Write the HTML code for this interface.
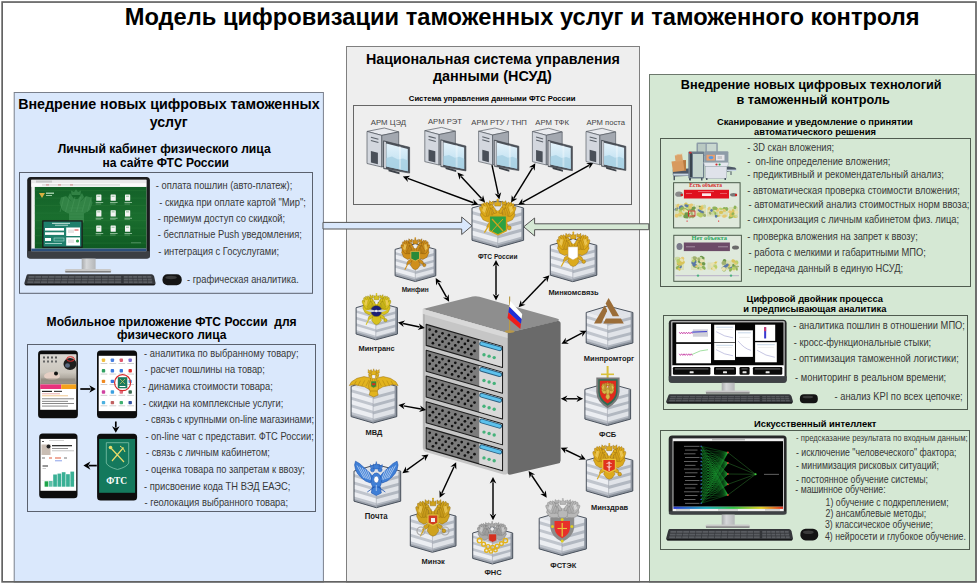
<!DOCTYPE html>
<html><head><meta charset="utf-8"><style>
html,body{margin:0;padding:0;background:#fff;}
svg{display:block;font-family:"Liberation Sans", sans-serif;}
</style></head><body>
<svg width="978" height="584" viewBox="0 0 978 584">
<defs><linearGradient id="scr" x1="0" y1="0" x2="0" y2="1"><stop offset="0" stop-color="#e4f2fa"/><stop offset="1" stop-color="#b5dcef"/></linearGradient><linearGradient id="gpage" x1="0" y1="0" x2="0" y2="1"><stop offset="0" stop-color="#136128"/><stop offset="0.5" stop-color="#1a6e2e"/><stop offset="1" stop-color="#0f5a22"/></linearGradient><linearGradient id="photo" x1="0" y1="0" x2="0" y2="1"><stop offset="0" stop-color="#d9d6d0"/><stop offset="0.6" stop-color="#cbc6bd"/><stop offset="1" stop-color="#8e877c"/></linearGradient><linearGradient id="stand" x1="0" y1="0" x2="1" y2="0"><stop offset="0" stop-color="#a9abad"/><stop offset="0.35" stop-color="#d6d8da"/><stop offset="1" stop-color="#b4b6b8"/></linearGradient><linearGradient id="rainbow" x1="0" y1="0" x2="1" y2="0"><stop offset="0" stop-color="#2a3ad0"/><stop offset="0.3" stop-color="#20b0c0"/><stop offset="0.55" stop-color="#30c040"/><stop offset="0.8" stop-color="#e0d020"/><stop offset="1" stop-color="#e03020"/></linearGradient></defs>
<rect x="0" y="0" width="978" height="584" fill="#fff"/>
<rect x="14.2" y="92.5" width="309.2" height="489.5" fill="#dae8fc" stroke="#7a808c" stroke-width="1"/>
<rect x="346.5" y="46.5" width="293" height="535.5" fill="#eeeeee" stroke="#7f7f7f" stroke-width="1"/>
<rect x="649.5" y="74.5" width="326.5" height="507.5" fill="#d5e8d4" stroke="#6c786c" stroke-width="1"/>
<rect x="2.15" y="2.05" width="973.85" height="579.8" fill="none" stroke="#636363" stroke-width="1.7"/>
<rect x="19.5" y="172.5" width="293.0" height="120.80000000000001" fill="none" stroke="#5a616e" stroke-width="1"/>
<rect x="27.5" y="344.5" width="288.0" height="167.0" fill="none" stroke="#5a616e" stroke-width="1"/>
<rect x="353.5" y="105.5" width="278.0" height="99.0" fill="none" stroke="#666" stroke-width="1"/>
<rect x="660.5" y="138.5" width="310.0" height="148.0" fill="none" stroke="#4f5b4f" stroke-width="1"/>
<rect x="663.5" y="315.5" width="304.0" height="94.0" fill="none" stroke="#4f5b4f" stroke-width="1"/>
<rect x="660.5" y="430.5" width="309.0" height="119.0" fill="none" stroke="#4f5b4f" stroke-width="1"/>
<polygon points="323.00,222.40 461.70,222.40 461.70,217.00 472.00,225.80 461.70,234.50 461.70,229.00 323.00,229.00" fill="#dae8fc" stroke="#555" stroke-width="1" stroke-linejoin="round"/>
<polygon points="648.80,223.80 534.60,223.80 534.60,218.00 523.70,226.80 534.60,236.00 534.60,229.70 648.80,229.70" fill="#d5e8d4" stroke="#555" stroke-width="1" stroke-linejoin="round"/>
<path d="M422.9,308.9 L472.5,296.6 Q476,295.8 479.5,296.8 L557,318.6 Q561,320 557.5,321.2 L507.4,333 Z" fill="#8e8e8e"/>
<path d="M507.4,333 L557.5,321 Q560.6,320.6 560.6,323.5 L560.6,460.5 Q560.6,463 558,463.6 L511,474.5 Q507.4,475.2 507.4,472 Z" fill="#6a6a6a"/>
<path d="M422.9,308.9 L507.4,333 L507.4,472 Q507.4,475.3 503.5,474.4 L426,452 Q422.9,451.1 422.9,448 Z" fill="#c6c6c6"/>
<polygon points="422.90,308.90 507.40,333.00 507.40,338.00 422.90,314.00" fill="#d8d8d8" stroke="none" stroke-width="1" stroke-linejoin="round"/>
<polygon points="422.90,314.00 425.00,314.60 425.00,449.00 422.90,448.40" fill="#b5b5b5" stroke="none" stroke-width="1" stroke-linejoin="round"/>
<polygon points="426.20,324.40 502.50,346.41 502.50,367.41 426.20,345.40" fill="#7c7c7c" stroke="#1e1e1e" stroke-width="1.1" stroke-linejoin="round"/>
<polygon points="479.20,340.19 502.00,346.77 502.00,366.77 479.20,360.19" fill="#d9d9d9" stroke="none" stroke-width="1" stroke-linejoin="round"/>
<g fill="#111"><circle cx="429.70" cy="329.61" r="1.35"/><circle cx="436.10" cy="331.46" r="1.35"/><circle cx="442.50" cy="333.30" r="1.35"/><circle cx="448.90" cy="335.15" r="1.35"/><circle cx="455.30" cy="337.00" r="1.35"/><circle cx="461.70" cy="338.84" r="1.35"/><circle cx="468.10" cy="340.69" r="1.35"/><circle cx="474.50" cy="342.53" r="1.35"/><circle cx="432.90" cy="334.73" r="1.35"/><circle cx="439.30" cy="336.58" r="1.35"/><circle cx="445.70" cy="338.43" r="1.35"/><circle cx="452.10" cy="340.27" r="1.35"/><circle cx="458.50" cy="342.12" r="1.35"/><circle cx="464.90" cy="343.96" r="1.35"/><circle cx="471.30" cy="345.81" r="1.35"/><circle cx="429.70" cy="338.01" r="1.35"/><circle cx="436.10" cy="339.86" r="1.35"/><circle cx="442.50" cy="341.70" r="1.35"/><circle cx="448.90" cy="343.55" r="1.35"/><circle cx="455.30" cy="345.40" r="1.35"/><circle cx="461.70" cy="347.24" r="1.35"/><circle cx="468.10" cy="349.09" r="1.35"/><circle cx="474.50" cy="350.93" r="1.35"/><circle cx="432.90" cy="343.13" r="1.35"/><circle cx="439.30" cy="344.98" r="1.35"/><circle cx="445.70" cy="346.83" r="1.35"/><circle cx="452.10" cy="348.67" r="1.35"/><circle cx="458.50" cy="350.52" r="1.35"/><circle cx="464.90" cy="352.36" r="1.35"/><circle cx="471.30" cy="354.21" r="1.35"/></g>
<line x1="481.70" y1="343.61" x2="499.70" y2="348.80" stroke="#2a5f80" stroke-width="4.8" stroke-linecap="round"/>
<line x1="481.70" y1="343.61" x2="499.70" y2="348.80" stroke="#5cc1ec" stroke-width="3.0" stroke-linecap="round"/>
<circle cx="484.00" cy="354.68" r="1.7" fill="#45b27a"/>
<circle cx="489.10" cy="356.15" r="1.7" fill="#45b27a"/>
<circle cx="494.20" cy="357.62" r="1.7" fill="#45b27a"/>
<polygon points="426.20,350.20 502.50,372.21 502.50,393.21 426.20,371.20" fill="#7c7c7c" stroke="#1e1e1e" stroke-width="1.1" stroke-linejoin="round"/>
<polygon points="479.20,365.99 502.00,372.57 502.00,392.57 479.20,385.99" fill="#d9d9d9" stroke="none" stroke-width="1" stroke-linejoin="round"/>
<g fill="#111"><circle cx="429.70" cy="355.41" r="1.35"/><circle cx="436.10" cy="357.26" r="1.35"/><circle cx="442.50" cy="359.10" r="1.35"/><circle cx="448.90" cy="360.95" r="1.35"/><circle cx="455.30" cy="362.80" r="1.35"/><circle cx="461.70" cy="364.64" r="1.35"/><circle cx="468.10" cy="366.49" r="1.35"/><circle cx="474.50" cy="368.33" r="1.35"/><circle cx="432.90" cy="360.53" r="1.35"/><circle cx="439.30" cy="362.38" r="1.35"/><circle cx="445.70" cy="364.23" r="1.35"/><circle cx="452.10" cy="366.07" r="1.35"/><circle cx="458.50" cy="367.92" r="1.35"/><circle cx="464.90" cy="369.76" r="1.35"/><circle cx="471.30" cy="371.61" r="1.35"/><circle cx="429.70" cy="363.81" r="1.35"/><circle cx="436.10" cy="365.66" r="1.35"/><circle cx="442.50" cy="367.50" r="1.35"/><circle cx="448.90" cy="369.35" r="1.35"/><circle cx="455.30" cy="371.20" r="1.35"/><circle cx="461.70" cy="373.04" r="1.35"/><circle cx="468.10" cy="374.89" r="1.35"/><circle cx="474.50" cy="376.73" r="1.35"/><circle cx="432.90" cy="368.93" r="1.35"/><circle cx="439.30" cy="370.78" r="1.35"/><circle cx="445.70" cy="372.63" r="1.35"/><circle cx="452.10" cy="374.47" r="1.35"/><circle cx="458.50" cy="376.32" r="1.35"/><circle cx="464.90" cy="378.16" r="1.35"/><circle cx="471.30" cy="380.01" r="1.35"/></g>
<line x1="481.70" y1="369.41" x2="499.70" y2="374.60" stroke="#2a5f80" stroke-width="4.8" stroke-linecap="round"/>
<line x1="481.70" y1="369.41" x2="499.70" y2="374.60" stroke="#5cc1ec" stroke-width="3.0" stroke-linecap="round"/>
<circle cx="484.00" cy="380.48" r="1.7" fill="#45b27a"/>
<circle cx="489.10" cy="381.95" r="1.7" fill="#45b27a"/>
<circle cx="494.20" cy="383.42" r="1.7" fill="#45b27a"/>
<polygon points="426.20,376.00 502.50,398.01 502.50,419.01 426.20,397.00" fill="#7c7c7c" stroke="#1e1e1e" stroke-width="1.1" stroke-linejoin="round"/>
<polygon points="479.20,391.79 502.00,398.37 502.00,418.37 479.20,411.79" fill="#d9d9d9" stroke="none" stroke-width="1" stroke-linejoin="round"/>
<g fill="#111"><circle cx="429.70" cy="381.21" r="1.35"/><circle cx="436.10" cy="383.06" r="1.35"/><circle cx="442.50" cy="384.90" r="1.35"/><circle cx="448.90" cy="386.75" r="1.35"/><circle cx="455.30" cy="388.60" r="1.35"/><circle cx="461.70" cy="390.44" r="1.35"/><circle cx="468.10" cy="392.29" r="1.35"/><circle cx="474.50" cy="394.13" r="1.35"/><circle cx="432.90" cy="386.33" r="1.35"/><circle cx="439.30" cy="388.18" r="1.35"/><circle cx="445.70" cy="390.03" r="1.35"/><circle cx="452.10" cy="391.87" r="1.35"/><circle cx="458.50" cy="393.72" r="1.35"/><circle cx="464.90" cy="395.56" r="1.35"/><circle cx="471.30" cy="397.41" r="1.35"/><circle cx="429.70" cy="389.61" r="1.35"/><circle cx="436.10" cy="391.46" r="1.35"/><circle cx="442.50" cy="393.30" r="1.35"/><circle cx="448.90" cy="395.15" r="1.35"/><circle cx="455.30" cy="397.00" r="1.35"/><circle cx="461.70" cy="398.84" r="1.35"/><circle cx="468.10" cy="400.69" r="1.35"/><circle cx="474.50" cy="402.53" r="1.35"/><circle cx="432.90" cy="394.73" r="1.35"/><circle cx="439.30" cy="396.58" r="1.35"/><circle cx="445.70" cy="398.43" r="1.35"/><circle cx="452.10" cy="400.27" r="1.35"/><circle cx="458.50" cy="402.12" r="1.35"/><circle cx="464.90" cy="403.96" r="1.35"/><circle cx="471.30" cy="405.81" r="1.35"/></g>
<line x1="481.70" y1="395.21" x2="499.70" y2="400.40" stroke="#2a5f80" stroke-width="4.8" stroke-linecap="round"/>
<line x1="481.70" y1="395.21" x2="499.70" y2="400.40" stroke="#5cc1ec" stroke-width="3.0" stroke-linecap="round"/>
<circle cx="484.00" cy="406.28" r="1.7" fill="#45b27a"/>
<circle cx="489.10" cy="407.75" r="1.7" fill="#45b27a"/>
<circle cx="494.20" cy="409.22" r="1.7" fill="#45b27a"/>
<polygon points="426.20,401.80 502.50,423.81 502.50,444.81 426.20,422.80" fill="#7c7c7c" stroke="#1e1e1e" stroke-width="1.1" stroke-linejoin="round"/>
<polygon points="479.20,417.59 502.00,424.17 502.00,444.17 479.20,437.59" fill="#d9d9d9" stroke="none" stroke-width="1" stroke-linejoin="round"/>
<g fill="#111"><circle cx="429.70" cy="407.01" r="1.35"/><circle cx="436.10" cy="408.86" r="1.35"/><circle cx="442.50" cy="410.70" r="1.35"/><circle cx="448.90" cy="412.55" r="1.35"/><circle cx="455.30" cy="414.40" r="1.35"/><circle cx="461.70" cy="416.24" r="1.35"/><circle cx="468.10" cy="418.09" r="1.35"/><circle cx="474.50" cy="419.93" r="1.35"/><circle cx="432.90" cy="412.13" r="1.35"/><circle cx="439.30" cy="413.98" r="1.35"/><circle cx="445.70" cy="415.83" r="1.35"/><circle cx="452.10" cy="417.67" r="1.35"/><circle cx="458.50" cy="419.52" r="1.35"/><circle cx="464.90" cy="421.36" r="1.35"/><circle cx="471.30" cy="423.21" r="1.35"/><circle cx="429.70" cy="415.41" r="1.35"/><circle cx="436.10" cy="417.26" r="1.35"/><circle cx="442.50" cy="419.10" r="1.35"/><circle cx="448.90" cy="420.95" r="1.35"/><circle cx="455.30" cy="422.80" r="1.35"/><circle cx="461.70" cy="424.64" r="1.35"/><circle cx="468.10" cy="426.49" r="1.35"/><circle cx="474.50" cy="428.33" r="1.35"/><circle cx="432.90" cy="420.53" r="1.35"/><circle cx="439.30" cy="422.38" r="1.35"/><circle cx="445.70" cy="424.23" r="1.35"/><circle cx="452.10" cy="426.07" r="1.35"/><circle cx="458.50" cy="427.92" r="1.35"/><circle cx="464.90" cy="429.76" r="1.35"/><circle cx="471.30" cy="431.61" r="1.35"/></g>
<line x1="481.70" y1="421.01" x2="499.70" y2="426.20" stroke="#2a5f80" stroke-width="4.8" stroke-linecap="round"/>
<line x1="481.70" y1="421.01" x2="499.70" y2="426.20" stroke="#5cc1ec" stroke-width="3.0" stroke-linecap="round"/>
<circle cx="484.00" cy="432.08" r="1.7" fill="#45b27a"/>
<circle cx="489.10" cy="433.55" r="1.7" fill="#45b27a"/>
<circle cx="494.20" cy="435.02" r="1.7" fill="#45b27a"/>
<polygon points="426.20,427.60 502.50,449.61 502.50,470.61 426.20,448.60" fill="#7c7c7c" stroke="#1e1e1e" stroke-width="1.1" stroke-linejoin="round"/>
<polygon points="479.20,443.39 502.00,449.97 502.00,469.97 479.20,463.39" fill="#d9d9d9" stroke="none" stroke-width="1" stroke-linejoin="round"/>
<g fill="#111"><circle cx="429.70" cy="432.81" r="1.35"/><circle cx="436.10" cy="434.66" r="1.35"/><circle cx="442.50" cy="436.50" r="1.35"/><circle cx="448.90" cy="438.35" r="1.35"/><circle cx="455.30" cy="440.20" r="1.35"/><circle cx="461.70" cy="442.04" r="1.35"/><circle cx="468.10" cy="443.89" r="1.35"/><circle cx="474.50" cy="445.73" r="1.35"/><circle cx="432.90" cy="437.93" r="1.35"/><circle cx="439.30" cy="439.78" r="1.35"/><circle cx="445.70" cy="441.63" r="1.35"/><circle cx="452.10" cy="443.47" r="1.35"/><circle cx="458.50" cy="445.32" r="1.35"/><circle cx="464.90" cy="447.16" r="1.35"/><circle cx="471.30" cy="449.01" r="1.35"/><circle cx="429.70" cy="441.21" r="1.35"/><circle cx="436.10" cy="443.06" r="1.35"/><circle cx="442.50" cy="444.90" r="1.35"/><circle cx="448.90" cy="446.75" r="1.35"/><circle cx="455.30" cy="448.60" r="1.35"/><circle cx="461.70" cy="450.44" r="1.35"/><circle cx="468.10" cy="452.29" r="1.35"/><circle cx="474.50" cy="454.13" r="1.35"/><circle cx="432.90" cy="446.33" r="1.35"/><circle cx="439.30" cy="448.18" r="1.35"/><circle cx="445.70" cy="450.03" r="1.35"/><circle cx="452.10" cy="451.87" r="1.35"/><circle cx="458.50" cy="453.72" r="1.35"/><circle cx="464.90" cy="455.56" r="1.35"/><circle cx="471.30" cy="457.41" r="1.35"/></g>
<line x1="481.70" y1="446.81" x2="499.70" y2="452.00" stroke="#2a5f80" stroke-width="4.8" stroke-linecap="round"/>
<line x1="481.70" y1="446.81" x2="499.70" y2="452.00" stroke="#5cc1ec" stroke-width="3.0" stroke-linecap="round"/>
<circle cx="484.00" cy="457.88" r="1.7" fill="#45b27a"/>
<circle cx="489.10" cy="459.35" r="1.7" fill="#45b27a"/>
<circle cx="494.20" cy="460.82" r="1.7" fill="#45b27a"/>
<line x1="509.60" y1="296.50" x2="509.60" y2="331.20" stroke="#b89a48" stroke-width="1.2"/>
<ellipse cx="509.6" cy="331.6" rx="4.8" ry="1.4" fill="#b8994a"/>
<polygon points="510.20,301.00 522.20,314.00 521.60,319.00 509.30,306.70" fill="#ffffff" stroke="none" stroke-width="1" stroke-linejoin="round"/>
<polygon points="509.30,306.70 521.60,319.00 520.90,324.00 508.40,312.30" fill="#1f2fd8" stroke="none" stroke-width="1" stroke-linejoin="round"/>
<polygon points="508.40,312.30 520.90,324.00 520.30,329.00 507.50,318.00" fill="#ee1c1c" stroke="none" stroke-width="1" stroke-linejoin="round"/>
<polygon points="472.00,208.00 497.70,200.78 523.60,208.00 497.70,215.22" fill="#dfe2e8" stroke="none" stroke-width="1" stroke-linejoin="round"/>
<polygon points="472.00,208.00 497.70,215.22 497.70,247.50 472.00,240.28" fill="#eceef2" stroke="none" stroke-width="1" stroke-linejoin="round"/>
<polygon points="497.70,215.22 523.60,208.00 523.60,240.28 497.70,247.50" fill="#e0e3e8" stroke="none" stroke-width="1" stroke-linejoin="round"/>
<polygon points="472.00,211.07 497.70,218.29 497.70,221.52 472.00,214.29" fill="#c0c5cd" stroke="none" stroke-width="1" stroke-linejoin="round"/>
<polygon points="497.70,219.10 523.60,211.87 523.60,215.10 497.70,222.32" fill="#b2b8c1" stroke="none" stroke-width="1" stroke-linejoin="round"/>
<polygon points="472.00,219.14 497.70,226.36 497.70,229.59 472.00,222.36" fill="#c0c5cd" stroke="none" stroke-width="1" stroke-linejoin="round"/>
<polygon points="497.70,227.17 523.60,219.94 523.60,223.17 497.70,230.39" fill="#b2b8c1" stroke="none" stroke-width="1" stroke-linejoin="round"/>
<polygon points="472.00,227.20 497.70,234.43 497.70,237.66 472.00,230.43" fill="#c0c5cd" stroke="none" stroke-width="1" stroke-linejoin="round"/>
<polygon points="497.70,235.24 523.60,228.01 523.60,231.24 497.70,238.46" fill="#b2b8c1" stroke="none" stroke-width="1" stroke-linejoin="round"/>
<polygon points="472.00,235.27 497.70,242.50 497.70,245.72 472.00,238.50" fill="#c0c5cd" stroke="none" stroke-width="1" stroke-linejoin="round"/>
<polygon points="497.70,243.30 523.60,236.08 523.60,239.31 497.70,246.53" fill="#b2b8c1" stroke="none" stroke-width="1" stroke-linejoin="round"/>
<polygon points="472.00,238.08 497.70,245.30 497.70,247.50 472.00,240.28" fill="#9ca2ac" stroke="none" stroke-width="1" stroke-linejoin="round"/>
<polygon points="497.70,245.30 523.60,238.08 523.60,240.28 497.70,247.50" fill="#8d949e" stroke="none" stroke-width="1" stroke-linejoin="round"/>
<polygon points="521.40,208.50 523.60,208.00 523.60,240.28 521.40,240.78" fill="#8f96a0" stroke="none" stroke-width="1" stroke-linejoin="round"/>
<polygon points="472.00,208.00 497.70,200.78 523.60,208.00 523.60,240.28 497.70,247.50 472.00,240.28" fill="none" stroke="#4a525d" stroke-width="1" stroke-linejoin="round"/>
<line x1="497.70" y1="216.22" x2="497.70" y2="247.50" stroke="#9aa0aa" stroke-width="0.6"/>
<polygon points="494.00,214.26 491.78,210.18 486.60,209.50 481.42,210.86 480.31,214.94 482.90,219.70 488.08,222.08 493.26,220.38" fill="#dcaa1c" stroke="#8e620c" stroke-width="0.4" stroke-linejoin="round"/>
<ellipse cx="490.67" cy="209.84" rx="6.63" ry="2.04" transform="rotate(-102.9 490.67 209.84)" fill="#dcaa1c" stroke="#8e620c" stroke-width="0.35"/>
<ellipse cx="488.63" cy="209.16" rx="7.42" ry="2.04" transform="rotate(-105.9 488.63 209.16)" fill="#dcaa1c" stroke="#8e620c" stroke-width="0.35"/>
<ellipse cx="486.60" cy="209.33" rx="7.44" ry="2.04" transform="rotate(-110.4 486.60 209.33)" fill="#dcaa1c" stroke="#8e620c" stroke-width="0.35"/>
<ellipse cx="484.75" cy="210.01" rx="6.95" ry="2.04" transform="rotate(-115.2 484.75 210.01)" fill="#dcaa1c" stroke="#8e620c" stroke-width="0.35"/>
<ellipse cx="483.08" cy="211.54" rx="5.71" ry="2.04" transform="rotate(-123.5 483.08 211.54)" fill="#dcaa1c" stroke="#8e620c" stroke-width="0.35"/>
<polygon points="486.60,206.78 483.64,206.10 482.16,210.86 485.12,212.90" fill="#f3d36a" stroke="none" stroke-width="1" stroke-linejoin="round" opacity="0.7"/>
<polygon points="501.40,214.26 503.62,210.18 508.80,209.50 513.98,210.86 515.09,214.94 512.50,219.70 507.32,222.08 502.14,220.38" fill="#dcaa1c" stroke="#8e620c" stroke-width="0.4" stroke-linejoin="round"/>
<ellipse cx="504.73" cy="209.84" rx="6.63" ry="2.04" transform="rotate(-77.1 504.73 209.84)" fill="#dcaa1c" stroke="#8e620c" stroke-width="0.35"/>
<ellipse cx="506.76" cy="209.16" rx="7.42" ry="2.04" transform="rotate(-74.1 506.76 209.16)" fill="#dcaa1c" stroke="#8e620c" stroke-width="0.35"/>
<ellipse cx="508.80" cy="209.33" rx="7.44" ry="2.04" transform="rotate(-69.6 508.80 209.33)" fill="#dcaa1c" stroke="#8e620c" stroke-width="0.35"/>
<ellipse cx="510.65" cy="210.01" rx="6.95" ry="2.04" transform="rotate(-64.8 510.65 210.01)" fill="#dcaa1c" stroke="#8e620c" stroke-width="0.35"/>
<ellipse cx="512.32" cy="211.54" rx="5.71" ry="2.04" transform="rotate(-56.5 512.32 211.54)" fill="#dcaa1c" stroke="#8e620c" stroke-width="0.35"/>
<polygon points="508.80,206.78 511.76,206.10 513.24,210.86 510.28,212.90" fill="#f3d36a" stroke="none" stroke-width="1" stroke-linejoin="round" opacity="0.7"/>
<polygon points="494.00,220.38 488.08,223.78 486.60,227.18 490.30,226.50 494.37,223.78" fill="#dcaa1c" stroke="#8e620c" stroke-width="0.4" stroke-linejoin="round"/>
<polygon points="501.40,220.38 507.32,223.78 508.80,227.18 505.10,226.50 501.03,223.78" fill="#dcaa1c" stroke="#8e620c" stroke-width="0.4" stroke-linejoin="round"/>
<line x1="484.38" y1="232.62" x2="490.30" y2="223.10" stroke="#dcaa1c" stroke-width="1.30"/>
<circle cx="509.17" cy="227.86" r="2.04" fill="#dcaa1c" stroke="#8e620c" stroke-width="0.4"/>
<polygon points="494.00,221.74 491.41,227.86 494.74,231.60 497.70,232.62 500.66,231.60 503.99,227.86 501.40,221.74" fill="#dcaa1c" stroke="#8e620c" stroke-width="0.4" stroke-linejoin="round"/>
<ellipse cx="497.70" cy="216.30" rx="5.18" ry="6.46" fill="#dcaa1c" stroke="#8e620c" stroke-width="0.4"/>
<ellipse cx="497.70" cy="208.48" rx="1.85" ry="2.38" fill="#e6e6e6"/>
<polygon points="496.59,212.90 495.11,208.82 492.89,206.10 490.30,205.76 489.93,208.48 492.52,209.50 494.00,213.58" fill="#dcaa1c" stroke="#8e620c" stroke-width="0.4" stroke-linejoin="round"/>
<circle cx="491.41" cy="206.44" r="1.85" fill="#dcaa1c" stroke="#8e620c" stroke-width="0.4"/>
<polygon points="489.56,206.10 487.34,206.78 489.56,207.46" fill="#dcaa1c" stroke="none" stroke-width="1" stroke-linejoin="round"/>
<polygon points="493.63,204.40 493.26,201.00 491.41,202.36 489.56,200.66 488.82,204.40" fill="#dcaa1c" stroke="#8e620c" stroke-width="0.4" stroke-linejoin="round"/>
<polygon points="498.81,212.90 500.29,208.82 502.51,206.10 505.10,205.76 505.47,208.48 502.88,209.50 501.40,213.58" fill="#dcaa1c" stroke="#8e620c" stroke-width="0.4" stroke-linejoin="round"/>
<circle cx="503.99" cy="206.44" r="1.85" fill="#dcaa1c" stroke="#8e620c" stroke-width="0.4"/>
<polygon points="505.84,206.10 508.06,206.78 505.84,207.46" fill="#dcaa1c" stroke="none" stroke-width="1" stroke-linejoin="round"/>
<polygon points="501.77,204.40 502.14,201.00 503.99,202.36 505.84,200.66 506.58,204.40" fill="#dcaa1c" stroke="#8e620c" stroke-width="0.4" stroke-linejoin="round"/>
<polygon points="494.74,206.10 494.37,201.68 496.22,202.70 497.70,200.32 499.18,202.70 501.03,201.68 500.66,206.10" fill="#dcaa1c" stroke="#8e620c" stroke-width="0.4" stroke-linejoin="round"/>
<circle cx="497.70" cy="199.98" r="1.11" fill="#dcaa1c"/>
<polygon points="489.40,215.90 506.50,215.90 506.50,230.64 497.95,234.80 489.40,230.64" fill="#2da142" stroke="#d6a21c" stroke-width="1.3" stroke-linejoin="round"/>
<line x1="492.00" y1="219.00" x2="503.00" y2="231.00" stroke="#d6a21c" stroke-width="1.2"/>
<line x1="503.00" y1="219.00" x2="492.00" y2="231.00" stroke="#d6a21c" stroke-width="1.0"/>
<polygon points="395.10,249.40 415.30,243.70 435.80,249.40 415.30,255.10" fill="#dfe2e8" stroke="none" stroke-width="1" stroke-linejoin="round"/>
<polygon points="395.10,249.40 415.30,255.10 415.30,281.50 395.10,275.80" fill="#eceef2" stroke="none" stroke-width="1" stroke-linejoin="round"/>
<polygon points="415.30,255.10 435.80,249.40 435.80,275.80 415.30,281.50" fill="#e0e3e8" stroke="none" stroke-width="1" stroke-linejoin="round"/>
<polygon points="395.10,251.91 415.30,257.61 415.30,260.25 395.10,254.55" fill="#c0c5cd" stroke="none" stroke-width="1" stroke-linejoin="round"/>
<polygon points="415.30,258.27 435.80,252.57 435.80,255.21 415.30,260.91" fill="#b2b8c1" stroke="none" stroke-width="1" stroke-linejoin="round"/>
<polygon points="395.10,258.51 415.30,264.21 415.30,266.85 395.10,261.15" fill="#c0c5cd" stroke="none" stroke-width="1" stroke-linejoin="round"/>
<polygon points="415.30,264.87 435.80,259.17 435.80,261.81 415.30,267.51" fill="#b2b8c1" stroke="none" stroke-width="1" stroke-linejoin="round"/>
<polygon points="395.10,265.11 415.30,270.81 415.30,273.45 395.10,267.75" fill="#c0c5cd" stroke="none" stroke-width="1" stroke-linejoin="round"/>
<polygon points="415.30,271.47 435.80,265.77 435.80,268.41 415.30,274.11" fill="#b2b8c1" stroke="none" stroke-width="1" stroke-linejoin="round"/>
<polygon points="395.10,271.71 415.30,277.41 415.30,280.05 395.10,274.35" fill="#c0c5cd" stroke="none" stroke-width="1" stroke-linejoin="round"/>
<polygon points="415.30,278.07 435.80,272.37 435.80,275.01 415.30,280.71" fill="#b2b8c1" stroke="none" stroke-width="1" stroke-linejoin="round"/>
<polygon points="395.10,273.60 415.30,279.30 415.30,281.50 395.10,275.80" fill="#9ca2ac" stroke="none" stroke-width="1" stroke-linejoin="round"/>
<polygon points="415.30,279.30 435.80,273.60 435.80,275.80 415.30,281.50" fill="#8d949e" stroke="none" stroke-width="1" stroke-linejoin="round"/>
<polygon points="433.60,249.90 435.80,249.40 435.80,275.80 433.60,276.30" fill="#8f96a0" stroke="none" stroke-width="1" stroke-linejoin="round"/>
<polygon points="395.10,249.40 415.30,243.70 435.80,249.40 435.80,275.80 415.30,281.50 395.10,275.80" fill="none" stroke="#4a525d" stroke-width="1" stroke-linejoin="round"/>
<line x1="415.30" y1="256.10" x2="415.30" y2="281.50" stroke="#9aa0aa" stroke-width="0.6"/>
<polygon points="412.40,251.92 410.66,247.96 406.60,247.30 402.54,248.62 401.67,252.58 403.70,257.20 407.76,259.51 411.82,257.86" fill="#cf8f1c" stroke="#7a4e08" stroke-width="0.4" stroke-linejoin="round"/>
<ellipse cx="409.79" cy="247.63" rx="6.38" ry="1.59" transform="rotate(-100.5 409.79 247.63)" fill="#cf8f1c" stroke="#7a4e08" stroke-width="0.35"/>
<ellipse cx="408.20" cy="246.97" rx="7.11" ry="1.59" transform="rotate(-103.0 408.20 246.97)" fill="#cf8f1c" stroke="#7a4e08" stroke-width="0.35"/>
<ellipse cx="406.60" cy="247.13" rx="7.06" ry="1.59" transform="rotate(-106.7 406.60 247.13)" fill="#cf8f1c" stroke="#7a4e08" stroke-width="0.35"/>
<ellipse cx="405.15" cy="247.80" rx="6.53" ry="1.59" transform="rotate(-110.8 405.15 247.80)" fill="#cf8f1c" stroke="#7a4e08" stroke-width="0.35"/>
<ellipse cx="403.85" cy="249.28" rx="5.24" ry="1.59" transform="rotate(-118.1 403.85 249.28)" fill="#cf8f1c" stroke="#7a4e08" stroke-width="0.35"/>
<polygon points="406.60,244.66 404.28,244.00 403.12,248.62 405.44,250.60" fill="#f3d36a" stroke="none" stroke-width="1" stroke-linejoin="round" opacity="0.7"/>
<polygon points="418.20,251.92 419.94,247.96 424.00,247.30 428.06,248.62 428.93,252.58 426.90,257.20 422.84,259.51 418.78,257.86" fill="#cf8f1c" stroke="#7a4e08" stroke-width="0.4" stroke-linejoin="round"/>
<ellipse cx="420.81" cy="247.63" rx="6.38" ry="1.59" transform="rotate(-79.5 420.81 247.63)" fill="#cf8f1c" stroke="#7a4e08" stroke-width="0.35"/>
<ellipse cx="422.40" cy="246.97" rx="7.11" ry="1.59" transform="rotate(-77.0 422.40 246.97)" fill="#cf8f1c" stroke="#7a4e08" stroke-width="0.35"/>
<ellipse cx="424.00" cy="247.13" rx="7.06" ry="1.59" transform="rotate(-73.3 424.00 247.13)" fill="#cf8f1c" stroke="#7a4e08" stroke-width="0.35"/>
<ellipse cx="425.45" cy="247.80" rx="6.53" ry="1.59" transform="rotate(-69.2 425.45 247.80)" fill="#cf8f1c" stroke="#7a4e08" stroke-width="0.35"/>
<ellipse cx="426.75" cy="249.28" rx="5.24" ry="1.59" transform="rotate(-61.9 426.75 249.28)" fill="#cf8f1c" stroke="#7a4e08" stroke-width="0.35"/>
<polygon points="424.00,244.66 426.32,244.00 427.48,248.62 425.16,250.60" fill="#f3d36a" stroke="none" stroke-width="1" stroke-linejoin="round" opacity="0.7"/>
<polygon points="412.40,257.86 407.76,261.16 406.60,264.46 409.50,263.80 412.69,261.16" fill="#cf8f1c" stroke="#7a4e08" stroke-width="0.4" stroke-linejoin="round"/>
<polygon points="418.20,257.86 422.84,261.16 424.00,264.46 421.10,263.80 417.91,261.16" fill="#cf8f1c" stroke="#7a4e08" stroke-width="0.4" stroke-linejoin="round"/>
<line x1="404.86" y1="269.74" x2="409.50" y2="260.50" stroke="#cf8f1c" stroke-width="1.02"/>
<circle cx="424.29" cy="265.12" r="1.59" fill="#cf8f1c" stroke="#7a4e08" stroke-width="0.4"/>
<polygon points="412.40,259.18 410.37,265.12 412.98,268.75 415.30,269.74 417.62,268.75 420.23,265.12 418.20,259.18" fill="#cf8f1c" stroke="#7a4e08" stroke-width="0.4" stroke-linejoin="round"/>
<ellipse cx="415.30" cy="253.90" rx="4.06" ry="6.27" fill="#cf8f1c" stroke="#7a4e08" stroke-width="0.4"/>
<ellipse cx="415.30" cy="246.31" rx="1.45" ry="2.31" fill="#eeeeee"/>
<polygon points="414.43,250.60 413.27,246.64 411.53,244.00 409.50,243.67 409.21,246.31 411.24,247.30 412.40,251.26" fill="#cf8f1c" stroke="#7a4e08" stroke-width="0.4" stroke-linejoin="round"/>
<circle cx="410.37" cy="244.33" r="1.45" fill="#cf8f1c" stroke="#7a4e08" stroke-width="0.4"/>
<polygon points="408.92,244.00 407.18,244.66 408.92,245.32" fill="#cf8f1c" stroke="none" stroke-width="1" stroke-linejoin="round"/>
<polygon points="412.11,242.35 411.82,239.05 410.37,240.37 408.92,238.72 408.34,242.35" fill="#cf8f1c" stroke="#7a4e08" stroke-width="0.4" stroke-linejoin="round"/>
<polygon points="416.17,250.60 417.33,246.64 419.07,244.00 421.10,243.67 421.39,246.31 419.36,247.30 418.20,251.26" fill="#cf8f1c" stroke="#7a4e08" stroke-width="0.4" stroke-linejoin="round"/>
<circle cx="420.23" cy="244.33" r="1.45" fill="#cf8f1c" stroke="#7a4e08" stroke-width="0.4"/>
<polygon points="421.68,244.00 423.42,244.66 421.68,245.32" fill="#cf8f1c" stroke="none" stroke-width="1" stroke-linejoin="round"/>
<polygon points="418.49,242.35 418.78,239.05 420.23,240.37 421.68,238.72 422.26,242.35" fill="#cf8f1c" stroke="#7a4e08" stroke-width="0.4" stroke-linejoin="round"/>
<polygon points="412.98,244.00 412.69,239.71 414.14,240.70 415.30,238.39 416.46,240.70 417.91,239.71 417.62,244.00" fill="#cf8f1c" stroke="#7a4e08" stroke-width="0.4" stroke-linejoin="round"/>
<circle cx="415.30" cy="238.06" r="0.87" fill="#cf8f1c"/>
<polygon points="410.80,251.30 419.60,251.30 419.60,258.87 415.20,261.00 410.80,258.87" fill="#2a8a3a" stroke="#e0b040" stroke-width="1.0" stroke-linejoin="round"/>
<polygon points="550.30,245.30 572.80,238.79 596.80,245.30 572.80,251.81" fill="#dfe2e8" stroke="none" stroke-width="1" stroke-linejoin="round"/>
<polygon points="550.30,245.30 572.80,251.81 572.80,281.70 550.30,275.19" fill="#eceef2" stroke="none" stroke-width="1" stroke-linejoin="round"/>
<polygon points="572.80,251.81 596.80,245.30 596.80,275.19 572.80,281.70" fill="#e0e3e8" stroke="none" stroke-width="1" stroke-linejoin="round"/>
<polygon points="550.30,248.14 572.80,254.65 572.80,257.64 550.30,251.13" fill="#c0c5cd" stroke="none" stroke-width="1" stroke-linejoin="round"/>
<polygon points="572.80,255.40 596.80,248.89 596.80,251.88 572.80,258.39" fill="#b2b8c1" stroke="none" stroke-width="1" stroke-linejoin="round"/>
<polygon points="550.30,255.61 572.80,262.12 572.80,265.11 550.30,258.60" fill="#c0c5cd" stroke="none" stroke-width="1" stroke-linejoin="round"/>
<polygon points="572.80,262.87 596.80,256.36 596.80,259.35 572.80,265.86" fill="#b2b8c1" stroke="none" stroke-width="1" stroke-linejoin="round"/>
<polygon points="550.30,263.08 572.80,269.59 572.80,272.58 550.30,266.07" fill="#c0c5cd" stroke="none" stroke-width="1" stroke-linejoin="round"/>
<polygon points="572.80,270.34 596.80,263.83 596.80,266.82 572.80,273.33" fill="#b2b8c1" stroke="none" stroke-width="1" stroke-linejoin="round"/>
<polygon points="550.30,270.56 572.80,277.07 572.80,280.06 550.30,273.55" fill="#c0c5cd" stroke="none" stroke-width="1" stroke-linejoin="round"/>
<polygon points="572.80,277.81 596.80,271.30 596.80,274.29 572.80,280.80" fill="#b2b8c1" stroke="none" stroke-width="1" stroke-linejoin="round"/>
<polygon points="550.30,272.99 572.80,279.50 572.80,281.70 550.30,275.19" fill="#9ca2ac" stroke="none" stroke-width="1" stroke-linejoin="round"/>
<polygon points="572.80,279.50 596.80,272.99 596.80,275.19 572.80,281.70" fill="#8d949e" stroke="none" stroke-width="1" stroke-linejoin="round"/>
<polygon points="594.60,245.80 596.80,245.30 596.80,275.19 594.60,275.69" fill="#8f96a0" stroke="none" stroke-width="1" stroke-linejoin="round"/>
<polygon points="550.30,245.30 572.80,238.79 596.80,245.30 596.80,275.19 572.80,281.70 550.30,275.19" fill="none" stroke="#4a525d" stroke-width="1" stroke-linejoin="round"/>
<line x1="572.80" y1="252.81" x2="572.80" y2="281.70" stroke="#9aa0aa" stroke-width="0.6"/>
<polygon points="569.95,247.42 567.94,243.16 563.25,242.45 558.56,243.87 557.55,248.13 559.90,253.10 564.59,255.59 569.28,253.81" fill="#dcaa1c" stroke="#8e620c" stroke-width="0.4" stroke-linejoin="round"/>
<ellipse cx="566.93" cy="242.81" rx="6.88" ry="1.84" transform="rotate(-101.2 566.93 242.81)" fill="#dcaa1c" stroke="#8e620c" stroke-width="0.35"/>
<ellipse cx="565.09" cy="242.10" rx="7.68" ry="1.84" transform="rotate(-103.9 565.09 242.10)" fill="#dcaa1c" stroke="#8e620c" stroke-width="0.35"/>
<ellipse cx="563.25" cy="242.27" rx="7.65" ry="1.84" transform="rotate(-107.9 563.25 242.27)" fill="#dcaa1c" stroke="#8e620c" stroke-width="0.35"/>
<ellipse cx="561.58" cy="242.98" rx="7.09" ry="1.84" transform="rotate(-112.2 561.58 242.98)" fill="#dcaa1c" stroke="#8e620c" stroke-width="0.35"/>
<ellipse cx="560.07" cy="244.58" rx="5.73" ry="1.84" transform="rotate(-119.8 560.07 244.58)" fill="#dcaa1c" stroke="#8e620c" stroke-width="0.35"/>
<polygon points="563.25,239.61 560.57,238.90 559.23,243.87 561.91,246.00" fill="#f3d36a" stroke="none" stroke-width="1" stroke-linejoin="round" opacity="0.7"/>
<polygon points="576.65,247.42 578.66,243.16 583.35,242.45 588.04,243.87 589.04,248.13 586.70,253.10 582.01,255.59 577.32,253.81" fill="#dcaa1c" stroke="#8e620c" stroke-width="0.4" stroke-linejoin="round"/>
<ellipse cx="579.66" cy="242.81" rx="6.88" ry="1.84" transform="rotate(-78.8 579.66 242.81)" fill="#dcaa1c" stroke="#8e620c" stroke-width="0.35"/>
<ellipse cx="581.51" cy="242.10" rx="7.68" ry="1.84" transform="rotate(-76.1 581.51 242.10)" fill="#dcaa1c" stroke="#8e620c" stroke-width="0.35"/>
<ellipse cx="583.35" cy="242.27" rx="7.65" ry="1.84" transform="rotate(-72.1 583.35 242.27)" fill="#dcaa1c" stroke="#8e620c" stroke-width="0.35"/>
<ellipse cx="585.02" cy="242.98" rx="7.09" ry="1.84" transform="rotate(-67.8 585.02 242.98)" fill="#dcaa1c" stroke="#8e620c" stroke-width="0.35"/>
<ellipse cx="586.53" cy="244.58" rx="5.73" ry="1.84" transform="rotate(-60.2 586.53 244.58)" fill="#dcaa1c" stroke="#8e620c" stroke-width="0.35"/>
<polygon points="583.35,239.61 586.03,238.90 587.37,243.87 584.69,246.00" fill="#f3d36a" stroke="none" stroke-width="1" stroke-linejoin="round" opacity="0.7"/>
<polygon points="569.95,253.81 564.59,257.36 563.25,260.91 566.60,260.20 570.28,257.36" fill="#dcaa1c" stroke="#8e620c" stroke-width="0.4" stroke-linejoin="round"/>
<polygon points="576.65,253.81 582.01,257.36 583.35,260.91 580.00,260.20 576.31,257.36" fill="#dcaa1c" stroke="#8e620c" stroke-width="0.4" stroke-linejoin="round"/>
<line x1="561.24" y1="266.59" x2="566.60" y2="256.65" stroke="#dcaa1c" stroke-width="1.17"/>
<circle cx="583.68" cy="261.62" r="1.84" fill="#dcaa1c" stroke="#8e620c" stroke-width="0.4"/>
<polygon points="569.95,255.23 567.60,261.62 570.62,265.53 573.30,266.59 575.98,265.53 579.00,261.62 576.65,255.23" fill="#dcaa1c" stroke="#8e620c" stroke-width="0.4" stroke-linejoin="round"/>
<ellipse cx="573.30" cy="249.55" rx="4.69" ry="6.75" fill="#dcaa1c" stroke="#8e620c" stroke-width="0.4"/>
<ellipse cx="573.30" cy="241.39" rx="1.68" ry="2.49" fill="#eeeeee"/>
<polygon points="572.29,246.00 570.95,241.74 568.94,238.90 566.60,238.55 566.26,241.39 568.61,242.45 569.95,246.71" fill="#dcaa1c" stroke="#8e620c" stroke-width="0.4" stroke-linejoin="round"/>
<circle cx="567.60" cy="239.26" r="1.68" fill="#dcaa1c" stroke="#8e620c" stroke-width="0.4"/>
<polygon points="565.93,238.90 563.92,239.61 565.93,240.32" fill="#dcaa1c" stroke="none" stroke-width="1" stroke-linejoin="round"/>
<polygon points="569.62,237.12 569.28,233.58 567.60,235.00 565.93,233.22 565.26,237.12" fill="#dcaa1c" stroke="#8e620c" stroke-width="0.4" stroke-linejoin="round"/>
<polygon points="574.30,246.00 575.64,241.74 577.65,238.90 580.00,238.55 580.33,241.39 577.99,242.45 576.65,246.71" fill="#dcaa1c" stroke="#8e620c" stroke-width="0.4" stroke-linejoin="round"/>
<circle cx="579.00" cy="239.26" r="1.68" fill="#dcaa1c" stroke="#8e620c" stroke-width="0.4"/>
<polygon points="580.67,238.90 582.68,239.61 580.67,240.32" fill="#dcaa1c" stroke="none" stroke-width="1" stroke-linejoin="round"/>
<polygon points="576.98,237.12 577.32,233.58 579.00,235.00 580.67,233.22 581.34,237.12" fill="#dcaa1c" stroke="#8e620c" stroke-width="0.4" stroke-linejoin="round"/>
<polygon points="570.62,238.90 570.28,234.29 571.96,235.35 573.30,232.87 574.64,235.35 576.31,234.29 575.98,238.90" fill="#dcaa1c" stroke="#8e620c" stroke-width="0.4" stroke-linejoin="round"/>
<circle cx="573.30" cy="232.51" r="1.00" fill="#dcaa1c"/>
<polygon points="568.00,246.70 578.00,246.70 578.00,257.15 573.00,260.10 568.00,257.15" fill="#ffffff" stroke="#c9a040" stroke-width="0.6" stroke-linejoin="round"/>
<polygon points="356.10,307.70 375.80,301.92 397.40,307.70 375.80,313.48" fill="#dfe2e8" stroke="none" stroke-width="1" stroke-linejoin="round"/>
<polygon points="356.10,307.70 375.80,313.48 375.80,339.80 356.10,334.02" fill="#eceef2" stroke="none" stroke-width="1" stroke-linejoin="round"/>
<polygon points="375.80,313.48 397.40,307.70 397.40,334.02 375.80,339.80" fill="#e0e3e8" stroke="none" stroke-width="1" stroke-linejoin="round"/>
<polygon points="356.10,310.20 375.80,315.98 375.80,318.61 356.10,312.83" fill="#c0c5cd" stroke="none" stroke-width="1" stroke-linejoin="round"/>
<polygon points="375.80,316.64 397.40,310.86 397.40,313.49 375.80,319.27" fill="#b2b8c1" stroke="none" stroke-width="1" stroke-linejoin="round"/>
<polygon points="356.10,316.78 375.80,322.56 375.80,325.19 356.10,319.41" fill="#c0c5cd" stroke="none" stroke-width="1" stroke-linejoin="round"/>
<polygon points="375.80,323.22 397.40,317.44 397.40,320.07 375.80,325.85" fill="#b2b8c1" stroke="none" stroke-width="1" stroke-linejoin="round"/>
<polygon points="356.10,323.36 375.80,329.14 375.80,331.77 356.10,325.99" fill="#c0c5cd" stroke="none" stroke-width="1" stroke-linejoin="round"/>
<polygon points="375.80,329.80 397.40,324.02 397.40,326.65 375.80,332.43" fill="#b2b8c1" stroke="none" stroke-width="1" stroke-linejoin="round"/>
<polygon points="356.10,329.94 375.80,335.72 375.80,338.35 356.10,332.57" fill="#c0c5cd" stroke="none" stroke-width="1" stroke-linejoin="round"/>
<polygon points="375.80,336.38 397.40,330.60 397.40,333.23 375.80,339.01" fill="#b2b8c1" stroke="none" stroke-width="1" stroke-linejoin="round"/>
<polygon points="356.10,331.82 375.80,337.60 375.80,339.80 356.10,334.02" fill="#9ca2ac" stroke="none" stroke-width="1" stroke-linejoin="round"/>
<polygon points="375.80,337.60 397.40,331.82 397.40,334.02 375.80,339.80" fill="#8d949e" stroke="none" stroke-width="1" stroke-linejoin="round"/>
<polygon points="395.20,308.20 397.40,307.70 397.40,334.02 395.20,334.52" fill="#8f96a0" stroke="none" stroke-width="1" stroke-linejoin="round"/>
<polygon points="356.10,307.70 375.80,301.92 397.40,307.70 397.40,334.02 375.80,339.80 356.10,334.02" fill="none" stroke="#4a525d" stroke-width="1" stroke-linejoin="round"/>
<line x1="375.80" y1="314.48" x2="375.80" y2="339.80" stroke="#9aa0aa" stroke-width="0.6"/>
<polygon points="373.60,307.38 371.86,303.54 367.80,302.90 363.74,304.18 362.87,308.02 364.90,312.50 368.96,314.74 373.02,313.14" fill="#d8c21e" stroke="#8a7a0a" stroke-width="0.4" stroke-linejoin="round"/>
<ellipse cx="370.99" cy="303.22" rx="6.19" ry="1.59" transform="rotate(-100.8 370.99 303.22)" fill="#d8c21e" stroke="#8a7a0a" stroke-width="0.35"/>
<ellipse cx="369.39" cy="302.58" rx="6.91" ry="1.59" transform="rotate(-103.4 369.39 302.58)" fill="#d8c21e" stroke="#8a7a0a" stroke-width="0.35"/>
<ellipse cx="367.80" cy="302.74" rx="6.87" ry="1.59" transform="rotate(-107.2 367.80 302.74)" fill="#d8c21e" stroke="#8a7a0a" stroke-width="0.35"/>
<ellipse cx="366.35" cy="303.38" rx="6.36" ry="1.59" transform="rotate(-111.4 366.35 303.38)" fill="#d8c21e" stroke="#8a7a0a" stroke-width="0.35"/>
<ellipse cx="365.04" cy="304.82" rx="5.11" ry="1.59" transform="rotate(-118.8 365.04 304.82)" fill="#d8c21e" stroke="#8a7a0a" stroke-width="0.35"/>
<polygon points="367.80,300.34 365.48,299.70 364.32,304.18 366.64,306.10" fill="#f3d36a" stroke="none" stroke-width="1" stroke-linejoin="round" opacity="0.7"/>
<polygon points="379.40,307.38 381.14,303.54 385.20,302.90 389.26,304.18 390.13,308.02 388.10,312.50 384.04,314.74 379.98,313.14" fill="#d8c21e" stroke="#8a7a0a" stroke-width="0.4" stroke-linejoin="round"/>
<ellipse cx="382.01" cy="303.22" rx="6.19" ry="1.59" transform="rotate(-79.2 382.01 303.22)" fill="#d8c21e" stroke="#8a7a0a" stroke-width="0.35"/>
<ellipse cx="383.61" cy="302.58" rx="6.91" ry="1.59" transform="rotate(-76.6 383.61 302.58)" fill="#d8c21e" stroke="#8a7a0a" stroke-width="0.35"/>
<ellipse cx="385.20" cy="302.74" rx="6.87" ry="1.59" transform="rotate(-72.8 385.20 302.74)" fill="#d8c21e" stroke="#8a7a0a" stroke-width="0.35"/>
<ellipse cx="386.65" cy="303.38" rx="6.36" ry="1.59" transform="rotate(-68.6 386.65 303.38)" fill="#d8c21e" stroke="#8a7a0a" stroke-width="0.35"/>
<ellipse cx="387.96" cy="304.82" rx="5.11" ry="1.59" transform="rotate(-61.2 387.96 304.82)" fill="#d8c21e" stroke="#8a7a0a" stroke-width="0.35"/>
<polygon points="385.20,300.34 387.52,299.70 388.68,304.18 386.36,306.10" fill="#f3d36a" stroke="none" stroke-width="1" stroke-linejoin="round" opacity="0.7"/>
<polygon points="373.60,313.14 368.96,316.34 367.80,319.54 370.70,318.90 373.89,316.34" fill="#d8c21e" stroke="#8a7a0a" stroke-width="0.4" stroke-linejoin="round"/>
<polygon points="379.40,313.14 384.04,316.34 385.20,319.54 382.30,318.90 379.11,316.34" fill="#d8c21e" stroke="#8a7a0a" stroke-width="0.4" stroke-linejoin="round"/>
<line x1="366.06" y1="324.66" x2="370.70" y2="315.70" stroke="#d8c21e" stroke-width="1.02"/>
<circle cx="385.49" cy="320.18" r="1.59" fill="#d8c21e" stroke="#8a7a0a" stroke-width="0.4"/>
<polygon points="373.60,314.42 371.57,320.18 374.18,323.70 376.50,324.66 378.82,323.70 381.43,320.18 379.40,314.42" fill="#d8c21e" stroke="#8a7a0a" stroke-width="0.4" stroke-linejoin="round"/>
<ellipse cx="376.50" cy="309.30" rx="4.06" ry="6.08" fill="#d8c21e" stroke="#8a7a0a" stroke-width="0.4"/>
<ellipse cx="376.50" cy="301.94" rx="1.45" ry="2.24" fill="#eeeeee"/>
<polygon points="375.63,306.10 374.47,302.26 372.73,299.70 370.70,299.38 370.41,301.94 372.44,302.90 373.60,306.74" fill="#d8c21e" stroke="#8a7a0a" stroke-width="0.4" stroke-linejoin="round"/>
<circle cx="371.57" cy="300.02" r="1.45" fill="#d8c21e" stroke="#8a7a0a" stroke-width="0.4"/>
<polygon points="370.12,299.70 368.38,300.34 370.12,300.98" fill="#d8c21e" stroke="none" stroke-width="1" stroke-linejoin="round"/>
<polygon points="373.31,298.10 373.02,294.90 371.57,296.18 370.12,294.58 369.54,298.10" fill="#d8c21e" stroke="#8a7a0a" stroke-width="0.4" stroke-linejoin="round"/>
<polygon points="377.37,306.10 378.53,302.26 380.27,299.70 382.30,299.38 382.59,301.94 380.56,302.90 379.40,306.74" fill="#d8c21e" stroke="#8a7a0a" stroke-width="0.4" stroke-linejoin="round"/>
<circle cx="381.43" cy="300.02" r="1.45" fill="#d8c21e" stroke="#8a7a0a" stroke-width="0.4"/>
<polygon points="382.88,299.70 384.62,300.34 382.88,300.98" fill="#d8c21e" stroke="none" stroke-width="1" stroke-linejoin="round"/>
<polygon points="379.69,298.10 379.98,294.90 381.43,296.18 382.88,294.58 383.46,298.10" fill="#d8c21e" stroke="#8a7a0a" stroke-width="0.4" stroke-linejoin="round"/>
<polygon points="374.18,299.70 373.89,295.54 375.34,296.50 376.50,294.26 377.66,296.50 379.11,295.54 378.82,299.70" fill="#d8c21e" stroke="#8a7a0a" stroke-width="0.4" stroke-linejoin="round"/>
<circle cx="376.50" cy="293.94" r="0.87" fill="#d8c21e"/>
<circle cx="376.3" cy="311" r="5.6" fill="#1d2075" stroke="#8a7a0a" stroke-width="0.5"/>
<polygon points="365.50,310.60 371.00,309.60 376.30,310.80 381.60,309.60 387.00,310.60 381.60,312.20 376.30,311.60 371.00,312.20" fill="#c9cdd6" stroke="none" stroke-width="1" stroke-linejoin="round"/>
<circle cx="376.3" cy="311" r="1.3" fill="#e8e8f0"/>
<polygon points="586.20,312.50 607.70,305.96 632.90,312.50 607.70,319.04" fill="#dfe2e8" stroke="none" stroke-width="1" stroke-linejoin="round"/>
<polygon points="586.20,312.50 607.70,319.04 607.70,349.50 586.20,342.96" fill="#eceef2" stroke="none" stroke-width="1" stroke-linejoin="round"/>
<polygon points="607.70,319.04 632.90,312.50 632.90,342.96 607.70,349.50" fill="#e0e3e8" stroke="none" stroke-width="1" stroke-linejoin="round"/>
<polygon points="586.20,315.39 607.70,321.93 607.70,324.98 586.20,318.44" fill="#c0c5cd" stroke="none" stroke-width="1" stroke-linejoin="round"/>
<polygon points="607.70,322.69 632.90,316.16 632.90,319.20 607.70,325.74" fill="#b2b8c1" stroke="none" stroke-width="1" stroke-linejoin="round"/>
<polygon points="586.20,323.01 607.70,329.55 607.70,332.59 586.20,326.06" fill="#c0c5cd" stroke="none" stroke-width="1" stroke-linejoin="round"/>
<polygon points="607.70,330.31 632.90,323.77 632.90,326.82 607.70,333.36" fill="#b2b8c1" stroke="none" stroke-width="1" stroke-linejoin="round"/>
<polygon points="586.20,330.62 607.70,337.16 607.70,340.21 586.20,333.67" fill="#c0c5cd" stroke="none" stroke-width="1" stroke-linejoin="round"/>
<polygon points="607.70,337.92 632.90,331.39 632.90,334.43 607.70,340.97" fill="#b2b8c1" stroke="none" stroke-width="1" stroke-linejoin="round"/>
<polygon points="586.20,338.24 607.70,344.78 607.70,347.82 586.20,341.29" fill="#c0c5cd" stroke="none" stroke-width="1" stroke-linejoin="round"/>
<polygon points="607.70,345.54 632.90,339.00 632.90,342.05 607.70,348.59" fill="#b2b8c1" stroke="none" stroke-width="1" stroke-linejoin="round"/>
<polygon points="586.20,340.76 607.70,347.30 607.70,349.50 586.20,342.96" fill="#9ca2ac" stroke="none" stroke-width="1" stroke-linejoin="round"/>
<polygon points="607.70,347.30 632.90,340.76 632.90,342.96 607.70,349.50" fill="#8d949e" stroke="none" stroke-width="1" stroke-linejoin="round"/>
<polygon points="630.70,313.00 632.90,312.50 632.90,342.96 630.70,343.46" fill="#8f96a0" stroke="none" stroke-width="1" stroke-linejoin="round"/>
<polygon points="586.20,312.50 607.70,305.96 632.90,312.50 632.90,342.96 607.70,349.50 586.20,342.96" fill="none" stroke="#4a525d" stroke-width="1" stroke-linejoin="round"/>
<line x1="607.70" y1="320.04" x2="607.70" y2="349.50" stroke="#9aa0aa" stroke-width="0.6"/>
<polygon points="608.60,298.10 619.20,316.30 612.60,316.30 605.60,303.40" fill="#9b6d38" stroke="none" stroke-width="1" stroke-linejoin="round"/>
<polygon points="604.60,305.60 606.80,309.40 607.00,311.20 601.30,323.60 594.00,323.60" fill="#9b6d38" stroke="none" stroke-width="1" stroke-linejoin="round"/>
<polygon points="605.80,318.40 621.00,318.40 623.80,323.60 603.30,323.60" fill="#9b6d38" stroke="none" stroke-width="1" stroke-linejoin="round"/>
<polygon points="351.10,386.30 373.10,379.90 396.80,386.30 373.10,392.70" fill="#dfe2e8" stroke="none" stroke-width="1" stroke-linejoin="round"/>
<polygon points="351.10,386.30 373.10,392.70 373.10,423.00 351.10,416.60" fill="#eceef2" stroke="none" stroke-width="1" stroke-linejoin="round"/>
<polygon points="373.10,392.70 396.80,386.30 396.80,416.60 373.10,423.00" fill="#e0e3e8" stroke="none" stroke-width="1" stroke-linejoin="round"/>
<polygon points="351.10,389.18 373.10,395.58 373.10,398.61 351.10,392.21" fill="#c0c5cd" stroke="none" stroke-width="1" stroke-linejoin="round"/>
<polygon points="373.10,396.33 396.80,389.94 396.80,392.97 373.10,399.36" fill="#b2b8c1" stroke="none" stroke-width="1" stroke-linejoin="round"/>
<polygon points="351.10,396.75 373.10,403.15 373.10,406.18 351.10,399.78" fill="#c0c5cd" stroke="none" stroke-width="1" stroke-linejoin="round"/>
<polygon points="373.10,403.91 396.80,397.51 396.80,400.54 373.10,406.94" fill="#b2b8c1" stroke="none" stroke-width="1" stroke-linejoin="round"/>
<polygon points="351.10,404.33 373.10,410.73 373.10,413.76 351.10,407.36" fill="#c0c5cd" stroke="none" stroke-width="1" stroke-linejoin="round"/>
<polygon points="373.10,411.49 396.80,405.09 396.80,408.12 373.10,414.52" fill="#b2b8c1" stroke="none" stroke-width="1" stroke-linejoin="round"/>
<polygon points="351.10,411.91 373.10,418.30 373.10,421.33 351.10,414.94" fill="#c0c5cd" stroke="none" stroke-width="1" stroke-linejoin="round"/>
<polygon points="373.10,419.06 396.80,412.66 396.80,415.69 373.10,422.09" fill="#b2b8c1" stroke="none" stroke-width="1" stroke-linejoin="round"/>
<polygon points="351.10,414.40 373.10,420.80 373.10,423.00 351.10,416.60" fill="#9ca2ac" stroke="none" stroke-width="1" stroke-linejoin="round"/>
<polygon points="373.10,420.80 396.80,414.40 396.80,416.60 373.10,423.00" fill="#8d949e" stroke="none" stroke-width="1" stroke-linejoin="round"/>
<polygon points="394.60,386.80 396.80,386.30 396.80,416.60 394.60,417.10" fill="#8f96a0" stroke="none" stroke-width="1" stroke-linejoin="round"/>
<polygon points="351.10,386.30 373.10,379.90 396.80,386.30 396.80,416.60 373.10,423.00 351.10,416.60" fill="none" stroke="#4a525d" stroke-width="1" stroke-linejoin="round"/>
<line x1="373.10" y1="393.70" x2="373.10" y2="423.00" stroke="#9aa0aa" stroke-width="0.6"/>
<polygon points="371.00,378.00 364.00,376.60 357.00,378.30 351.50,381.80 349.30,385.60 354.50,384.40 359.50,385.80 364.50,386.80 370.00,390.00" fill="#e2b41e" stroke="#9a7010" stroke-width="0.5" stroke-linejoin="round"/>
<polygon points="376.40,378.00 383.40,376.60 390.40,378.30 395.90,381.80 398.10,385.60 392.90,384.40 387.90,385.80 382.90,386.80 377.40,390.00" fill="#e2b41e" stroke="#9a7010" stroke-width="0.5" stroke-linejoin="round"/>
<line x1="369.00" y1="380.00" x2="366.00" y2="386.00" stroke="#9a7010" stroke-width="0.4"/>
<line x1="378.40" y1="380.00" x2="381.40" y2="386.00" stroke="#9a7010" stroke-width="0.4"/>
<line x1="364.80" y1="380.30" x2="361.80" y2="386.10" stroke="#9a7010" stroke-width="0.4"/>
<line x1="382.60" y1="380.30" x2="385.60" y2="386.10" stroke="#9a7010" stroke-width="0.4"/>
<line x1="360.60" y1="380.60" x2="357.60" y2="386.20" stroke="#9a7010" stroke-width="0.4"/>
<line x1="386.80" y1="380.60" x2="389.80" y2="386.20" stroke="#9a7010" stroke-width="0.4"/>
<line x1="356.40" y1="380.90" x2="353.40" y2="386.30" stroke="#9a7010" stroke-width="0.4"/>
<line x1="391.00" y1="380.90" x2="394.00" y2="386.30" stroke="#9a7010" stroke-width="0.4"/>
<ellipse cx="373.7" cy="386" rx="5" ry="7.5" fill="#e2b41e" stroke="#9a7010" stroke-width="0.5"/>
<polygon points="370.20,391.00 369.20,395.00 373.70,397.00 378.20,395.00 377.20,391.00" fill="#e2b41e" stroke="#9a7010" stroke-width="0.5" stroke-linejoin="round"/>
<polygon points="372.70,381.00 371.70,375.50 369.50,374.20 368.70,376.50 370.70,378.00 370.90,382.00" fill="#e2b41e" stroke="#9a7010" stroke-width="0.4" stroke-linejoin="round"/>
<circle cx="370.10" cy="374.6" r="1.5" fill="#e2b41e" stroke="#9a7010" stroke-width="0.4"/>
<polygon points="371.50,373.00 371.10,369.50 369.70,371.00 368.30,369.50 368.10,373.00" fill="#e2b41e" stroke="#9a7010" stroke-width="0.4" stroke-linejoin="round"/>
<polygon points="374.70,381.00 375.70,375.50 377.90,374.20 378.70,376.50 376.70,378.00 376.50,382.00" fill="#e2b41e" stroke="#9a7010" stroke-width="0.4" stroke-linejoin="round"/>
<circle cx="377.30" cy="374.6" r="1.5" fill="#e2b41e" stroke="#9a7010" stroke-width="0.4"/>
<polygon points="375.90,373.00 376.30,369.50 377.70,371.00 379.10,369.50 379.30,373.00" fill="#e2b41e" stroke="#9a7010" stroke-width="0.4" stroke-linejoin="round"/>
<polygon points="371.50,375.00 371.10,370.50 372.70,371.50 373.70,368.80 374.70,371.50 376.30,370.50 375.90,375.00" fill="#e2b41e" stroke="#9a7010" stroke-width="0.4" stroke-linejoin="round"/>
<ellipse cx="373.7" cy="376.5" rx="1.3" ry="1.6" fill="#f2f2f2"/>
<polygon points="370.80,381.00 376.60,381.00 376.60,386.46 373.70,388.00 370.80,386.46" fill="#3a8a3a" stroke="#e0b01c" stroke-width="0.6" stroke-linejoin="round"/>
<rect x="372" y="383.2" width="3.4" height="2" fill="#d83020"/>
<polygon points="584.90,389.40 607.40,383.00 630.60,389.40 607.40,395.80" fill="#dfe2e8" stroke="none" stroke-width="1" stroke-linejoin="round"/>
<polygon points="584.90,389.40 607.40,395.80 607.40,425.50 584.90,419.10" fill="#eceef2" stroke="none" stroke-width="1" stroke-linejoin="round"/>
<polygon points="607.40,395.80 630.60,389.40 630.60,419.10 607.40,425.50" fill="#e0e3e8" stroke="none" stroke-width="1" stroke-linejoin="round"/>
<polygon points="584.90,392.22 607.40,398.62 607.40,401.59 584.90,395.19" fill="#c0c5cd" stroke="none" stroke-width="1" stroke-linejoin="round"/>
<polygon points="607.40,399.36 630.60,392.96 630.60,395.93 607.40,402.33" fill="#b2b8c1" stroke="none" stroke-width="1" stroke-linejoin="round"/>
<polygon points="584.90,399.65 607.40,406.05 607.40,409.02 584.90,402.62" fill="#c0c5cd" stroke="none" stroke-width="1" stroke-linejoin="round"/>
<polygon points="607.40,406.79 630.60,400.39 630.60,403.36 607.40,409.76" fill="#b2b8c1" stroke="none" stroke-width="1" stroke-linejoin="round"/>
<polygon points="584.90,407.07 607.40,413.47 607.40,416.44 584.90,410.04" fill="#c0c5cd" stroke="none" stroke-width="1" stroke-linejoin="round"/>
<polygon points="607.40,414.21 630.60,407.82 630.60,410.79 607.40,417.18" fill="#b2b8c1" stroke="none" stroke-width="1" stroke-linejoin="round"/>
<polygon points="584.90,414.50 607.40,420.90 607.40,423.87 584.90,417.47" fill="#c0c5cd" stroke="none" stroke-width="1" stroke-linejoin="round"/>
<polygon points="607.40,421.64 630.60,415.24 630.60,418.21 607.40,424.61" fill="#b2b8c1" stroke="none" stroke-width="1" stroke-linejoin="round"/>
<polygon points="584.90,416.90 607.40,423.30 607.40,425.50 584.90,419.10" fill="#9ca2ac" stroke="none" stroke-width="1" stroke-linejoin="round"/>
<polygon points="607.40,423.30 630.60,416.90 630.60,419.10 607.40,425.50" fill="#8d949e" stroke="none" stroke-width="1" stroke-linejoin="round"/>
<polygon points="628.40,389.90 630.60,389.40 630.60,419.10 628.40,419.60" fill="#8f96a0" stroke="none" stroke-width="1" stroke-linejoin="round"/>
<polygon points="584.90,389.40 607.40,383.00 630.60,389.40 630.60,419.10 607.40,425.50 584.90,419.10" fill="none" stroke="#4a525d" stroke-width="1" stroke-linejoin="round"/>
<line x1="607.40" y1="396.80" x2="607.40" y2="425.50" stroke="#9aa0aa" stroke-width="0.6"/>
<line x1="607.60" y1="366.00" x2="607.60" y2="378.00" stroke="#d8c03a" stroke-width="2"/>
<line x1="601.00" y1="374.30" x2="614.00" y2="374.30" stroke="#d8c03a" stroke-width="1.6"/>
<path d="M596.3,377.5 L619.6,377.5 L619.6,392 Q619,402 607.6,408.2 Q596.5,402 596.3,392 Z" fill="#7a7a7a"/>
<path d="M598.3,379.3 L617.6,379.3 L617.6,392 Q617,400.5 607.6,405.8 Q598.5,400.5 598.3,392 Z" fill="#2f6b55"/>
<path d="M599.8,380.8 L616.1,380.8 L616.1,392 Q615.5,399 607.6,403.6 Q600,399 599.8,392 Z" fill="#e12a1d"/>
<polygon points="606.50,389.92 605.72,387.76 603.90,387.40 602.08,388.12 601.69,390.28 602.60,392.80 604.42,394.06 606.24,393.16" fill="#d9b84a" stroke="#9a7a20" stroke-width="0.4" stroke-linejoin="round"/>
<ellipse cx="605.33" cy="387.58" rx="3.46" ry="0.71" transform="rotate(-98.6 605.33 387.58)" fill="#d9b84a" stroke="#9a7a20" stroke-width="0.35"/>
<ellipse cx="604.62" cy="387.22" rx="3.85" ry="0.71" transform="rotate(-100.7 604.62 387.22)" fill="#d9b84a" stroke="#9a7a20" stroke-width="0.35"/>
<ellipse cx="603.90" cy="387.31" rx="3.80" ry="0.71" transform="rotate(-103.9 603.90 387.31)" fill="#d9b84a" stroke="#9a7a20" stroke-width="0.35"/>
<ellipse cx="603.25" cy="387.67" rx="3.49" ry="0.71" transform="rotate(-107.3 603.25 387.67)" fill="#d9b84a" stroke="#9a7a20" stroke-width="0.35"/>
<ellipse cx="602.66" cy="388.48" rx="2.75" ry="0.71" transform="rotate(-113.7 602.66 388.48)" fill="#d9b84a" stroke="#9a7a20" stroke-width="0.35"/>
<polygon points="603.90,385.96 602.86,385.60 602.34,388.12 603.38,389.20" fill="#f3d36a" stroke="none" stroke-width="1" stroke-linejoin="round" opacity="0.7"/>
<polygon points="609.10,389.92 609.88,387.76 611.70,387.40 613.52,388.12 613.91,390.28 613.00,392.80 611.18,394.06 609.36,393.16" fill="#d9b84a" stroke="#9a7a20" stroke-width="0.4" stroke-linejoin="round"/>
<ellipse cx="610.27" cy="387.58" rx="3.46" ry="0.71" transform="rotate(-81.4 610.27 387.58)" fill="#d9b84a" stroke="#9a7a20" stroke-width="0.35"/>
<ellipse cx="610.98" cy="387.22" rx="3.85" ry="0.71" transform="rotate(-79.3 610.98 387.22)" fill="#d9b84a" stroke="#9a7a20" stroke-width="0.35"/>
<ellipse cx="611.70" cy="387.31" rx="3.80" ry="0.71" transform="rotate(-76.1 611.70 387.31)" fill="#d9b84a" stroke="#9a7a20" stroke-width="0.35"/>
<ellipse cx="612.35" cy="387.67" rx="3.49" ry="0.71" transform="rotate(-72.7 612.35 387.67)" fill="#d9b84a" stroke="#9a7a20" stroke-width="0.35"/>
<ellipse cx="612.93" cy="388.48" rx="2.75" ry="0.71" transform="rotate(-66.3 612.93 388.48)" fill="#d9b84a" stroke="#9a7a20" stroke-width="0.35"/>
<polygon points="611.70,385.96 612.74,385.60 613.26,388.12 612.22,389.20" fill="#f3d36a" stroke="none" stroke-width="1" stroke-linejoin="round" opacity="0.7"/>
<polygon points="606.50,393.88 605.59,397.12 606.76,399.10 607.80,399.64 608.84,399.10 610.01,397.12 609.10,393.88" fill="#d9b84a" stroke="#9a7a20" stroke-width="0.4" stroke-linejoin="round"/>
<ellipse cx="607.80" cy="391.00" rx="1.82" ry="3.42" fill="#d9b84a" stroke="#9a7a20" stroke-width="0.4"/>
<ellipse cx="607.80" cy="386.86" rx="0.65" ry="1.26" fill="#eeeeee"/>
<polygon points="607.41,389.20 606.89,387.04 606.11,385.60 605.20,385.42 605.07,386.86 605.98,387.40 606.50,389.56" fill="#d9b84a" stroke="#9a7a20" stroke-width="0.4" stroke-linejoin="round"/>
<circle cx="605.59" cy="385.78" r="0.65" fill="#d9b84a" stroke="#9a7a20" stroke-width="0.4"/>
<polygon points="604.94,385.60 604.16,385.96 604.94,386.32" fill="#d9b84a" stroke="none" stroke-width="1" stroke-linejoin="round"/>
<polygon points="606.37,384.70 606.24,382.90 605.59,383.62 604.94,382.72 604.68,384.70" fill="#d9b84a" stroke="#9a7a20" stroke-width="0.4" stroke-linejoin="round"/>
<polygon points="608.19,389.20 608.71,387.04 609.49,385.60 610.40,385.42 610.53,386.86 609.62,387.40 609.10,389.56" fill="#d9b84a" stroke="#9a7a20" stroke-width="0.4" stroke-linejoin="round"/>
<circle cx="610.01" cy="385.78" r="0.65" fill="#d9b84a" stroke="#9a7a20" stroke-width="0.4"/>
<polygon points="610.66,385.60 611.44,385.96 610.66,386.32" fill="#d9b84a" stroke="none" stroke-width="1" stroke-linejoin="round"/>
<polygon points="609.23,384.70 609.36,382.90 610.01,383.62 610.66,382.72 610.92,384.70" fill="#d9b84a" stroke="#9a7a20" stroke-width="0.4" stroke-linejoin="round"/>
<polygon points="606.76,385.60 606.63,383.26 607.28,383.80 607.80,382.54 608.32,383.80 608.97,383.26 608.84,385.60" fill="#d9b84a" stroke="#9a7a20" stroke-width="0.4" stroke-linejoin="round"/>
<circle cx="607.80" cy="382.36" r="0.39" fill="#d9b84a"/>
<polygon points="354.00,471.10 376.30,464.56 400.70,471.10 376.30,477.64" fill="#dfe2e8" stroke="none" stroke-width="1" stroke-linejoin="round"/>
<polygon points="354.00,471.10 376.30,477.64 376.30,507.70 354.00,501.16" fill="#eceef2" stroke="none" stroke-width="1" stroke-linejoin="round"/>
<polygon points="376.30,477.64 400.70,471.10 400.70,501.16 376.30,507.70" fill="#e0e3e8" stroke="none" stroke-width="1" stroke-linejoin="round"/>
<polygon points="354.00,473.96 376.30,480.49 376.30,483.50 354.00,476.96" fill="#c0c5cd" stroke="none" stroke-width="1" stroke-linejoin="round"/>
<polygon points="376.30,481.25 400.70,474.71 400.70,477.71 376.30,484.25" fill="#b2b8c1" stroke="none" stroke-width="1" stroke-linejoin="round"/>
<polygon points="354.00,481.47 376.30,488.01 376.30,491.02 354.00,484.48" fill="#c0c5cd" stroke="none" stroke-width="1" stroke-linejoin="round"/>
<polygon points="376.30,488.76 400.70,482.22 400.70,485.23 376.30,491.77" fill="#b2b8c1" stroke="none" stroke-width="1" stroke-linejoin="round"/>
<polygon points="354.00,488.99 376.30,495.52 376.30,498.53 354.00,491.99" fill="#c0c5cd" stroke="none" stroke-width="1" stroke-linejoin="round"/>
<polygon points="376.30,496.28 400.70,489.74 400.70,492.74 376.30,499.28" fill="#b2b8c1" stroke="none" stroke-width="1" stroke-linejoin="round"/>
<polygon points="354.00,496.50 376.30,503.04 376.30,506.05 354.00,499.51" fill="#c0c5cd" stroke="none" stroke-width="1" stroke-linejoin="round"/>
<polygon points="376.30,503.79 400.70,497.25 400.70,500.26 376.30,506.80" fill="#b2b8c1" stroke="none" stroke-width="1" stroke-linejoin="round"/>
<polygon points="354.00,498.96 376.30,505.50 376.30,507.70 354.00,501.16" fill="#9ca2ac" stroke="none" stroke-width="1" stroke-linejoin="round"/>
<polygon points="376.30,505.50 400.70,498.96 400.70,501.16 376.30,507.70" fill="#8d949e" stroke="none" stroke-width="1" stroke-linejoin="round"/>
<polygon points="398.50,471.60 400.70,471.10 400.70,501.16 398.50,501.66" fill="#8f96a0" stroke="none" stroke-width="1" stroke-linejoin="round"/>
<polygon points="354.00,471.10 376.30,464.56 400.70,471.10 400.70,501.16 376.30,507.70 354.00,501.16" fill="none" stroke="#4a525d" stroke-width="1" stroke-linejoin="round"/>
<line x1="376.30" y1="478.64" x2="376.30" y2="507.70" stroke="#9aa0aa" stroke-width="0.6"/>
<polygon points="373.00,477.00 369.00,472.00 364.00,467.50 359.50,463.50 355.50,461.20 354.60,465.00 355.50,469.50 357.50,473.50 361.00,477.50 365.50,481.00 370.50,483.00" fill="#3f7fd6" stroke="#1a52b0" stroke-width="0.6" stroke-linejoin="round"/>
<polygon points="379.60,477.00 383.60,472.00 388.60,467.50 393.10,463.50 397.10,461.20 398.00,465.00 397.10,469.50 395.10,473.50 391.60,477.50 387.10,481.00 382.10,483.00" fill="#3f7fd6" stroke="#1a52b0" stroke-width="0.6" stroke-linejoin="round"/>
<line x1="357.00" y1="465.50" x2="364.00" y2="478.00" stroke="#e8f0fb" stroke-width="0.6"/>
<line x1="395.60" y1="465.50" x2="388.60" y2="478.00" stroke="#e8f0fb" stroke-width="0.6"/>
<line x1="359.60" y1="466.70" x2="365.80" y2="478.60" stroke="#e8f0fb" stroke-width="0.6"/>
<line x1="393.00" y1="466.70" x2="386.80" y2="478.60" stroke="#e8f0fb" stroke-width="0.6"/>
<line x1="362.20" y1="467.90" x2="367.60" y2="479.20" stroke="#e8f0fb" stroke-width="0.6"/>
<line x1="390.40" y1="467.90" x2="385.00" y2="479.20" stroke="#e8f0fb" stroke-width="0.6"/>
<line x1="364.80" y1="469.10" x2="369.40" y2="479.80" stroke="#e8f0fb" stroke-width="0.6"/>
<line x1="387.80" y1="469.10" x2="383.20" y2="479.80" stroke="#e8f0fb" stroke-width="0.6"/>
<line x1="367.40" y1="470.30" x2="371.20" y2="480.40" stroke="#e8f0fb" stroke-width="0.6"/>
<line x1="385.20" y1="470.30" x2="381.40" y2="480.40" stroke="#e8f0fb" stroke-width="0.6"/>
<ellipse cx="376.3" cy="481" rx="5.2" ry="8" fill="#3f7fd6" stroke="#1a52b0" stroke-width="0.6"/>
<polygon points="372.30,487.00 371.30,493.00 376.30,495.50 381.30,493.00 380.30,487.00" fill="#3f7fd6" stroke="#1a52b0" stroke-width="0.6" stroke-linejoin="round"/>
<circle cx="372.50" cy="469.8" r="2" fill="#3f7fd6" stroke="#1a52b0" stroke-width="0.5"/>
<polygon points="373.80,467.50 373.30,464.50 371.80,465.80 370.30,464.50 370.30,467.50" fill="#3f7fd6" stroke="#1a52b0" stroke-width="0.4" stroke-linejoin="round"/>
<line x1="374.30" y1="487.00" x2="367.30" y2="492.00" stroke="#1a52b0" stroke-width="0.8"/>
<circle cx="380.10" cy="469.8" r="2" fill="#3f7fd6" stroke="#1a52b0" stroke-width="0.5"/>
<polygon points="378.80,467.50 379.30,464.50 380.80,465.80 382.30,464.50 382.30,467.50" fill="#3f7fd6" stroke="#1a52b0" stroke-width="0.4" stroke-linejoin="round"/>
<line x1="378.30" y1="487.00" x2="385.30" y2="492.00" stroke="#1a52b0" stroke-width="0.8"/>
<polygon points="373.80,469.00 373.50,464.00 375.30,465.00 376.30,461.50 377.30,465.00 379.10,464.00 378.80,469.00" fill="#3f7fd6" stroke="#1a52b0" stroke-width="0.4" stroke-linejoin="round"/>
<ellipse cx="376.3" cy="479.5" rx="2.6" ry="3.4" fill="#ffffff" stroke="#1a52b0" stroke-width="0.6"/>
<line x1="376.30" y1="485.00" x2="376.30" y2="491.00" stroke="#e8f0fb" stroke-width="0.6"/>
<polygon points="586.30,460.30 608.60,453.79 632.80,460.30 608.60,466.81" fill="#dfe2e8" stroke="none" stroke-width="1" stroke-linejoin="round"/>
<polygon points="586.30,460.30 608.60,466.81 608.60,497.50 586.30,490.99" fill="#eceef2" stroke="none" stroke-width="1" stroke-linejoin="round"/>
<polygon points="608.60,466.81 632.80,460.30 632.80,490.99 608.60,497.50" fill="#e0e3e8" stroke="none" stroke-width="1" stroke-linejoin="round"/>
<polygon points="586.30,463.22 608.60,469.73 608.60,472.79 586.30,466.28" fill="#c0c5cd" stroke="none" stroke-width="1" stroke-linejoin="round"/>
<polygon points="608.60,470.49 632.80,463.98 632.80,467.05 608.60,473.56" fill="#b2b8c1" stroke="none" stroke-width="1" stroke-linejoin="round"/>
<polygon points="586.30,470.89 608.60,477.40 608.60,480.47 586.30,473.96" fill="#c0c5cd" stroke="none" stroke-width="1" stroke-linejoin="round"/>
<polygon points="608.60,478.17 632.80,471.66 632.80,474.72 608.60,481.23" fill="#b2b8c1" stroke="none" stroke-width="1" stroke-linejoin="round"/>
<polygon points="586.30,478.56 608.60,485.07 608.60,488.14 586.30,481.63" fill="#c0c5cd" stroke="none" stroke-width="1" stroke-linejoin="round"/>
<polygon points="608.60,485.84 632.80,479.33 632.80,482.40 608.60,488.91" fill="#b2b8c1" stroke="none" stroke-width="1" stroke-linejoin="round"/>
<polygon points="586.30,486.23 608.60,492.74 608.60,495.81 586.30,489.30" fill="#c0c5cd" stroke="none" stroke-width="1" stroke-linejoin="round"/>
<polygon points="608.60,493.51 632.80,487.00 632.80,490.07 608.60,496.58" fill="#b2b8c1" stroke="none" stroke-width="1" stroke-linejoin="round"/>
<polygon points="586.30,488.79 608.60,495.30 608.60,497.50 586.30,490.99" fill="#9ca2ac" stroke="none" stroke-width="1" stroke-linejoin="round"/>
<polygon points="608.60,495.30 632.80,488.79 632.80,490.99 608.60,497.50" fill="#8d949e" stroke="none" stroke-width="1" stroke-linejoin="round"/>
<polygon points="630.60,460.80 632.80,460.30 632.80,490.99 630.60,491.49" fill="#8f96a0" stroke="none" stroke-width="1" stroke-linejoin="round"/>
<polygon points="586.30,460.30 608.60,453.79 632.80,460.30 632.80,490.99 608.60,497.50 586.30,490.99" fill="none" stroke="#4a525d" stroke-width="1" stroke-linejoin="round"/>
<line x1="608.60" y1="467.81" x2="608.60" y2="497.50" stroke="#9aa0aa" stroke-width="0.6"/>
<polygon points="605.95,459.45 603.94,455.04 599.25,454.31 594.56,455.78 593.55,460.18 595.90,465.32 600.59,467.89 605.28,466.05" fill="#dcaa1c" stroke="#8e620c" stroke-width="0.4" stroke-linejoin="round"/>
<ellipse cx="602.93" cy="454.68" rx="7.10" ry="1.84" transform="rotate(-100.9 602.93 454.68)" fill="#dcaa1c" stroke="#8e620c" stroke-width="0.35"/>
<ellipse cx="601.09" cy="453.94" rx="7.92" ry="1.84" transform="rotate(-103.4 601.09 453.94)" fill="#dcaa1c" stroke="#8e620c" stroke-width="0.35"/>
<ellipse cx="599.25" cy="454.13" rx="7.88" ry="1.84" transform="rotate(-107.3 599.25 454.13)" fill="#dcaa1c" stroke="#8e620c" stroke-width="0.35"/>
<ellipse cx="597.58" cy="454.86" rx="7.30" ry="1.84" transform="rotate(-111.5 597.58 454.86)" fill="#dcaa1c" stroke="#8e620c" stroke-width="0.35"/>
<ellipse cx="596.07" cy="456.51" rx="5.87" ry="1.84" transform="rotate(-119.0 596.07 456.51)" fill="#dcaa1c" stroke="#8e620c" stroke-width="0.35"/>
<polygon points="599.25,451.37 596.57,450.64 595.23,455.78 597.91,457.98" fill="#f3d36a" stroke="none" stroke-width="1" stroke-linejoin="round" opacity="0.7"/>
<polygon points="612.65,459.45 614.66,455.04 619.35,454.31 624.04,455.78 625.04,460.18 622.70,465.32 618.01,467.89 613.32,466.05" fill="#dcaa1c" stroke="#8e620c" stroke-width="0.4" stroke-linejoin="round"/>
<ellipse cx="615.66" cy="454.68" rx="7.10" ry="1.84" transform="rotate(-79.1 615.66 454.68)" fill="#dcaa1c" stroke="#8e620c" stroke-width="0.35"/>
<ellipse cx="617.51" cy="453.94" rx="7.92" ry="1.84" transform="rotate(-76.6 617.51 453.94)" fill="#dcaa1c" stroke="#8e620c" stroke-width="0.35"/>
<ellipse cx="619.35" cy="454.13" rx="7.88" ry="1.84" transform="rotate(-72.7 619.35 454.13)" fill="#dcaa1c" stroke="#8e620c" stroke-width="0.35"/>
<ellipse cx="621.02" cy="454.86" rx="7.30" ry="1.84" transform="rotate(-68.5 621.02 454.86)" fill="#dcaa1c" stroke="#8e620c" stroke-width="0.35"/>
<ellipse cx="622.53" cy="456.51" rx="5.87" ry="1.84" transform="rotate(-61.0 622.53 456.51)" fill="#dcaa1c" stroke="#8e620c" stroke-width="0.35"/>
<polygon points="619.35,451.37 622.03,450.64 623.37,455.78 620.69,457.98" fill="#f3d36a" stroke="none" stroke-width="1" stroke-linejoin="round" opacity="0.7"/>
<polygon points="605.95,466.05 600.59,469.72 599.25,473.39 602.60,472.66 606.28,469.72" fill="#dcaa1c" stroke="#8e620c" stroke-width="0.4" stroke-linejoin="round"/>
<polygon points="612.65,466.05 618.01,469.72 619.35,473.39 616.00,472.66 612.31,469.72" fill="#dcaa1c" stroke="#8e620c" stroke-width="0.4" stroke-linejoin="round"/>
<line x1="597.24" y1="479.27" x2="602.60" y2="468.99" stroke="#dcaa1c" stroke-width="1.17"/>
<circle cx="619.68" cy="474.13" r="1.84" fill="#dcaa1c" stroke="#8e620c" stroke-width="0.4"/>
<polygon points="605.95,467.52 603.60,474.13 606.62,478.17 609.30,479.27 611.98,478.17 615.00,474.13 612.65,467.52" fill="#dcaa1c" stroke="#8e620c" stroke-width="0.4" stroke-linejoin="round"/>
<ellipse cx="609.30" cy="461.65" rx="4.69" ry="6.97" fill="#dcaa1c" stroke="#8e620c" stroke-width="0.4"/>
<ellipse cx="609.30" cy="453.21" rx="1.68" ry="2.57" fill="#eeeeee"/>
<polygon points="608.29,457.98 606.95,453.58 604.94,450.64 602.60,450.27 602.26,453.21 604.61,454.31 605.95,458.71" fill="#dcaa1c" stroke="#8e620c" stroke-width="0.4" stroke-linejoin="round"/>
<circle cx="603.60" cy="451.01" r="1.68" fill="#dcaa1c" stroke="#8e620c" stroke-width="0.4"/>
<polygon points="601.93,450.64 599.92,451.37 601.93,452.11" fill="#dcaa1c" stroke="none" stroke-width="1" stroke-linejoin="round"/>
<polygon points="605.62,448.81 605.28,445.13 603.60,446.60 601.93,444.77 601.26,448.81" fill="#dcaa1c" stroke="#8e620c" stroke-width="0.4" stroke-linejoin="round"/>
<polygon points="610.30,457.98 611.64,453.58 613.65,450.64 616.00,450.27 616.33,453.21 613.99,454.31 612.65,458.71" fill="#dcaa1c" stroke="#8e620c" stroke-width="0.4" stroke-linejoin="round"/>
<circle cx="615.00" cy="451.01" r="1.68" fill="#dcaa1c" stroke="#8e620c" stroke-width="0.4"/>
<polygon points="616.67,450.64 618.68,451.37 616.67,452.11" fill="#dcaa1c" stroke="none" stroke-width="1" stroke-linejoin="round"/>
<polygon points="612.98,448.81 613.32,445.13 615.00,446.60 616.67,444.77 617.34,448.81" fill="#dcaa1c" stroke="#8e620c" stroke-width="0.4" stroke-linejoin="round"/>
<polygon points="606.62,450.64 606.28,445.87 607.96,446.97 609.30,444.40 610.64,446.97 612.31,445.87 611.98,450.64" fill="#dcaa1c" stroke="#8e620c" stroke-width="0.4" stroke-linejoin="round"/>
<circle cx="609.30" cy="444.03" r="1.00" fill="#dcaa1c"/>
<polygon points="602.70,459.30 615.50,459.30 615.50,469.60 609.10,472.50 602.70,469.60" fill="#e0321e" stroke="#e8c23a" stroke-width="1.3" stroke-linejoin="round"/>
<line x1="609.10" y1="461.50" x2="609.10" y2="471.00" stroke="#ffffff" stroke-width="0.9"/>
<path d="M606.5,463.5 Q609.1,462 611.7,463.5 M606.8,466.5 Q609.1,468 611.4,466.5" fill="none" stroke="#ffffff" stroke-width="0.7"/>
<polygon points="410.30,516.10 432.40,509.70 456.00,516.10 432.40,522.50" fill="#dfe2e8" stroke="none" stroke-width="1" stroke-linejoin="round"/>
<polygon points="410.30,516.10 432.40,522.50 432.40,552.30 410.30,545.90" fill="#eceef2" stroke="none" stroke-width="1" stroke-linejoin="round"/>
<polygon points="432.40,522.50 456.00,516.10 456.00,545.90 432.40,552.30" fill="#e0e3e8" stroke="none" stroke-width="1" stroke-linejoin="round"/>
<polygon points="410.30,518.93 432.40,525.33 432.40,528.31 410.30,521.91" fill="#c0c5cd" stroke="none" stroke-width="1" stroke-linejoin="round"/>
<polygon points="432.40,526.07 456.00,519.68 456.00,522.66 432.40,529.05" fill="#b2b8c1" stroke="none" stroke-width="1" stroke-linejoin="round"/>
<polygon points="410.30,526.38 432.40,532.78 432.40,535.76 410.30,529.36" fill="#c0c5cd" stroke="none" stroke-width="1" stroke-linejoin="round"/>
<polygon points="432.40,533.52 456.00,527.13 456.00,530.11 432.40,536.50" fill="#b2b8c1" stroke="none" stroke-width="1" stroke-linejoin="round"/>
<polygon points="410.30,533.83 432.40,540.23 432.40,543.21 410.30,536.81" fill="#c0c5cd" stroke="none" stroke-width="1" stroke-linejoin="round"/>
<polygon points="432.40,540.98 456.00,534.58 456.00,537.56 432.40,543.96" fill="#b2b8c1" stroke="none" stroke-width="1" stroke-linejoin="round"/>
<polygon points="410.30,541.28 432.40,547.68 432.40,550.66 410.30,544.26" fill="#c0c5cd" stroke="none" stroke-width="1" stroke-linejoin="round"/>
<polygon points="432.40,548.43 456.00,542.03 456.00,545.01 432.40,551.41" fill="#b2b8c1" stroke="none" stroke-width="1" stroke-linejoin="round"/>
<polygon points="410.30,543.70 432.40,550.10 432.40,552.30 410.30,545.90" fill="#9ca2ac" stroke="none" stroke-width="1" stroke-linejoin="round"/>
<polygon points="432.40,550.10 456.00,543.70 456.00,545.90 432.40,552.30" fill="#8d949e" stroke="none" stroke-width="1" stroke-linejoin="round"/>
<polygon points="453.80,516.60 456.00,516.10 456.00,545.90 453.80,546.40" fill="#8f96a0" stroke="none" stroke-width="1" stroke-linejoin="round"/>
<polygon points="410.30,516.10 432.40,509.70 456.00,516.10 456.00,545.90 432.40,552.30 410.30,545.90" fill="none" stroke="#4a525d" stroke-width="1" stroke-linejoin="round"/>
<line x1="432.40" y1="523.50" x2="432.40" y2="552.30" stroke="#9aa0aa" stroke-width="0.6"/>
<polygon points="429.50,515.16 427.40,510.48 422.50,509.70 417.60,511.26 416.55,515.94 419.00,521.40 423.90,524.13 428.80,522.18" fill="#cfa21e" stroke="#866008" stroke-width="0.4" stroke-linejoin="round"/>
<ellipse cx="426.35" cy="510.09" rx="7.54" ry="1.93" transform="rotate(-100.7 426.35 510.09)" fill="#cfa21e" stroke="#866008" stroke-width="0.35"/>
<ellipse cx="424.43" cy="509.31" rx="8.41" ry="1.93" transform="rotate(-103.2 424.43 509.31)" fill="#cfa21e" stroke="#866008" stroke-width="0.35"/>
<ellipse cx="422.50" cy="509.50" rx="8.36" ry="1.93" transform="rotate(-107.0 422.50 509.50)" fill="#cfa21e" stroke="#866008" stroke-width="0.35"/>
<ellipse cx="420.75" cy="510.28" rx="7.74" ry="1.93" transform="rotate(-111.2 420.75 510.28)" fill="#cfa21e" stroke="#866008" stroke-width="0.35"/>
<ellipse cx="419.17" cy="512.04" rx="6.22" ry="1.93" transform="rotate(-118.6 419.17 512.04)" fill="#cfa21e" stroke="#866008" stroke-width="0.35"/>
<polygon points="422.50,506.58 419.70,505.80 418.30,511.26 421.10,513.60" fill="#f3d36a" stroke="none" stroke-width="1" stroke-linejoin="round" opacity="0.7"/>
<polygon points="436.50,515.16 438.60,510.48 443.50,509.70 448.40,511.26 449.45,515.94 447.00,521.40 442.10,524.13 437.20,522.18" fill="#cfa21e" stroke="#866008" stroke-width="0.4" stroke-linejoin="round"/>
<ellipse cx="439.65" cy="510.09" rx="7.54" ry="1.93" transform="rotate(-79.3 439.65 510.09)" fill="#cfa21e" stroke="#866008" stroke-width="0.35"/>
<ellipse cx="441.57" cy="509.31" rx="8.41" ry="1.93" transform="rotate(-76.8 441.57 509.31)" fill="#cfa21e" stroke="#866008" stroke-width="0.35"/>
<ellipse cx="443.50" cy="509.50" rx="8.36" ry="1.93" transform="rotate(-73.0 443.50 509.50)" fill="#cfa21e" stroke="#866008" stroke-width="0.35"/>
<ellipse cx="445.25" cy="510.28" rx="7.74" ry="1.93" transform="rotate(-68.8 445.25 510.28)" fill="#cfa21e" stroke="#866008" stroke-width="0.35"/>
<ellipse cx="446.83" cy="512.04" rx="6.22" ry="1.93" transform="rotate(-61.4 446.83 512.04)" fill="#cfa21e" stroke="#866008" stroke-width="0.35"/>
<polygon points="443.50,506.58 446.30,505.80 447.70,511.26 444.90,513.60" fill="#f3d36a" stroke="none" stroke-width="1" stroke-linejoin="round" opacity="0.7"/>
<polygon points="429.50,522.18 423.90,526.08 422.50,529.98 426.00,529.20 429.85,526.08" fill="#cfa21e" stroke="#866008" stroke-width="0.4" stroke-linejoin="round"/>
<polygon points="436.50,522.18 442.10,526.08 443.50,529.98 440.00,529.20 436.15,526.08" fill="#cfa21e" stroke="#866008" stroke-width="0.4" stroke-linejoin="round"/>
<line x1="420.40" y1="536.22" x2="426.00" y2="525.30" stroke="#cfa21e" stroke-width="1.23"/>
<circle cx="443.85" cy="530.76" r="1.93" fill="#cfa21e" stroke="#866008" stroke-width="0.4"/>
<polygon points="429.50,523.74 427.05,530.76 430.20,535.05 433.00,536.22 435.80,535.05 438.95,530.76 436.50,523.74" fill="#cfa21e" stroke="#866008" stroke-width="0.4" stroke-linejoin="round"/>
<ellipse cx="433.00" cy="517.50" rx="4.90" ry="7.41" fill="#cfa21e" stroke="#866008" stroke-width="0.4"/>
<ellipse cx="433.00" cy="508.53" rx="1.75" ry="2.73" fill="#eeeeee"/>
<polygon points="431.95,513.60 430.55,508.92 428.45,505.80 426.00,505.41 425.65,508.53 428.10,509.70 429.50,514.38" fill="#cfa21e" stroke="#866008" stroke-width="0.4" stroke-linejoin="round"/>
<circle cx="427.05" cy="506.19" r="1.75" fill="#cfa21e" stroke="#866008" stroke-width="0.4"/>
<polygon points="425.30,505.80 423.20,506.58 425.30,507.36" fill="#cfa21e" stroke="none" stroke-width="1" stroke-linejoin="round"/>
<polygon points="429.15,503.85 428.80,499.95 427.05,501.51 425.30,499.56 424.60,503.85" fill="#cfa21e" stroke="#866008" stroke-width="0.4" stroke-linejoin="round"/>
<polygon points="434.05,513.60 435.45,508.92 437.55,505.80 440.00,505.41 440.35,508.53 437.90,509.70 436.50,514.38" fill="#cfa21e" stroke="#866008" stroke-width="0.4" stroke-linejoin="round"/>
<circle cx="438.95" cy="506.19" r="1.75" fill="#cfa21e" stroke="#866008" stroke-width="0.4"/>
<polygon points="440.70,505.80 442.80,506.58 440.70,507.36" fill="#cfa21e" stroke="none" stroke-width="1" stroke-linejoin="round"/>
<polygon points="436.85,503.85 437.20,499.95 438.95,501.51 440.70,499.56 441.40,503.85" fill="#cfa21e" stroke="#866008" stroke-width="0.4" stroke-linejoin="round"/>
<polygon points="430.20,505.80 429.85,500.73 431.60,501.90 433.00,499.17 434.40,501.90 436.15,500.73 435.80,505.80" fill="#cfa21e" stroke="#866008" stroke-width="0.4" stroke-linejoin="round"/>
<circle cx="433.00" cy="498.78" r="1.05" fill="#cfa21e"/>
<polygon points="428.00,515.00 437.90,515.00 437.90,523.11 432.95,525.40 428.00,523.11" fill="#d13b22" stroke="#e0c040" stroke-width="1.2" stroke-linejoin="round"/>
<rect x="431" y="518" width="4" height="4" fill="#f0f0f0"/>
<ellipse cx="421" cy="531" rx="4" ry="4" fill="none" stroke="#a8a8a8" stroke-width="1.2"/>
<ellipse cx="445" cy="531" rx="4" ry="4" fill="none" stroke="#a8a8a8" stroke-width="1.2"/>
<polygon points="472.70,533.00 492.40,527.40 512.70,533.00 492.40,538.60" fill="#dfe2e8" stroke="none" stroke-width="1" stroke-linejoin="round"/>
<polygon points="472.70,533.00 492.40,538.60 492.40,564.00 472.70,558.40" fill="#eceef2" stroke="none" stroke-width="1" stroke-linejoin="round"/>
<polygon points="492.40,538.60 512.70,533.00 512.70,558.40 492.40,564.00" fill="#e0e3e8" stroke="none" stroke-width="1" stroke-linejoin="round"/>
<polygon points="472.70,535.41 492.40,541.01 492.40,543.55 472.70,537.95" fill="#c0c5cd" stroke="none" stroke-width="1" stroke-linejoin="round"/>
<polygon points="492.40,541.65 512.70,536.05 512.70,538.59 492.40,544.19" fill="#b2b8c1" stroke="none" stroke-width="1" stroke-linejoin="round"/>
<polygon points="472.70,541.76 492.40,547.36 492.40,549.90 472.70,544.30" fill="#c0c5cd" stroke="none" stroke-width="1" stroke-linejoin="round"/>
<polygon points="492.40,548.00 512.70,542.40 512.70,544.94 492.40,550.54" fill="#b2b8c1" stroke="none" stroke-width="1" stroke-linejoin="round"/>
<polygon points="472.70,548.11 492.40,553.71 492.40,556.25 472.70,550.65" fill="#c0c5cd" stroke="none" stroke-width="1" stroke-linejoin="round"/>
<polygon points="492.40,554.35 512.70,548.75 512.70,551.29 492.40,556.89" fill="#b2b8c1" stroke="none" stroke-width="1" stroke-linejoin="round"/>
<polygon points="472.70,554.46 492.40,560.06 492.40,562.60 472.70,557.00" fill="#c0c5cd" stroke="none" stroke-width="1" stroke-linejoin="round"/>
<polygon points="492.40,560.70 512.70,555.10 512.70,557.64 492.40,563.24" fill="#b2b8c1" stroke="none" stroke-width="1" stroke-linejoin="round"/>
<polygon points="472.70,556.20 492.40,561.80 492.40,564.00 472.70,558.40" fill="#9ca2ac" stroke="none" stroke-width="1" stroke-linejoin="round"/>
<polygon points="492.40,561.80 512.70,556.20 512.70,558.40 492.40,564.00" fill="#8d949e" stroke="none" stroke-width="1" stroke-linejoin="round"/>
<polygon points="510.50,533.50 512.70,533.00 512.70,558.40 510.50,558.90" fill="#8f96a0" stroke="none" stroke-width="1" stroke-linejoin="round"/>
<polygon points="472.70,533.00 492.40,527.40 512.70,533.00 512.70,558.40 492.40,564.00 472.70,558.40" fill="none" stroke="#4a525d" stroke-width="1" stroke-linejoin="round"/>
<line x1="492.40" y1="539.60" x2="492.40" y2="564.00" stroke="#9aa0aa" stroke-width="0.6"/>
<polygon points="489.20,533.62 487.40,530.26 483.20,529.70 479.00,530.82 478.10,534.18 480.20,538.10 484.40,540.06 488.60,538.66" fill="#a9a9a9" stroke="#6e6e6e" stroke-width="0.4" stroke-linejoin="round"/>
<ellipse cx="486.50" cy="529.98" rx="5.45" ry="1.65" transform="rotate(-102.7 486.50 529.98)" fill="#a9a9a9" stroke="#6e6e6e" stroke-width="0.35"/>
<ellipse cx="484.85" cy="529.42" rx="6.11" ry="1.65" transform="rotate(-105.7 484.85 529.42)" fill="#a9a9a9" stroke="#6e6e6e" stroke-width="0.35"/>
<ellipse cx="483.20" cy="529.56" rx="6.11" ry="1.65" transform="rotate(-110.1 483.20 529.56)" fill="#a9a9a9" stroke="#6e6e6e" stroke-width="0.35"/>
<ellipse cx="481.70" cy="530.12" rx="5.71" ry="1.65" transform="rotate(-114.9 481.70 530.12)" fill="#a9a9a9" stroke="#6e6e6e" stroke-width="0.35"/>
<ellipse cx="480.35" cy="531.38" rx="4.68" ry="1.65" transform="rotate(-123.0 480.35 531.38)" fill="#a9a9a9" stroke="#6e6e6e" stroke-width="0.35"/>
<polygon points="483.20,527.46 480.80,526.90 479.60,530.82 482.00,532.50" fill="#d8d8d8" stroke="none" stroke-width="1" stroke-linejoin="round" opacity="0.7"/>
<polygon points="495.20,533.62 497.00,530.26 501.20,529.70 505.40,530.82 506.30,534.18 504.20,538.10 500.00,540.06 495.80,538.66" fill="#a9a9a9" stroke="#6e6e6e" stroke-width="0.4" stroke-linejoin="round"/>
<ellipse cx="497.90" cy="529.98" rx="5.45" ry="1.65" transform="rotate(-77.3 497.90 529.98)" fill="#a9a9a9" stroke="#6e6e6e" stroke-width="0.35"/>
<ellipse cx="499.55" cy="529.42" rx="6.11" ry="1.65" transform="rotate(-74.3 499.55 529.42)" fill="#a9a9a9" stroke="#6e6e6e" stroke-width="0.35"/>
<ellipse cx="501.20" cy="529.56" rx="6.11" ry="1.65" transform="rotate(-69.9 501.20 529.56)" fill="#a9a9a9" stroke="#6e6e6e" stroke-width="0.35"/>
<ellipse cx="502.70" cy="530.12" rx="5.71" ry="1.65" transform="rotate(-65.1 502.70 530.12)" fill="#a9a9a9" stroke="#6e6e6e" stroke-width="0.35"/>
<ellipse cx="504.05" cy="531.38" rx="4.68" ry="1.65" transform="rotate(-57.0 504.05 531.38)" fill="#a9a9a9" stroke="#6e6e6e" stroke-width="0.35"/>
<polygon points="501.20,527.46 503.60,526.90 504.80,530.82 502.40,532.50" fill="#d8d8d8" stroke="none" stroke-width="1" stroke-linejoin="round" opacity="0.7"/>
<ellipse cx="492.20" cy="535.30" rx="4.20" ry="5.32" fill="#a9a9a9" stroke="#6e6e6e" stroke-width="0.4"/>
<ellipse cx="492.20" cy="528.86" rx="1.50" ry="1.96" fill="#eeeeee"/>
<polygon points="491.30,532.50 490.10,529.14 488.30,526.90 486.20,526.62 485.90,528.86 488.00,529.70 489.20,533.06" fill="#a9a9a9" stroke="#6e6e6e" stroke-width="0.4" stroke-linejoin="round"/>
<circle cx="487.10" cy="527.18" r="1.50" fill="#a9a9a9" stroke="#6e6e6e" stroke-width="0.4"/>
<polygon points="485.60,526.90 483.80,527.46 485.60,528.02" fill="#a9a9a9" stroke="none" stroke-width="1" stroke-linejoin="round"/>
<polygon points="488.90,525.50 488.60,522.70 487.10,523.82 485.60,522.42 485.00,525.50" fill="#a9a9a9" stroke="#6e6e6e" stroke-width="0.4" stroke-linejoin="round"/>
<polygon points="493.10,532.50 494.30,529.14 496.10,526.90 498.20,526.62 498.50,528.86 496.40,529.70 495.20,533.06" fill="#a9a9a9" stroke="#6e6e6e" stroke-width="0.4" stroke-linejoin="round"/>
<circle cx="497.30" cy="527.18" r="1.50" fill="#a9a9a9" stroke="#6e6e6e" stroke-width="0.4"/>
<polygon points="498.80,526.90 500.60,527.46 498.80,528.02" fill="#a9a9a9" stroke="none" stroke-width="1" stroke-linejoin="round"/>
<polygon points="495.50,525.50 495.80,522.70 497.30,523.82 498.80,522.42 499.40,525.50" fill="#a9a9a9" stroke="#6e6e6e" stroke-width="0.4" stroke-linejoin="round"/>
<polygon points="489.80,526.90 489.50,523.26 491.00,524.10 492.20,522.14 493.40,524.10 494.90,523.26 494.60,526.90" fill="#a9a9a9" stroke="#6e6e6e" stroke-width="0.4" stroke-linejoin="round"/>
<circle cx="492.20" cy="521.86" r="0.90" fill="#a9a9a9"/>
<polygon points="488.70,534.00 496.50,534.00 496.50,540.47 492.60,542.30 488.70,540.47" fill="#d4301f" stroke="#a9a9a9" stroke-width="0.6" stroke-linejoin="round"/>
<circle cx="479.6" cy="540.6" r="2.3" fill="none" stroke="#e2b21c" stroke-width="1.4"/>
<circle cx="483.6" cy="544.2" r="1.9" fill="none" stroke="#e2b21c" stroke-width="1.4"/>
<circle cx="488" cy="546.6" r="2" fill="none" stroke="#e2b21c" stroke-width="1.4"/>
<circle cx="492.6" cy="547.4" r="1.9" fill="none" stroke="#e2b21c" stroke-width="1.4"/>
<circle cx="497.2" cy="546.2" r="2" fill="none" stroke="#e2b21c" stroke-width="1.4"/>
<circle cx="501.4" cy="543.6" r="1.9" fill="none" stroke="#e2b21c" stroke-width="1.4"/>
<circle cx="505.4" cy="540.6" r="2.2" fill="none" stroke="#e2b21c" stroke-width="1.4"/>
<circle cx="486.5" cy="550.5" r="1.8" fill="none" stroke="#e2b21c" stroke-width="1.4"/>
<circle cx="491" cy="551.5" r="1.6" fill="none" stroke="#e2b21c" stroke-width="1.4"/>
<circle cx="495.5" cy="550.2" r="1.7" fill="none" stroke="#e2b21c" stroke-width="1.4"/>
<polygon points="539.20,518.20 562.00,511.59 586.40,518.20 562.00,524.81" fill="#dfe2e8" stroke="none" stroke-width="1" stroke-linejoin="round"/>
<polygon points="539.20,518.20 562.00,524.81 562.00,555.50 539.20,548.89" fill="#eceef2" stroke="none" stroke-width="1" stroke-linejoin="round"/>
<polygon points="562.00,524.81 586.40,518.20 586.40,548.89 562.00,555.50" fill="#e0e3e8" stroke="none" stroke-width="1" stroke-linejoin="round"/>
<polygon points="539.20,521.12 562.00,527.72 562.00,530.79 539.20,524.18" fill="#c0c5cd" stroke="none" stroke-width="1" stroke-linejoin="round"/>
<polygon points="562.00,528.49 586.40,521.88 586.40,524.95 562.00,531.56" fill="#b2b8c1" stroke="none" stroke-width="1" stroke-linejoin="round"/>
<polygon points="539.20,528.79 562.00,535.40 562.00,538.47 539.20,531.86" fill="#c0c5cd" stroke="none" stroke-width="1" stroke-linejoin="round"/>
<polygon points="562.00,536.16 586.40,529.56 586.40,532.63 562.00,539.23" fill="#b2b8c1" stroke="none" stroke-width="1" stroke-linejoin="round"/>
<polygon points="539.20,536.46 562.00,543.07 562.00,546.14 539.20,539.53" fill="#c0c5cd" stroke="none" stroke-width="1" stroke-linejoin="round"/>
<polygon points="562.00,543.84 586.40,537.23 586.40,540.30 562.00,546.91" fill="#b2b8c1" stroke="none" stroke-width="1" stroke-linejoin="round"/>
<polygon points="539.20,544.13 562.00,550.74 562.00,553.81 539.20,547.20" fill="#c0c5cd" stroke="none" stroke-width="1" stroke-linejoin="round"/>
<polygon points="562.00,551.51 586.40,544.90 586.40,547.97 562.00,554.58" fill="#b2b8c1" stroke="none" stroke-width="1" stroke-linejoin="round"/>
<polygon points="539.20,546.69 562.00,553.30 562.00,555.50 539.20,548.89" fill="#9ca2ac" stroke="none" stroke-width="1" stroke-linejoin="round"/>
<polygon points="562.00,553.30 586.40,546.69 586.40,548.89 562.00,555.50" fill="#8d949e" stroke="none" stroke-width="1" stroke-linejoin="round"/>
<polygon points="584.20,518.70 586.40,518.20 586.40,548.89 584.20,549.39" fill="#8f96a0" stroke="none" stroke-width="1" stroke-linejoin="round"/>
<polygon points="539.20,518.20 562.00,511.59 586.40,518.20 586.40,548.89 562.00,555.50 539.20,548.89" fill="none" stroke="#4a525d" stroke-width="1" stroke-linejoin="round"/>
<line x1="562.00" y1="525.81" x2="562.00" y2="555.50" stroke="#9aa0aa" stroke-width="0.6"/>
<polygon points="559.35,511.60 557.28,508.00 552.45,507.40 547.62,508.60 546.58,512.20 549.00,516.40 553.83,518.50 558.66,517.00" fill="#b8b8b8" stroke="#777777" stroke-width="0.4" stroke-linejoin="round"/>
<ellipse cx="556.25" cy="507.70" rx="5.86" ry="1.90" transform="rotate(-103.6 556.25 507.70)" fill="#b8b8b8" stroke="#777777" stroke-width="0.35"/>
<ellipse cx="554.35" cy="507.10" rx="6.58" ry="1.90" transform="rotate(-106.8 554.35 507.10)" fill="#b8b8b8" stroke="#777777" stroke-width="0.35"/>
<ellipse cx="552.45" cy="507.25" rx="6.61" ry="1.90" transform="rotate(-111.4 552.45 507.25)" fill="#b8b8b8" stroke="#777777" stroke-width="0.35"/>
<ellipse cx="550.72" cy="507.85" rx="6.20" ry="1.90" transform="rotate(-116.4 550.72 507.85)" fill="#b8b8b8" stroke="#777777" stroke-width="0.35"/>
<ellipse cx="549.17" cy="509.20" rx="5.12" ry="1.90" transform="rotate(-124.9 549.17 509.20)" fill="#b8b8b8" stroke="#777777" stroke-width="0.35"/>
<polygon points="552.45,505.00 549.69,504.40 548.31,508.60 551.07,510.40" fill="#e6e6e6" stroke="none" stroke-width="1" stroke-linejoin="round" opacity="0.7"/>
<polygon points="566.25,511.60 568.32,508.00 573.15,507.40 577.98,508.60 579.01,512.20 576.60,516.40 571.77,518.50 566.94,517.00" fill="#b8b8b8" stroke="#777777" stroke-width="0.4" stroke-linejoin="round"/>
<ellipse cx="569.35" cy="507.70" rx="5.86" ry="1.90" transform="rotate(-76.4 569.35 507.70)" fill="#b8b8b8" stroke="#777777" stroke-width="0.35"/>
<ellipse cx="571.25" cy="507.10" rx="6.58" ry="1.90" transform="rotate(-73.2 571.25 507.10)" fill="#b8b8b8" stroke="#777777" stroke-width="0.35"/>
<ellipse cx="573.15" cy="507.25" rx="6.61" ry="1.90" transform="rotate(-68.6 573.15 507.25)" fill="#b8b8b8" stroke="#777777" stroke-width="0.35"/>
<ellipse cx="574.88" cy="507.85" rx="6.20" ry="1.90" transform="rotate(-63.6 574.88 507.85)" fill="#b8b8b8" stroke="#777777" stroke-width="0.35"/>
<ellipse cx="576.43" cy="509.20" rx="5.12" ry="1.90" transform="rotate(-55.1 576.43 509.20)" fill="#b8b8b8" stroke="#777777" stroke-width="0.35"/>
<polygon points="573.15,505.00 575.91,504.40 577.29,508.60 574.53,510.40" fill="#e6e6e6" stroke="none" stroke-width="1" stroke-linejoin="round" opacity="0.7"/>
<ellipse cx="562.80" cy="513.40" rx="4.83" ry="5.70" fill="#b8b8b8" stroke="#777777" stroke-width="0.4"/>
<ellipse cx="562.80" cy="506.50" rx="1.73" ry="2.10" fill="#eeeeee"/>
<polygon points="561.76,510.40 560.38,506.80 558.31,504.40 555.90,504.10 555.55,506.50 557.97,507.40 559.35,511.00" fill="#b8b8b8" stroke="#777777" stroke-width="0.4" stroke-linejoin="round"/>
<circle cx="556.93" cy="504.70" r="1.73" fill="#b8b8b8" stroke="#777777" stroke-width="0.4"/>
<polygon points="555.21,504.40 553.14,505.00 555.21,505.60" fill="#b8b8b8" stroke="none" stroke-width="1" stroke-linejoin="round"/>
<polygon points="559.00,502.90 558.66,499.90 556.93,501.10 555.21,499.60 554.52,502.90" fill="#b8b8b8" stroke="#777777" stroke-width="0.4" stroke-linejoin="round"/>
<polygon points="563.83,510.40 565.21,506.80 567.28,504.40 569.70,504.10 570.04,506.50 567.63,507.40 566.25,511.00" fill="#b8b8b8" stroke="#777777" stroke-width="0.4" stroke-linejoin="round"/>
<circle cx="568.66" cy="504.70" r="1.73" fill="#b8b8b8" stroke="#777777" stroke-width="0.4"/>
<polygon points="570.39,504.40 572.46,505.00 570.39,505.60" fill="#b8b8b8" stroke="none" stroke-width="1" stroke-linejoin="round"/>
<polygon points="566.59,502.90 566.94,499.90 568.66,501.10 570.39,499.60 571.08,502.90" fill="#b8b8b8" stroke="#777777" stroke-width="0.4" stroke-linejoin="round"/>
<polygon points="560.04,504.40 559.69,500.50 561.42,501.40 562.80,499.30 564.18,501.40 565.90,500.50 565.56,504.40" fill="#b8b8b8" stroke="#777777" stroke-width="0.4" stroke-linejoin="round"/>
<circle cx="562.80" cy="499.00" r="1.03" fill="#b8b8b8"/>
<path d="M550.3,517.6 L574.2,517.6 L574.2,528 Q573,537 562.2,542 Q551.5,537 550.3,528 Z" fill="#8c8c8c"/>
<path d="M554.5,521 L570,521 L570,528.5 Q569,535 562.2,538.3 Q555.5,535 554.5,528.5 Z" fill="#e8302a"/>
<line x1="562.20" y1="523.00" x2="562.20" y2="536.50" stroke="#e6c63a" stroke-width="1.3"/>
<line x1="557.50" y1="528.50" x2="567.00" y2="528.50" stroke="#e6c63a" stroke-width="1.1"/>
<circle cx="562.2" cy="519.4" r="1.5" fill="#e0d020"/>
<circle cx="552.5" cy="526.5" r="1.5" fill="#e0d020"/>
<circle cx="571.9" cy="526.5" r="1.5" fill="#e0d020"/>
<circle cx="562.2" cy="541" r="1.5" fill="#e0d020"/>
<line x1="407.79" y1="178.43" x2="473.41" y2="202.77" stroke="#000" stroke-width="1.45"/>
<polygon points="478.36,204.61 471.03,205.41 474.03,203.00 473.32,199.22" fill="#000" stroke="none" stroke-width="1" stroke-linejoin="round"/>
<polygon points="402.84,176.59 407.88,181.98 407.17,178.20 410.17,175.79" fill="#000" stroke="none" stroke-width="1" stroke-linejoin="round"/>
<line x1="461.08" y1="176.44" x2="481.52" y2="198.56" stroke="#000" stroke-width="1.45"/>
<polygon points="485.11,202.44 478.20,199.83 481.97,199.05 483.05,195.35" fill="#000" stroke="none" stroke-width="1" stroke-linejoin="round"/>
<polygon points="457.49,172.56 459.55,179.65 460.63,175.95 464.40,175.17" fill="#000" stroke="none" stroke-width="1" stroke-linejoin="round"/>
<line x1="492.00" y1="165.20" x2="498.22" y2="194.22" stroke="#000" stroke-width="1.45"/>
<polygon points="499.33,199.39 494.72,193.62 498.36,194.87 501.17,192.24" fill="#000" stroke="none" stroke-width="1" stroke-linejoin="round"/>
<line x1="532.54" y1="167.78" x2="513.86" y2="198.02" stroke="#000" stroke-width="1.45"/>
<polygon points="511.08,202.51 511.75,195.16 513.51,198.58 517.36,198.63" fill="#000" stroke="none" stroke-width="1" stroke-linejoin="round"/>
<polygon points="535.32,163.29 529.04,167.17 532.89,167.22 534.65,170.64" fill="#000" stroke="none" stroke-width="1" stroke-linejoin="round"/>
<line x1="588.91" y1="165.28" x2="522.79" y2="202.12" stroke="#000" stroke-width="1.45"/>
<polygon points="518.18,204.69 522.34,198.60 522.21,202.44 525.55,204.36" fill="#000" stroke="none" stroke-width="1" stroke-linejoin="round"/>
<polygon points="593.52,162.71 586.15,163.04 589.49,164.96 589.36,168.80" fill="#000" stroke="none" stroke-width="1" stroke-linejoin="round"/>
<line x1="496.00" y1="265.18" x2="496.00" y2="295.32" stroke="#000" stroke-width="1.45"/>
<polygon points="496.00,300.60 492.70,294.00 496.00,295.98 499.30,294.00" fill="#000" stroke="none" stroke-width="1" stroke-linejoin="round"/>
<polygon points="496.00,259.90 492.70,266.50 496.00,264.52 499.30,266.50" fill="#000" stroke="none" stroke-width="1" stroke-linejoin="round"/>
<line x1="438.31" y1="282.67" x2="446.49" y2="297.13" stroke="#000" stroke-width="1.45"/>
<polygon points="449.10,301.72 442.97,297.61 446.82,297.70 448.71,294.35" fill="#000" stroke="none" stroke-width="1" stroke-linejoin="round"/>
<polygon points="435.70,278.08 436.09,285.45 437.98,282.10 441.83,282.19" fill="#000" stroke="none" stroke-width="1" stroke-linejoin="round"/>
<line x1="545.75" y1="279.07" x2="522.25" y2="303.43" stroke="#000" stroke-width="1.45"/>
<polygon points="518.58,307.23 520.79,300.19 521.79,303.91 525.54,304.77" fill="#000" stroke="none" stroke-width="1" stroke-linejoin="round"/>
<polygon points="549.42,275.27 542.46,277.73 546.21,278.59 547.21,282.31" fill="#000" stroke="none" stroke-width="1" stroke-linejoin="round"/>
<line x1="403.08" y1="323.56" x2="419.62" y2="327.04" stroke="#000" stroke-width="1.45"/>
<polygon points="424.79,328.12 417.65,330.00 420.27,327.17 419.01,323.54" fill="#000" stroke="none" stroke-width="1" stroke-linejoin="round"/>
<polygon points="397.91,322.48 403.69,327.06 402.43,323.43 405.05,320.60" fill="#000" stroke="none" stroke-width="1" stroke-linejoin="round"/>
<line x1="581.85" y1="333.16" x2="566.15" y2="341.34" stroke="#000" stroke-width="1.45"/>
<polygon points="561.47,343.78 565.80,337.80 565.57,341.64 568.85,343.66" fill="#000" stroke="none" stroke-width="1" stroke-linejoin="round"/>
<polygon points="586.53,330.72 579.15,330.84 582.43,332.86 582.20,336.70" fill="#000" stroke="none" stroke-width="1" stroke-linejoin="round"/>
<line x1="403.60" y1="405.85" x2="420.90" y2="409.05" stroke="#000" stroke-width="1.45"/>
<polygon points="426.09,410.01 419.00,412.05 421.55,409.17 420.20,405.56" fill="#000" stroke="none" stroke-width="1" stroke-linejoin="round"/>
<polygon points="398.41,404.89 404.30,409.34 402.95,405.73 405.50,402.85" fill="#000" stroke="none" stroke-width="1" stroke-linejoin="round"/>
<line x1="566.08" y1="398.80" x2="577.82" y2="398.80" stroke="#000" stroke-width="1.45"/>
<polygon points="583.10,398.80 576.50,402.10 578.48,398.80 576.50,395.50" fill="#000" stroke="none" stroke-width="1" stroke-linejoin="round"/>
<polygon points="560.80,398.80 567.40,402.10 565.42,398.80 567.40,395.50" fill="#000" stroke="none" stroke-width="1" stroke-linejoin="round"/>
<line x1="406.70" y1="470.07" x2="424.20" y2="457.53" stroke="#000" stroke-width="1.45"/>
<polygon points="428.49,454.45 425.05,460.98 424.73,457.14 421.20,455.61" fill="#000" stroke="none" stroke-width="1" stroke-linejoin="round"/>
<polygon points="402.41,473.15 409.70,471.99 406.17,470.46 405.85,466.62" fill="#000" stroke="none" stroke-width="1" stroke-linejoin="round"/>
<line x1="565.53" y1="450.00" x2="580.97" y2="457.30" stroke="#000" stroke-width="1.45"/>
<polygon points="585.74,459.56 578.37,459.72 581.57,457.58 581.19,453.75" fill="#000" stroke="none" stroke-width="1" stroke-linejoin="round"/>
<polygon points="560.76,447.74 565.31,453.55 564.93,449.72 568.13,447.58" fill="#000" stroke="none" stroke-width="1" stroke-linejoin="round"/>
<line x1="441.87" y1="492.95" x2="453.93" y2="466.95" stroke="#000" stroke-width="1.45"/>
<polygon points="456.15,462.16 456.37,469.53 454.21,466.35 450.38,466.75" fill="#000" stroke="none" stroke-width="1" stroke-linejoin="round"/>
<polygon points="439.65,497.74 445.42,493.15 441.59,493.55 439.43,490.37" fill="#000" stroke="none" stroke-width="1" stroke-linejoin="round"/>
<line x1="493.00" y1="482.28" x2="493.00" y2="515.02" stroke="#000" stroke-width="1.45"/>
<polygon points="493.00,520.30 489.70,513.70 493.00,515.68 496.30,513.70" fill="#000" stroke="none" stroke-width="1" stroke-linejoin="round"/>
<polygon points="493.00,477.00 489.70,483.60 493.00,481.62 496.30,483.60" fill="#000" stroke="none" stroke-width="1" stroke-linejoin="round"/>
<line x1="531.62" y1="475.28" x2="543.78" y2="493.32" stroke="#000" stroke-width="1.45"/>
<polygon points="546.74,497.70 540.31,494.07 544.15,493.87 545.78,490.38" fill="#000" stroke="none" stroke-width="1" stroke-linejoin="round"/>
<polygon points="528.66,470.90 529.62,478.22 531.25,474.73 535.09,474.53" fill="#000" stroke="none" stroke-width="1" stroke-linejoin="round"/>
<g transform="translate(367 128) scale(1) translate(-367 -128)">
<polygon points="367.00,131.40 384.30,128.00 398.70,131.90 381.80,135.40" fill="#e9ebef" stroke="#50565e" stroke-width="0.7" stroke-linejoin="round"/>
<polygon points="367.00,131.40 381.80,135.40 381.80,167.00 367.00,163.50" fill="#d3d7de" stroke="#50565e" stroke-width="0.7" stroke-linejoin="round"/>
<polygon points="381.80,135.40 398.70,131.90 398.70,162.00 381.80,167.00" fill="#a3a8b0" stroke="#50565e" stroke-width="0.7" stroke-linejoin="round"/>
<line x1="370.90" y1="137.30" x2="378.40" y2="139.30" stroke="#5a6068" stroke-width="1.1"/>
<line x1="370.90" y1="140.50" x2="378.40" y2="142.50" stroke="#5a6068" stroke-width="1.1"/>
<polygon points="370.90,151.00 377.90,152.80 377.90,164.30 370.90,162.50" fill="#4a5059" stroke="none" stroke-width="1" stroke-linejoin="round"/>
<polygon points="388.50,169.20 399.50,172.20 399.50,174.20 388.50,171.20" fill="#3c4148" stroke="none" stroke-width="1" stroke-linejoin="round"/>
<polygon points="383.60,140.80 409.60,147.30 409.60,173.10 383.60,168.60" fill="#4d525a" stroke="#3a3f46" stroke-width="0.6" stroke-linejoin="round"/>
<polygon points="384.00,141.60 386.00,142.10 386.00,168.20 384.00,167.80" fill="#c9ccd2" stroke="none" stroke-width="1" stroke-linejoin="round"/>
<polygon points="386.30,143.40 407.80,148.90 407.80,171.20 386.30,166.60" fill="url(#scr)" stroke="none" stroke-width="1" stroke-linejoin="round"/>
<polygon points="386.30,158.00 392.00,156.50 398.00,159.50 403.00,158.50 407.80,160.50 407.80,171.20 386.30,166.60" fill="#a6d0e2" stroke="none" stroke-width="1" stroke-linejoin="round" opacity="0.8"/>
<polygon points="399.00,146.00 401.00,146.50 401.00,169.50 399.00,169.00" fill="#ffffff" stroke="none" stroke-width="1" stroke-linejoin="round" opacity="0.35"/>
</g>
<g transform="translate(424.8 127.4) scale(0.965) translate(-367 -128)">
<polygon points="367.00,131.40 384.30,128.00 398.70,131.90 381.80,135.40" fill="#e9ebef" stroke="#50565e" stroke-width="0.7" stroke-linejoin="round"/>
<polygon points="367.00,131.40 381.80,135.40 381.80,167.00 367.00,163.50" fill="#d3d7de" stroke="#50565e" stroke-width="0.7" stroke-linejoin="round"/>
<polygon points="381.80,135.40 398.70,131.90 398.70,162.00 381.80,167.00" fill="#a3a8b0" stroke="#50565e" stroke-width="0.7" stroke-linejoin="round"/>
<line x1="370.90" y1="137.30" x2="378.40" y2="139.30" stroke="#5a6068" stroke-width="1.1"/>
<line x1="370.90" y1="140.50" x2="378.40" y2="142.50" stroke="#5a6068" stroke-width="1.1"/>
<polygon points="370.90,151.00 377.90,152.80 377.90,164.30 370.90,162.50" fill="#4a5059" stroke="none" stroke-width="1" stroke-linejoin="round"/>
<polygon points="388.50,169.20 399.50,172.20 399.50,174.20 388.50,171.20" fill="#3c4148" stroke="none" stroke-width="1" stroke-linejoin="round"/>
<polygon points="383.60,140.80 409.60,147.30 409.60,173.10 383.60,168.60" fill="#4d525a" stroke="#3a3f46" stroke-width="0.6" stroke-linejoin="round"/>
<polygon points="384.00,141.60 386.00,142.10 386.00,168.20 384.00,167.80" fill="#c9ccd2" stroke="none" stroke-width="1" stroke-linejoin="round"/>
<polygon points="386.30,143.40 407.80,148.90 407.80,171.20 386.30,166.60" fill="url(#scr)" stroke="none" stroke-width="1" stroke-linejoin="round"/>
<polygon points="386.30,158.00 392.00,156.50 398.00,159.50 403.00,158.50 407.80,160.50 407.80,171.20 386.30,166.60" fill="#a6d0e2" stroke="none" stroke-width="1" stroke-linejoin="round" opacity="0.8"/>
<polygon points="399.00,146.00 401.00,146.50 401.00,169.50 399.00,169.00" fill="#ffffff" stroke="none" stroke-width="1" stroke-linejoin="round" opacity="0.35"/>
</g>
<g transform="translate(478.6 128) scale(0.945) translate(-367 -128)">
<polygon points="367.00,131.40 384.30,128.00 398.70,131.90 381.80,135.40" fill="#e9ebef" stroke="#50565e" stroke-width="0.7" stroke-linejoin="round"/>
<polygon points="367.00,131.40 381.80,135.40 381.80,167.00 367.00,163.50" fill="#d3d7de" stroke="#50565e" stroke-width="0.7" stroke-linejoin="round"/>
<polygon points="381.80,135.40 398.70,131.90 398.70,162.00 381.80,167.00" fill="#a3a8b0" stroke="#50565e" stroke-width="0.7" stroke-linejoin="round"/>
<line x1="370.90" y1="137.30" x2="378.40" y2="139.30" stroke="#5a6068" stroke-width="1.1"/>
<line x1="370.90" y1="140.50" x2="378.40" y2="142.50" stroke="#5a6068" stroke-width="1.1"/>
<polygon points="370.90,151.00 377.90,152.80 377.90,164.30 370.90,162.50" fill="#4a5059" stroke="none" stroke-width="1" stroke-linejoin="round"/>
<polygon points="388.50,169.20 399.50,172.20 399.50,174.20 388.50,171.20" fill="#3c4148" stroke="none" stroke-width="1" stroke-linejoin="round"/>
<polygon points="383.60,140.80 409.60,147.30 409.60,173.10 383.60,168.60" fill="#4d525a" stroke="#3a3f46" stroke-width="0.6" stroke-linejoin="round"/>
<polygon points="384.00,141.60 386.00,142.10 386.00,168.20 384.00,167.80" fill="#c9ccd2" stroke="none" stroke-width="1" stroke-linejoin="round"/>
<polygon points="386.30,143.40 407.80,148.90 407.80,171.20 386.30,166.60" fill="url(#scr)" stroke="none" stroke-width="1" stroke-linejoin="round"/>
<polygon points="386.30,158.00 392.00,156.50 398.00,159.50 403.00,158.50 407.80,160.50 407.80,171.20 386.30,166.60" fill="#a6d0e2" stroke="none" stroke-width="1" stroke-linejoin="round" opacity="0.8"/>
<polygon points="399.00,146.00 401.00,146.50 401.00,169.50 399.00,169.00" fill="#ffffff" stroke="none" stroke-width="1" stroke-linejoin="round" opacity="0.35"/>
</g>
<g transform="translate(532.4 128.3) scale(0.94) translate(-367 -128)">
<polygon points="367.00,131.40 384.30,128.00 398.70,131.90 381.80,135.40" fill="#e9ebef" stroke="#50565e" stroke-width="0.7" stroke-linejoin="round"/>
<polygon points="367.00,131.40 381.80,135.40 381.80,167.00 367.00,163.50" fill="#d3d7de" stroke="#50565e" stroke-width="0.7" stroke-linejoin="round"/>
<polygon points="381.80,135.40 398.70,131.90 398.70,162.00 381.80,167.00" fill="#a3a8b0" stroke="#50565e" stroke-width="0.7" stroke-linejoin="round"/>
<line x1="370.90" y1="137.30" x2="378.40" y2="139.30" stroke="#5a6068" stroke-width="1.1"/>
<line x1="370.90" y1="140.50" x2="378.40" y2="142.50" stroke="#5a6068" stroke-width="1.1"/>
<polygon points="370.90,151.00 377.90,152.80 377.90,164.30 370.90,162.50" fill="#4a5059" stroke="none" stroke-width="1" stroke-linejoin="round"/>
<polygon points="388.50,169.20 399.50,172.20 399.50,174.20 388.50,171.20" fill="#3c4148" stroke="none" stroke-width="1" stroke-linejoin="round"/>
<polygon points="383.60,140.80 409.60,147.30 409.60,173.10 383.60,168.60" fill="#4d525a" stroke="#3a3f46" stroke-width="0.6" stroke-linejoin="round"/>
<polygon points="384.00,141.60 386.00,142.10 386.00,168.20 384.00,167.80" fill="#c9ccd2" stroke="none" stroke-width="1" stroke-linejoin="round"/>
<polygon points="386.30,143.40 407.80,148.90 407.80,171.20 386.30,166.60" fill="url(#scr)" stroke="none" stroke-width="1" stroke-linejoin="round"/>
<polygon points="386.30,158.00 392.00,156.50 398.00,159.50 403.00,158.50 407.80,160.50 407.80,171.20 386.30,166.60" fill="#a6d0e2" stroke="none" stroke-width="1" stroke-linejoin="round" opacity="0.8"/>
<polygon points="399.00,146.00 401.00,146.50 401.00,169.50 399.00,169.00" fill="#ffffff" stroke="none" stroke-width="1" stroke-linejoin="round" opacity="0.35"/>
</g>
<g transform="translate(586 128.3) scale(0.935) translate(-367 -128)">
<polygon points="367.00,131.40 384.30,128.00 398.70,131.90 381.80,135.40" fill="#e9ebef" stroke="#50565e" stroke-width="0.7" stroke-linejoin="round"/>
<polygon points="367.00,131.40 381.80,135.40 381.80,167.00 367.00,163.50" fill="#d3d7de" stroke="#50565e" stroke-width="0.7" stroke-linejoin="round"/>
<polygon points="381.80,135.40 398.70,131.90 398.70,162.00 381.80,167.00" fill="#a3a8b0" stroke="#50565e" stroke-width="0.7" stroke-linejoin="round"/>
<line x1="370.90" y1="137.30" x2="378.40" y2="139.30" stroke="#5a6068" stroke-width="1.1"/>
<line x1="370.90" y1="140.50" x2="378.40" y2="142.50" stroke="#5a6068" stroke-width="1.1"/>
<polygon points="370.90,151.00 377.90,152.80 377.90,164.30 370.90,162.50" fill="#4a5059" stroke="none" stroke-width="1" stroke-linejoin="round"/>
<polygon points="388.50,169.20 399.50,172.20 399.50,174.20 388.50,171.20" fill="#3c4148" stroke="none" stroke-width="1" stroke-linejoin="round"/>
<polygon points="383.60,140.80 409.60,147.30 409.60,173.10 383.60,168.60" fill="#4d525a" stroke="#3a3f46" stroke-width="0.6" stroke-linejoin="round"/>
<polygon points="384.00,141.60 386.00,142.10 386.00,168.20 384.00,167.80" fill="#c9ccd2" stroke="none" stroke-width="1" stroke-linejoin="round"/>
<polygon points="386.30,143.40 407.80,148.90 407.80,171.20 386.30,166.60" fill="url(#scr)" stroke="none" stroke-width="1" stroke-linejoin="round"/>
<polygon points="386.30,158.00 392.00,156.50 398.00,159.50 403.00,158.50 407.80,160.50 407.80,171.20 386.30,166.60" fill="#a6d0e2" stroke="none" stroke-width="1" stroke-linejoin="round" opacity="0.8"/>
<polygon points="399.00,146.00 401.00,146.50 401.00,169.50 399.00,169.00" fill="#ffffff" stroke="none" stroke-width="1" stroke-linejoin="round" opacity="0.35"/>
</g>
<text x="477.95" y="258.7" font-size="7" font-weight="bold" fill="#1a1a1a" textLength="39.5" lengthAdjust="spacingAndGlyphs">ФТС России</text>
<text x="401.65" y="291.8" font-size="7" font-weight="bold" fill="#1a1a1a" textLength="27.1" lengthAdjust="spacingAndGlyphs">Минфин</text>
<text x="548.4" y="294.6" font-size="7" font-weight="bold" fill="#1a1a1a" textLength="50.2" lengthAdjust="spacingAndGlyphs">Минкомсвязь</text>
<text x="358.45000000000005" y="351.0" font-size="7" font-weight="bold" fill="#1a1a1a" textLength="36.3" lengthAdjust="spacingAndGlyphs">Минтранс</text>
<text x="583.85" y="361.3" font-size="7" font-weight="bold" fill="#1a1a1a" textLength="50.3" lengthAdjust="spacingAndGlyphs">Минпромторг</text>
<text x="365.6" y="434.5" font-size="7" font-weight="bold" fill="#1a1a1a" textLength="16.8" lengthAdjust="spacingAndGlyphs">МВД</text>
<text x="599.0" y="436.6" font-size="7" font-weight="bold" fill="#1a1a1a" textLength="17.2" lengthAdjust="spacingAndGlyphs">ФСБ</text>
<text x="364.75" y="519.0" font-size="8.3" font-weight="bold" fill="#1a1a1a" textLength="22.9" lengthAdjust="spacingAndGlyphs">Почта</text>
<text x="591.0500000000001" y="509.9" font-size="7" font-weight="bold" fill="#1a1a1a" textLength="37.1" lengthAdjust="spacingAndGlyphs">Минздрав</text>
<text x="421.59999999999997" y="564.2" font-size="7" font-weight="bold" fill="#1a1a1a" textLength="23.2" lengthAdjust="spacingAndGlyphs">Минэк</text>
<text x="484.4" y="574.6" font-size="7" font-weight="bold" fill="#1a1a1a" textLength="17.2" lengthAdjust="spacingAndGlyphs">ФНС</text>
<text x="550.25" y="567.5" font-size="7" font-weight="bold" fill="#1a1a1a" textLength="26.1" lengthAdjust="spacingAndGlyphs">ФСТЭК</text>
<rect x="27.20" y="177.10" width="122.70" height="81.50" rx="3.5" fill="#1b1c1e" stroke="none" stroke-width="1"/>
<rect x="27.20" y="251.20" width="122.70" height="7.40" rx="2.5" fill="#3c3f44" stroke="none" stroke-width="1"/>
<rect x="27.20" y="251.20" width="122.70" height="2.80" rx="0" fill="#3c3f44" stroke="none" stroke-width="1"/>
<rect x="31.30" y="179.80" width="115.10" height="71.40" rx="0" fill="#f2f2f2" stroke="none" stroke-width="1"/>
<rect x="34.80" y="186.80" width="111.60" height="61.80" rx="0" fill="url(#gpage)" stroke="none" stroke-width="1"/>
<rect x="31.30" y="179.80" width="115.10" height="3.40" rx="0" fill="#e9e9ea" stroke="none" stroke-width="1"/>
<rect x="31.30" y="183.20" width="115.10" height="3.60" rx="0" fill="#fbfbfb" stroke="none" stroke-width="1"/>
<rect x="36.00" y="180.50" width="16.00" height="2.10" rx="0" fill="#c9c9c9" stroke="none" stroke-width="1"/>
<rect x="42.00" y="184.00" width="78.00" height="1.80" rx="0" fill="#e2e2e2" stroke="none" stroke-width="1"/>
<rect x="46.00" y="184.20" width="3.00" height="1.40" rx="0" fill="#d4a0a0" stroke="none" stroke-width="1"/>
<rect x="58.00" y="184.20" width="3.00" height="1.40" rx="0" fill="#d4a0a0" stroke="none" stroke-width="1"/>
<rect x="70.00" y="184.20" width="3.00" height="1.40" rx="0" fill="#d4a0a0" stroke="none" stroke-width="1"/>
<rect x="31.30" y="248.60" width="115.10" height="2.60" rx="0" fill="#2c4f7c" stroke="none" stroke-width="1"/>
<rect x="34.80" y="190.00" width="111.60" height="1.20" rx="0" fill="#2b7a3a" stroke="none" stroke-width="1" opacity="0.35"/>
<rect x="34.80" y="197.50" width="111.60" height="1.20" rx="0" fill="#2b7a3a" stroke="none" stroke-width="1" opacity="0.35"/>
<rect x="34.80" y="205.00" width="111.60" height="1.20" rx="0" fill="#2b7a3a" stroke="none" stroke-width="1" opacity="0.35"/>
<rect x="34.80" y="212.50" width="111.60" height="1.20" rx="0" fill="#2b7a3a" stroke="none" stroke-width="1" opacity="0.35"/>
<rect x="34.80" y="220.00" width="111.60" height="1.20" rx="0" fill="#2b7a3a" stroke="none" stroke-width="1" opacity="0.35"/>
<rect x="34.80" y="227.50" width="111.60" height="1.20" rx="0" fill="#2b7a3a" stroke="none" stroke-width="1" opacity="0.35"/>
<rect x="34.80" y="235.00" width="111.60" height="1.20" rx="0" fill="#2b7a3a" stroke="none" stroke-width="1" opacity="0.35"/>
<rect x="34.80" y="242.50" width="111.60" height="1.20" rx="0" fill="#2b7a3a" stroke="none" stroke-width="1" opacity="0.35"/>
<g opacity="0.75">
<polygon points="73.00,203.00 66.00,196.00 61.00,197.50 59.50,203.00 62.00,210.00 68.00,213.50 74.00,212.00" fill="#3b8c4e" stroke="none" stroke-width="1" stroke-linejoin="round"/>
<polygon points="79.00,203.00 86.00,196.00 91.00,197.50 92.50,203.00 90.00,210.00 84.00,213.50 78.00,212.00" fill="#3b8c4e" stroke="none" stroke-width="1" stroke-linejoin="round"/>
<polygon points="71.50,195.00 71.00,190.50 74.00,192.00 76.00,189.30 78.00,192.00 81.00,190.50 80.50,195.00" fill="#3b8c4e" stroke="none" stroke-width="1" stroke-linejoin="round"/>
<polygon points="68.00,197.00 70.00,193.00 72.00,196.00 74.00,199.00 72.00,202.00" fill="#3b8c4e" stroke="none" stroke-width="1" stroke-linejoin="round"/>
<polygon points="84.00,197.00 82.00,193.00 80.00,196.00 78.00,199.00 80.00,202.00" fill="#3b8c4e" stroke="none" stroke-width="1" stroke-linejoin="round"/>
<rect x="69.00" y="206.00" width="15.00" height="16.50" rx="0" fill="#3b8c4e" stroke="none" stroke-width="1"/>
<polygon points="72.00,199.00 80.00,199.00 82.00,207.00 70.00,207.00" fill="#3b8c4e" stroke="none" stroke-width="1" stroke-linejoin="round"/>
<line x1="60.00" y1="212.00" x2="64.00" y2="197.00" stroke="#5aa86c" stroke-width="0.5"/>
<line x1="65.50" y1="212.00" x2="69.50" y2="197.00" stroke="#5aa86c" stroke-width="0.5"/>
<line x1="71.00" y1="212.00" x2="75.00" y2="197.00" stroke="#5aa86c" stroke-width="0.5"/>
<line x1="76.50" y1="212.00" x2="80.50" y2="197.00" stroke="#5aa86c" stroke-width="0.5"/>
<line x1="82.00" y1="212.00" x2="86.00" y2="197.00" stroke="#5aa86c" stroke-width="0.5"/>
<line x1="87.50" y1="212.00" x2="91.50" y2="197.00" stroke="#5aa86c" stroke-width="0.5"/>
<line x1="69.50" y1="208.00" x2="83.50" y2="208.00" stroke="#4f9f62" stroke-width="0.5"/>
<line x1="69.50" y1="211.00" x2="83.50" y2="211.00" stroke="#4f9f62" stroke-width="0.5"/>
<line x1="69.50" y1="214.00" x2="83.50" y2="214.00" stroke="#4f9f62" stroke-width="0.5"/>
<line x1="69.50" y1="217.00" x2="83.50" y2="217.00" stroke="#4f9f62" stroke-width="0.5"/>
<line x1="69.50" y1="220.00" x2="83.50" y2="220.00" stroke="#4f9f62" stroke-width="0.5"/>
</g>
<polygon points="39.00,193.00 45.00,193.00 42.00,198.00" fill="#d8b040" stroke="none" stroke-width="1" stroke-linejoin="round"/>
<rect x="46.00" y="192.50" width="8.00" height="1.50" rx="0" fill="#9cc9a4" stroke="none" stroke-width="1"/>
<rect x="46.00" y="195.00" width="6.00" height="1.00" rx="0" fill="#9cc9a4" stroke="none" stroke-width="1"/>
<rect x="96.20" y="194.50" width="5.20" height="6.30" rx="0.6" fill="#f4f4f4" stroke="none" stroke-width="1"/>
<rect x="97.20" y="195.80" width="3.00" height="0.80" rx="0" fill="#79b384" stroke="none" stroke-width="1"/>
<rect x="95.70" y="202.10" width="7.50" height="0.80" rx="0" fill="#a6cfae" stroke="none" stroke-width="1"/>
<rect x="95.70" y="203.70" width="5.50" height="0.60" rx="0" fill="#7fb38b" stroke="none" stroke-width="1"/>
<rect x="96.20" y="210.20" width="5.20" height="6.30" rx="0.6" fill="#f4f4f4" stroke="none" stroke-width="1"/>
<rect x="97.20" y="211.50" width="3.00" height="0.80" rx="0" fill="#79b384" stroke="none" stroke-width="1"/>
<rect x="95.70" y="217.80" width="7.50" height="0.80" rx="0" fill="#a6cfae" stroke="none" stroke-width="1"/>
<rect x="95.70" y="219.40" width="5.50" height="0.60" rx="0" fill="#7fb38b" stroke="none" stroke-width="1"/>
<rect x="96.20" y="225.50" width="5.20" height="6.30" rx="0.6" fill="#f4f4f4" stroke="none" stroke-width="1"/>
<rect x="97.20" y="226.80" width="3.00" height="0.80" rx="0" fill="#79b384" stroke="none" stroke-width="1"/>
<rect x="95.70" y="233.10" width="7.50" height="0.80" rx="0" fill="#a6cfae" stroke="none" stroke-width="1"/>
<rect x="95.70" y="234.70" width="5.50" height="0.60" rx="0" fill="#7fb38b" stroke="none" stroke-width="1"/>
<rect x="110.60" y="194.50" width="5.20" height="6.30" rx="0.6" fill="#f4f4f4" stroke="none" stroke-width="1"/>
<rect x="111.60" y="195.80" width="3.00" height="0.80" rx="0" fill="#79b384" stroke="none" stroke-width="1"/>
<rect x="110.10" y="202.10" width="7.50" height="0.80" rx="0" fill="#a6cfae" stroke="none" stroke-width="1"/>
<rect x="110.10" y="203.70" width="5.50" height="0.60" rx="0" fill="#7fb38b" stroke="none" stroke-width="1"/>
<rect x="110.60" y="210.20" width="5.20" height="6.30" rx="0.6" fill="#f4f4f4" stroke="none" stroke-width="1"/>
<rect x="111.60" y="211.50" width="3.00" height="0.80" rx="0" fill="#79b384" stroke="none" stroke-width="1"/>
<rect x="110.10" y="217.80" width="7.50" height="0.80" rx="0" fill="#a6cfae" stroke="none" stroke-width="1"/>
<rect x="110.10" y="219.40" width="5.50" height="0.60" rx="0" fill="#7fb38b" stroke="none" stroke-width="1"/>
<rect x="110.60" y="225.50" width="5.20" height="6.30" rx="0.6" fill="#f4f4f4" stroke="none" stroke-width="1"/>
<rect x="111.60" y="226.80" width="3.00" height="0.80" rx="0" fill="#79b384" stroke="none" stroke-width="1"/>
<rect x="110.10" y="233.10" width="7.50" height="0.80" rx="0" fill="#a6cfae" stroke="none" stroke-width="1"/>
<rect x="110.10" y="234.70" width="5.50" height="0.60" rx="0" fill="#7fb38b" stroke="none" stroke-width="1"/>
<rect x="125.00" y="194.50" width="5.20" height="6.30" rx="0.6" fill="#f4f4f4" stroke="none" stroke-width="1"/>
<rect x="126.00" y="195.80" width="3.00" height="0.80" rx="0" fill="#79b384" stroke="none" stroke-width="1"/>
<rect x="124.50" y="202.10" width="7.50" height="0.80" rx="0" fill="#a6cfae" stroke="none" stroke-width="1"/>
<rect x="124.50" y="203.70" width="5.50" height="0.60" rx="0" fill="#7fb38b" stroke="none" stroke-width="1"/>
<rect x="125.00" y="210.20" width="5.20" height="6.30" rx="0.6" fill="#f4f4f4" stroke="none" stroke-width="1"/>
<rect x="126.00" y="211.50" width="3.00" height="0.80" rx="0" fill="#79b384" stroke="none" stroke-width="1"/>
<rect x="124.50" y="217.80" width="7.50" height="0.80" rx="0" fill="#a6cfae" stroke="none" stroke-width="1"/>
<rect x="124.50" y="219.40" width="5.50" height="0.60" rx="0" fill="#7fb38b" stroke="none" stroke-width="1"/>
<rect x="125.00" y="225.50" width="5.20" height="6.30" rx="0.6" fill="#f4f4f4" stroke="none" stroke-width="1"/>
<rect x="126.00" y="226.80" width="3.00" height="0.80" rx="0" fill="#79b384" stroke="none" stroke-width="1"/>
<rect x="124.50" y="233.10" width="7.50" height="0.80" rx="0" fill="#a6cfae" stroke="none" stroke-width="1"/>
<rect x="124.50" y="234.70" width="5.50" height="0.60" rx="0" fill="#7fb38b" stroke="none" stroke-width="1"/>
<rect x="131.00" y="242.50" width="10.00" height="0.70" rx="0" fill="#6aa37a" stroke="none" stroke-width="1"/>
<rect x="42.20" y="220.30" width="40.50" height="27.60" rx="0" fill="#1b1b1b" stroke="none" stroke-width="1"/>
<rect x="43.50" y="221.60" width="37.90" height="25.00" rx="0" fill="#1f7f6c" stroke="none" stroke-width="1"/>
<rect x="52.00" y="222.80" width="18.00" height="1.00" rx="0" fill="#cfe9e2" stroke="none" stroke-width="1"/>
<rect x="55.00" y="224.80" width="13.00" height="0.80" rx="0" fill="#cfe9e2" stroke="none" stroke-width="1"/>
<rect x="45.00" y="228.00" width="19.00" height="2.60" rx="0" fill="#ffffff" stroke="none" stroke-width="1"/>
<rect x="45.00" y="232.30" width="19.00" height="2.60" rx="0" fill="#ffffff" stroke="none" stroke-width="1"/>
<rect x="45.00" y="238.00" width="6.00" height="3.00" rx="0" fill="#ffffff" stroke="none" stroke-width="1"/>
<rect x="54.00" y="238.00" width="10.00" height="3.00" rx="0" fill="#2a8c78" stroke="#bfe3da" stroke-width="0.5"/>
<rect x="45.00" y="243.00" width="17.00" height="0.80" rx="0" fill="#bfe3da" stroke="none" stroke-width="1"/>
<rect x="66.20" y="227.50" width="13.80" height="8.50" rx="0" fill="#ffffff" stroke="none" stroke-width="1"/>
<rect x="66.20" y="237.40" width="13.80" height="8.20" rx="0" fill="#ffffff" stroke="none" stroke-width="1"/>
<circle cx="77.5" cy="241" r="1.6" fill="#2a9a4a"/>
<rect x="68.00" y="229.50" width="6.00" height="3.50" rx="0" fill="#e6e6e6" stroke="none" stroke-width="1"/>
<rect x="68.00" y="239.50" width="6.00" height="3.50" rx="0" fill="#e6e6e6" stroke="none" stroke-width="1"/>
<rect x="74.50" y="229.00" width="4.00" height="2.00" rx="0" fill="#e89a9a" stroke="none" stroke-width="1"/>
<rect x="81.7" y="258.6" width="13.899999999999991" height="10.599999999999966" fill="url(#stand)"/>
<rect x="64.8" y="268.9" width="46.5" height="3.5" rx="1.5" fill="#c9c9c9"/>
<rect x="65.3" y="271.2" width="45.5" height="1.2" fill="#6f6f6f"/>
<path d="M27.8,274.2 L151.6,274.2 Q153.1,274.2 154.1,276.2 L155.6,283.3 Q155.6,285.3 153.6,285.3 L26.3,285.3 Q24.3,285.3 24.3,283.3 L26.3,276.2 Q26.8,274.2 27.8,274.2 Z" fill="#34363a"/>
<rect x="28.60" y="276.00" width="6.05" height="1.83" rx="0" fill="#5a5d62" stroke="none" stroke-width="1"/>
<rect x="35.25" y="276.00" width="6.05" height="1.83" rx="0" fill="#5a5d62" stroke="none" stroke-width="1"/>
<rect x="41.91" y="276.00" width="6.05" height="1.83" rx="0" fill="#5a5d62" stroke="none" stroke-width="1"/>
<rect x="48.56" y="276.00" width="6.05" height="1.83" rx="0" fill="#5a5d62" stroke="none" stroke-width="1"/>
<rect x="55.22" y="276.00" width="6.05" height="1.83" rx="0" fill="#5a5d62" stroke="none" stroke-width="1"/>
<rect x="61.87" y="276.00" width="6.05" height="1.83" rx="0" fill="#5a5d62" stroke="none" stroke-width="1"/>
<rect x="68.53" y="276.00" width="6.05" height="1.83" rx="0" fill="#5a5d62" stroke="none" stroke-width="1"/>
<rect x="75.18" y="276.00" width="6.05" height="1.83" rx="0" fill="#5a5d62" stroke="none" stroke-width="1"/>
<rect x="81.84" y="276.00" width="6.05" height="1.83" rx="0" fill="#5a5d62" stroke="none" stroke-width="1"/>
<rect x="88.49" y="276.00" width="6.05" height="1.83" rx="0" fill="#5a5d62" stroke="none" stroke-width="1"/>
<rect x="95.14" y="276.00" width="6.05" height="1.83" rx="0" fill="#5a5d62" stroke="none" stroke-width="1"/>
<rect x="101.80" y="276.00" width="6.05" height="1.83" rx="0" fill="#5a5d62" stroke="none" stroke-width="1"/>
<rect x="108.45" y="276.00" width="6.05" height="1.83" rx="0" fill="#5a5d62" stroke="none" stroke-width="1"/>
<rect x="115.11" y="276.00" width="6.05" height="1.83" rx="0" fill="#5a5d62" stroke="none" stroke-width="1"/>
<rect x="123.73" y="276.00" width="4.09" height="1.83" rx="0" fill="#5a5d62" stroke="none" stroke-width="1"/>
<rect x="128.43" y="276.00" width="4.09" height="1.83" rx="0" fill="#5a5d62" stroke="none" stroke-width="1"/>
<rect x="133.12" y="276.00" width="4.09" height="1.83" rx="0" fill="#5a5d62" stroke="none" stroke-width="1"/>
<rect x="137.82" y="276.00" width="4.09" height="1.83" rx="0" fill="#5a5d62" stroke="none" stroke-width="1"/>
<rect x="142.51" y="276.00" width="4.09" height="1.83" rx="0" fill="#5a5d62" stroke="none" stroke-width="1"/>
<rect x="147.21" y="276.00" width="4.09" height="1.83" rx="0" fill="#5a5d62" stroke="none" stroke-width="1"/>
<rect x="28.00" y="278.63" width="6.10" height="1.83" rx="0" fill="#5a5d62" stroke="none" stroke-width="1"/>
<rect x="34.70" y="278.63" width="6.10" height="1.83" rx="0" fill="#5a5d62" stroke="none" stroke-width="1"/>
<rect x="41.39" y="278.63" width="6.10" height="1.83" rx="0" fill="#5a5d62" stroke="none" stroke-width="1"/>
<rect x="48.09" y="278.63" width="6.10" height="1.83" rx="0" fill="#5a5d62" stroke="none" stroke-width="1"/>
<rect x="54.79" y="278.63" width="6.10" height="1.83" rx="0" fill="#5a5d62" stroke="none" stroke-width="1"/>
<rect x="61.49" y="278.63" width="6.10" height="1.83" rx="0" fill="#5a5d62" stroke="none" stroke-width="1"/>
<rect x="68.18" y="278.63" width="6.10" height="1.83" rx="0" fill="#5a5d62" stroke="none" stroke-width="1"/>
<rect x="74.88" y="278.63" width="6.10" height="1.83" rx="0" fill="#5a5d62" stroke="none" stroke-width="1"/>
<rect x="81.58" y="278.63" width="6.10" height="1.83" rx="0" fill="#5a5d62" stroke="none" stroke-width="1"/>
<rect x="88.28" y="278.63" width="6.10" height="1.83" rx="0" fill="#5a5d62" stroke="none" stroke-width="1"/>
<rect x="94.97" y="278.63" width="6.10" height="1.83" rx="0" fill="#5a5d62" stroke="none" stroke-width="1"/>
<rect x="101.67" y="278.63" width="6.10" height="1.83" rx="0" fill="#5a5d62" stroke="none" stroke-width="1"/>
<rect x="108.37" y="278.63" width="6.10" height="1.83" rx="0" fill="#5a5d62" stroke="none" stroke-width="1"/>
<rect x="115.06" y="278.63" width="6.10" height="1.83" rx="0" fill="#5a5d62" stroke="none" stroke-width="1"/>
<rect x="123.73" y="278.63" width="4.18" height="1.83" rx="0" fill="#5a5d62" stroke="none" stroke-width="1"/>
<rect x="128.51" y="278.63" width="4.18" height="1.83" rx="0" fill="#5a5d62" stroke="none" stroke-width="1"/>
<rect x="133.29" y="278.63" width="4.18" height="1.83" rx="0" fill="#5a5d62" stroke="none" stroke-width="1"/>
<rect x="138.07" y="278.63" width="4.18" height="1.83" rx="0" fill="#5a5d62" stroke="none" stroke-width="1"/>
<rect x="142.84" y="278.63" width="4.18" height="1.83" rx="0" fill="#5a5d62" stroke="none" stroke-width="1"/>
<rect x="147.62" y="278.63" width="4.18" height="1.83" rx="0" fill="#5a5d62" stroke="none" stroke-width="1"/>
<rect x="27.40" y="281.27" width="6.14" height="1.83" rx="0" fill="#5a5d62" stroke="none" stroke-width="1"/>
<rect x="34.14" y="281.27" width="6.14" height="1.83" rx="0" fill="#5a5d62" stroke="none" stroke-width="1"/>
<rect x="40.88" y="281.27" width="6.14" height="1.83" rx="0" fill="#5a5d62" stroke="none" stroke-width="1"/>
<rect x="47.62" y="281.27" width="6.14" height="1.83" rx="0" fill="#5a5d62" stroke="none" stroke-width="1"/>
<rect x="54.36" y="281.27" width="6.14" height="1.83" rx="0" fill="#5a5d62" stroke="none" stroke-width="1"/>
<rect x="61.10" y="281.27" width="6.14" height="1.83" rx="0" fill="#5a5d62" stroke="none" stroke-width="1"/>
<rect x="67.84" y="281.27" width="6.14" height="1.83" rx="0" fill="#5a5d62" stroke="none" stroke-width="1"/>
<rect x="74.58" y="281.27" width="6.14" height="1.83" rx="0" fill="#5a5d62" stroke="none" stroke-width="1"/>
<rect x="81.32" y="281.27" width="6.14" height="1.83" rx="0" fill="#5a5d62" stroke="none" stroke-width="1"/>
<rect x="88.06" y="281.27" width="6.14" height="1.83" rx="0" fill="#5a5d62" stroke="none" stroke-width="1"/>
<rect x="94.80" y="281.27" width="6.14" height="1.83" rx="0" fill="#5a5d62" stroke="none" stroke-width="1"/>
<rect x="101.54" y="281.27" width="6.14" height="1.83" rx="0" fill="#5a5d62" stroke="none" stroke-width="1"/>
<rect x="108.28" y="281.27" width="6.14" height="1.83" rx="0" fill="#5a5d62" stroke="none" stroke-width="1"/>
<rect x="115.02" y="281.27" width="6.14" height="1.83" rx="0" fill="#5a5d62" stroke="none" stroke-width="1"/>
<rect x="123.73" y="281.27" width="4.26" height="1.83" rx="0" fill="#5a5d62" stroke="none" stroke-width="1"/>
<rect x="128.59" y="281.27" width="4.26" height="1.83" rx="0" fill="#5a5d62" stroke="none" stroke-width="1"/>
<rect x="133.45" y="281.27" width="4.26" height="1.83" rx="0" fill="#5a5d62" stroke="none" stroke-width="1"/>
<rect x="138.32" y="281.27" width="4.26" height="1.83" rx="0" fill="#5a5d62" stroke="none" stroke-width="1"/>
<rect x="143.18" y="281.27" width="4.26" height="1.83" rx="0" fill="#5a5d62" stroke="none" stroke-width="1"/>
<rect x="148.04" y="281.27" width="4.26" height="1.83" rx="0" fill="#5a5d62" stroke="none" stroke-width="1"/>
<rect x="25.30" y="284.00" width="129.30" height="1.30" rx="0" fill="#151617" stroke="none" stroke-width="1"/>
<rect x="162.50" y="274.20" width="19.20" height="11.00" rx="4.95" fill="#141414"/>
<ellipse cx="171.10" cy="277.50" rx="5.76" ry="1.65" fill="#3a3a3a"/>
<rect x="38.10" y="350.60" width="39.80" height="67.60" rx="3.5" fill="#0d0d0d" stroke="none" stroke-width="1"/>
<rect x="40.20" y="354.50" width="36.00" height="55.30" rx="0" fill="#ffffff" stroke="none" stroke-width="1"/>
<rect x="40.20" y="354.50" width="36.00" height="29.90" rx="0" fill="url(#photo)" stroke="none" stroke-width="1"/>
<ellipse cx="70" cy="364" rx="6.5" ry="6" fill="#1e1e1e"/>
<ellipse cx="67.5" cy="365.5" rx="2.5" ry="2.2" fill="#5a6a80"/>
<ellipse cx="70.5" cy="359" rx="3.8" ry="2.3" fill="none" stroke="#e02a2a" stroke-width="1"/>
<ellipse cx="52" cy="376" rx="8" ry="4" fill="#e6cfc4"/>
<circle cx="56" cy="373.5" r="2" fill="#111"/>
<rect x="41.00" y="378.50" width="34.00" height="3.00" rx="0" fill="#8b8378" stroke="none" stroke-width="1" opacity="0.6"/>
<rect x="43.00" y="356.50" width="2.00" height="2.00" rx="0" fill="#555" stroke="none" stroke-width="1"/>
<rect x="43.00" y="360.50" width="2.00" height="2.00" rx="0" fill="#666" stroke="none" stroke-width="1"/>
<rect x="47.00" y="356.50" width="2.00" height="2.00" rx="0" fill="#555" stroke="none" stroke-width="1"/>
<rect x="47.00" y="360.50" width="2.00" height="2.00" rx="0" fill="#666" stroke="none" stroke-width="1"/>
<rect x="51.00" y="356.50" width="2.00" height="2.00" rx="0" fill="#555" stroke="none" stroke-width="1"/>
<rect x="51.00" y="360.50" width="2.00" height="2.00" rx="0" fill="#666" stroke="none" stroke-width="1"/>
<rect x="55.00" y="356.50" width="2.00" height="2.00" rx="0" fill="#555" stroke="none" stroke-width="1"/>
<rect x="55.00" y="360.50" width="2.00" height="2.00" rx="0" fill="#666" stroke="none" stroke-width="1"/>
<rect x="40.20" y="384.40" width="21.00" height="4.60" rx="0" fill="#e8327c" stroke="none" stroke-width="1"/>
<rect x="61.20" y="384.40" width="15.00" height="4.60" rx="0" fill="#f4a21c" stroke="none" stroke-width="1"/>
<rect x="42.00" y="390.80" width="10.00" height="1.20" rx="0" fill="#222" stroke="none" stroke-width="1"/>
<rect x="54.00" y="390.80" width="8.00" height="1.20" rx="0" fill="#444" stroke="none" stroke-width="1"/>
<rect x="42.00" y="393.50" width="18.00" height="0.70" rx="0" fill="#e08a8a" stroke="none" stroke-width="1"/>
<rect x="42.00" y="395.50" width="26.00" height="0.70" rx="0" fill="#e8b060" stroke="none" stroke-width="1"/>
<rect x="42.00" y="398.50" width="32.00" height="0.70" rx="0" fill="#555" stroke="none" stroke-width="1"/>
<rect x="42.00" y="400.90" width="26.00" height="0.70" rx="0" fill="#555" stroke="none" stroke-width="1"/>
<rect x="42.00" y="403.30" width="32.00" height="0.70" rx="0" fill="#555" stroke="none" stroke-width="1"/>
<rect x="42.00" y="405.70" width="26.00" height="0.70" rx="0" fill="#555" stroke="none" stroke-width="1"/>
<rect x="97.00" y="350.60" width="40.10" height="67.60" rx="3.5" fill="#0d0d0d" stroke="none" stroke-width="1"/>
<rect x="98.70" y="355.80" width="37.10" height="55.30" rx="0" fill="#ffffff" stroke="none" stroke-width="1"/>
<rect x="101.80" y="358.50" width="3.40" height="3.40" rx="0.8" fill="#f0c040" stroke="none" stroke-width="1"/>
<rect x="100.60" y="363.10" width="6.70" height="0.70" rx="0" fill="#bbbbbb" stroke="none" stroke-width="1"/>
<rect x="110.70" y="358.50" width="3.40" height="3.40" rx="0.8" fill="#4a80e0" stroke="none" stroke-width="1"/>
<rect x="109.50" y="363.10" width="6.70" height="0.70" rx="0" fill="#bbbbbb" stroke="none" stroke-width="1"/>
<rect x="119.60" y="358.50" width="3.40" height="3.40" rx="0.8" fill="#e05a70" stroke="none" stroke-width="1"/>
<rect x="118.40" y="363.10" width="6.70" height="0.70" rx="0" fill="#bbbbbb" stroke="none" stroke-width="1"/>
<rect x="128.50" y="358.50" width="3.40" height="3.40" rx="0.8" fill="#7a6ad0" stroke="none" stroke-width="1"/>
<rect x="127.30" y="363.10" width="6.70" height="0.70" rx="0" fill="#bbbbbb" stroke="none" stroke-width="1"/>
<rect x="101.80" y="369.10" width="3.40" height="3.40" rx="0.8" fill="#30a060" stroke="none" stroke-width="1"/>
<rect x="100.60" y="373.70" width="6.70" height="0.70" rx="0" fill="#bbbbbb" stroke="none" stroke-width="1"/>
<rect x="110.70" y="369.10" width="3.40" height="3.40" rx="0.8" fill="#3a7ae0" stroke="none" stroke-width="1"/>
<rect x="109.50" y="373.70" width="6.70" height="0.70" rx="0" fill="#bbbbbb" stroke="none" stroke-width="1"/>
<rect x="119.60" y="369.10" width="3.40" height="3.40" rx="0.8" fill="#3a7ae0" stroke="none" stroke-width="1"/>
<rect x="118.40" y="373.70" width="6.70" height="0.70" rx="0" fill="#bbbbbb" stroke="none" stroke-width="1"/>
<rect x="128.50" y="369.10" width="3.40" height="3.40" rx="0.8" fill="#e03030" stroke="none" stroke-width="1"/>
<rect x="127.30" y="373.70" width="6.70" height="0.70" rx="0" fill="#bbbbbb" stroke="none" stroke-width="1"/>
<rect x="101.80" y="379.70" width="3.40" height="3.40" rx="0.8" fill="#f08a20" stroke="none" stroke-width="1"/>
<rect x="100.60" y="384.30" width="6.70" height="0.70" rx="0" fill="#bbbbbb" stroke="none" stroke-width="1"/>
<rect x="110.70" y="379.70" width="3.40" height="3.40" rx="0.8" fill="#3a7ae0" stroke="none" stroke-width="1"/>
<rect x="109.50" y="384.30" width="6.70" height="0.70" rx="0" fill="#bbbbbb" stroke="none" stroke-width="1"/>
<rect x="128.50" y="379.70" width="3.40" height="3.40" rx="0.8" fill="#5a9ae0" stroke="none" stroke-width="1"/>
<rect x="127.30" y="384.30" width="6.70" height="0.70" rx="0" fill="#bbbbbb" stroke="none" stroke-width="1"/>
<rect x="101.80" y="390.30" width="3.40" height="3.40" rx="0.8" fill="#d040a0" stroke="none" stroke-width="1"/>
<rect x="100.60" y="394.90" width="6.70" height="0.70" rx="0" fill="#bbbbbb" stroke="none" stroke-width="1"/>
<rect x="110.70" y="390.30" width="3.40" height="3.40" rx="0.8" fill="#3aa0e0" stroke="none" stroke-width="1"/>
<rect x="109.50" y="394.90" width="6.70" height="0.70" rx="0" fill="#bbbbbb" stroke="none" stroke-width="1"/>
<rect x="119.60" y="390.30" width="3.40" height="3.40" rx="0.8" fill="#e07080" stroke="none" stroke-width="1"/>
<rect x="118.40" y="394.90" width="6.70" height="0.70" rx="0" fill="#bbbbbb" stroke="none" stroke-width="1"/>
<rect x="128.50" y="390.30" width="3.40" height="3.40" rx="0.8" fill="#3a6a50" stroke="none" stroke-width="1"/>
<rect x="127.30" y="394.90" width="6.70" height="0.70" rx="0" fill="#bbbbbb" stroke="none" stroke-width="1"/>
<rect x="101.80" y="400.90" width="3.40" height="3.40" rx="0.8" fill="#4ab0e0" stroke="none" stroke-width="1"/>
<rect x="100.60" y="405.50" width="6.70" height="0.70" rx="0" fill="#bbbbbb" stroke="none" stroke-width="1"/>
<rect x="110.70" y="400.90" width="3.40" height="3.40" rx="0.8" fill="#c06060" stroke="none" stroke-width="1"/>
<rect x="109.50" y="405.50" width="6.70" height="0.70" rx="0" fill="#bbbbbb" stroke="none" stroke-width="1"/>
<rect x="119.60" y="400.90" width="3.40" height="3.40" rx="0.8" fill="#40b070" stroke="none" stroke-width="1"/>
<rect x="118.40" y="405.50" width="6.70" height="0.70" rx="0" fill="#bbbbbb" stroke="none" stroke-width="1"/>
<rect x="128.50" y="400.90" width="3.40" height="3.40" rx="0.8" fill="#3050a0" stroke="none" stroke-width="1"/>
<rect x="127.30" y="405.50" width="6.70" height="0.70" rx="0" fill="#bbbbbb" stroke="none" stroke-width="1"/>
<rect x="117.80" y="377.20" width="9.50" height="11.10" rx="0" fill="#1a7a5e" stroke="none" stroke-width="1"/>
<rect x="119.50" y="386.00" width="6.00" height="1.00" rx="0" fill="#ffffff" stroke="none" stroke-width="1"/>
<path d="M120,379 L125,384 M125,379 L120,384" stroke="#d8c860" stroke-width="0.7"/>
<circle cx="122.6" cy="382.7" r="8" fill="none" stroke="#d8282a" stroke-width="1.2"/>
<rect x="39.20" y="433.50" width="38.30" height="64.70" rx="3.5" fill="#0d0d0d" stroke="none" stroke-width="1"/>
<rect x="40.50" y="438.90" width="35.70" height="51.90" rx="0" fill="#ffffff" stroke="none" stroke-width="1"/>
<rect x="49.00" y="440.00" width="15.00" height="0.80" rx="0" fill="#c8c8c8" stroke="none" stroke-width="1"/>
<rect x="42.00" y="441.00" width="2.00" height="1.00" rx="0" fill="#555" stroke="none" stroke-width="1"/>
<rect x="41.50" y="444.50" width="9.00" height="10.50" rx="0" fill="#c9bdb3" stroke="none" stroke-width="1"/>
<circle cx="48.5" cy="446.5" r="2" fill="#222"/>
<rect x="52.00" y="445.00" width="20.00" height="1.30" rx="0" fill="#333" stroke="none" stroke-width="1"/>
<rect x="52.00" y="448.00" width="16.00" height="0.80" rx="0" fill="#777" stroke="none" stroke-width="1"/>
<rect x="52.00" y="450.50" width="22.00" height="0.70" rx="0" fill="#aaa" stroke="none" stroke-width="1"/>
<rect x="42.00" y="457.50" width="3.00" height="1.00" rx="0" fill="#777" stroke="none" stroke-width="1"/>
<rect x="49.00" y="457.50" width="3.00" height="1.00" rx="0" fill="#e05a3a" stroke="none" stroke-width="1"/>
<rect x="55.00" y="457.50" width="6.00" height="1.00" rx="0" fill="#e05a3a" stroke="none" stroke-width="1"/>
<rect x="64.00" y="457.50" width="3.00" height="1.00" rx="0" fill="#777" stroke="none" stroke-width="1"/>
<rect x="55.00" y="460.50" width="7.00" height="0.70" rx="0" fill="#5a7ae0" stroke="none" stroke-width="1"/>
<rect x="42.50" y="465.50" width="5.50" height="1.00" rx="0" fill="#333" stroke="none" stroke-width="1"/>
<rect x="42.50" y="468.00" width="3.50" height="0.60" rx="0" fill="#aaa" stroke="none" stroke-width="1"/>
<rect x="41.50" y="480.20" width="34.00" height="0.40" rx="0" fill="#e0e0e0" stroke="none" stroke-width="1"/>
<rect x="44.60" y="481.30" width="3.70" height="5.40" rx="0" fill="#1fa54a" stroke="none" stroke-width="1"/>
<rect x="48.90" y="481.00" width="3.70" height="5.70" rx="0" fill="#5fc0a8" stroke="none" stroke-width="1"/>
<rect x="53.20" y="474.50" width="3.70" height="12.20" rx="0" fill="#3ab095" stroke="none" stroke-width="1"/>
<rect x="57.50" y="473.60" width="3.70" height="13.10" rx="0" fill="#3ab095" stroke="none" stroke-width="1"/>
<rect x="61.80" y="472.20" width="3.70" height="14.50" rx="0" fill="#3ab095" stroke="none" stroke-width="1"/>
<rect x="66.10" y="474.20" width="3.70" height="12.50" rx="0" fill="#3ab095" stroke="none" stroke-width="1"/>
<rect x="70.40" y="471.60" width="3.70" height="15.10" rx="0" fill="#3ab095" stroke="none" stroke-width="1"/>
<rect x="97.10" y="433.80" width="40.00" height="66.80" rx="3.5" fill="#0d0d0d" stroke="none" stroke-width="1"/>
<rect x="99.10" y="438.90" width="36.00" height="53.90" rx="0" fill="#14795d" stroke="none" stroke-width="1"/>
<path d="M106.3,442.7 L128.7,442.7 L128.7,463 Q127,467 117.5,469.5 Q108,467 106.3,463 Z" fill="none" stroke="#7fc3a8" stroke-width="0.8"/>
<path d="M110,447 L124,462 M123.5,447.5 L112,461" stroke="#e9dc6a" stroke-width="1.2"/>
<circle cx="110.5" cy="447.5" r="1.8" fill="#e9dc6a"/>
<path d="M120,446 q4,2 5,6" fill="none" stroke="#e9dc6a" stroke-width="1"/>
<line x1="80.30" y1="389.00" x2="90.60" y2="389.00" stroke="#000" stroke-width="1.7"/>
<polygon points="95.80,389.00 89.30,392.80 91.25,389.00 89.30,385.20" fill="#000" stroke="none" stroke-width="1" stroke-linejoin="round"/>
<line x1="115.80" y1="421.50" x2="115.80" y2="427.60" stroke="#000" stroke-width="1.7"/>
<polygon points="115.80,432.80 112.00,426.30 115.80,428.25 119.60,426.30" fill="#000" stroke="none" stroke-width="1" stroke-linejoin="round"/>
<line x1="96.80" y1="465.60" x2="89.00" y2="465.60" stroke="#000" stroke-width="1.7"/>
<polygon points="83.40,465.60 90.40,461.50 88.30,465.60 90.40,469.70" fill="#000" stroke="none" stroke-width="1" stroke-linejoin="round"/>
<rect x="673.50" y="176.00" width="1.50" height="4.20" rx="0" fill="#4a5560" stroke="none" stroke-width="1"/>
<rect x="689.00" y="176.00" width="1.50" height="4.20" rx="0" fill="#4a5560" stroke="none" stroke-width="1"/>
<path d="M672.8,169.5 L692,168.3 L692,175.8 L674.5,176.5 Q672.8,176.5 672.8,174.5 Z" fill="#4d5866"/>
<rect x="673.30" y="173.60" width="18.70" height="2.00" rx="0" fill="#c9d7e4" stroke="none" stroke-width="1"/>
<path d="M727,166.2 L735,167.5 Q737,168.5 736,170.5 L727,171.8 Z" fill="#4d5866"/>
<rect x="727.00" y="169.60" width="9.00" height="1.40" rx="0" fill="#c9d7e4" stroke="none" stroke-width="1"/>
<rect x="730.50" y="171.50" width="1.00" height="3.50" rx="0" fill="#4a5560" stroke="none" stroke-width="1"/>
<rect x="696.50" y="142.50" width="21.30" height="13.50" rx="1.2" fill="#8d9ca8" stroke="none" stroke-width="1"/>
<rect x="698.00" y="144.00" width="7.50" height="11.00" rx="0" fill="#b9c9c2" stroke="none" stroke-width="1"/>
<rect x="706.80" y="144.00" width="9.50" height="11.00" rx="0" fill="#c9d8d0" stroke="none" stroke-width="1"/>
<rect x="688.30" y="151.50" width="16.00" height="27.00" rx="1" fill="#6d7d8a" stroke="none" stroke-width="1"/>
<rect x="690.00" y="153.00" width="2.00" height="24.00" rx="0" fill="#3a4550" stroke="none" stroke-width="1"/>
<rect x="693.00" y="154.00" width="10.00" height="23.00" rx="0" fill="#c6d6cf" stroke="none" stroke-width="1"/>
<rect x="689.00" y="151.80" width="2.50" height="1.70" rx="0" fill="#d03030" stroke="none" stroke-width="1"/>
<rect x="689.50" y="178.00" width="1.50" height="2.50" rx="0" fill="#4a5560" stroke="none" stroke-width="1"/>
<rect x="701.00" y="178.00" width="1.50" height="2.50" rx="0" fill="#4a5560" stroke="none" stroke-width="1"/>
<rect x="704.30" y="151.20" width="24.10" height="11.30" rx="1" fill="#8e9ca8" stroke="none" stroke-width="1"/>
<rect x="706.50" y="154.80" width="8.50" height="5.70" rx="0" fill="#e8a070" stroke="none" stroke-width="1"/>
<ellipse cx="711" cy="157.6" rx="2.5" ry="1.6" fill="#5a9ae0"/>
<rect x="716.00" y="154.80" width="8.50" height="5.70" rx="0" fill="#e6e6ea" stroke="none" stroke-width="1"/>
<rect x="717.50" y="156.00" width="4.50" height="3.00" rx="0" fill="#c8c8cc" stroke="none" stroke-width="1"/>
<path d="M703.5,162.5 L729,162.5 L727.5,166.5 L705,166.5 Z" fill="#e4e7ee" stroke="#9aa4b0" stroke-width="0.5"/>
<circle cx="716.5" cy="164.5" r="1.1" fill="#d02a2a"/>
<circle cx="719.6" cy="164.5" r="1.1" fill="#2a9a4a"/>
<rect x="705.50" y="166.50" width="21.00" height="12.00" rx="0" fill="#dfe2ea" stroke="#9aa4b0" stroke-width="0.5"/>
<rect x="706.00" y="178.00" width="1.50" height="2.00" rx="0" fill="#4a5560" stroke="none" stroke-width="1"/>
<rect x="724.50" y="178.00" width="1.50" height="2.00" rx="0" fill="#4a5560" stroke="none" stroke-width="1"/>
<polygon points="671.50,161.50 684.50,160.00 686.00,170.50 673.00,172.00" fill="#d89a5e" stroke="none" stroke-width="1" stroke-linejoin="round"/>
<polygon points="683.00,160.20 686.00,160.00 686.00,170.50 684.50,170.70" fill="#b87a40" stroke="none" stroke-width="1" stroke-linejoin="round"/>
<polygon points="674.80,155.50 682.00,154.20 683.00,161.00 675.50,161.80" fill="#dba36a" stroke="none" stroke-width="1" stroke-linejoin="round"/>
<polygon points="674.80,155.50 678.00,154.00 683.00,153.80 682.00,154.20" fill="#e6b888" stroke="none" stroke-width="1" stroke-linejoin="round"/>
<rect x="673.60" y="182.70" width="66.50" height="45.20" rx="0" fill="#dfe9dc" stroke="#4a5a4a" stroke-width="1"/>
<rect x="683.90" y="189.80" width="45.10" height="8.70" rx="0" fill="#e0101e" stroke="none" stroke-width="1"/>
<rect x="698.00" y="191.50" width="16.00" height="0.50" rx="0" fill="#ffffff" stroke="none" stroke-width="1" opacity="0.7"/>
<rect x="686.00" y="193.50" width="6.00" height="0.50" rx="0" fill="#ffffff" stroke="none" stroke-width="1" opacity="0.6"/>
<rect x="720.00" y="193.50" width="7.00" height="0.50" rx="0" fill="#ffffff" stroke="none" stroke-width="1" opacity="0.6"/>
<rect x="702.00" y="193.30" width="9.00" height="2.70" rx="0" fill="#ffffff" stroke="none" stroke-width="1" opacity="0.9"/>
<ellipse cx="679" cy="194.2" rx="3.8" ry="2.6" fill="#8a8a8a"/>
<circle cx="681.8" cy="195" r="1.3" fill="#d02020"/>
<ellipse cx="733.5" cy="194.8" rx="3.5" ry="1.8" fill="#7a7a7a"/>
<circle cx="736" cy="195" r="1.2" fill="#d02020"/>
<rect x="675.00" y="204.00" width="20.00" height="13.50" rx="0" fill="#d6d8a0" stroke="none" stroke-width="1" opacity="0.6"/>
<ellipse cx="680.3" cy="211.3" rx="1.7" ry="1.6" fill="#b9cf6a" transform="rotate(8 680.3 211.3)"/>
<ellipse cx="692.4" cy="210.3" rx="2.1" ry="1.1" fill="#c8d8a0" transform="rotate(3 692.4 210.3)"/>
<ellipse cx="685.9" cy="209.4" rx="2.7" ry="1.1" fill="#8fb35a" transform="rotate(29 685.9 209.4)"/>
<ellipse cx="685.4" cy="214.0" rx="2.3" ry="0.9" fill="#d9c45a" transform="rotate(-16 685.4 214.0)"/>
<ellipse cx="676.6" cy="215.7" rx="1.9" ry="1.8" fill="#e6c870" transform="rotate(17 676.6 215.7)"/>
<ellipse cx="692.6" cy="209.3" rx="2.6" ry="1.4" fill="#8fb35a" transform="rotate(30 692.6 209.3)"/>
<ellipse cx="677.8" cy="205.8" rx="1.4" ry="2.2" fill="#e6c870" transform="rotate(22 677.8 205.8)"/>
<ellipse cx="691.4" cy="209.7" rx="2.7" ry="1.6" fill="#a0b070" transform="rotate(7 691.4 209.7)"/>
<ellipse cx="686.5" cy="216.2" rx="2.4" ry="2.1" fill="#6f9a4e" transform="rotate(39 686.5 216.2)"/>
<ellipse cx="688.1" cy="206.2" rx="2.7" ry="2.2" fill="#b9cf6a" transform="rotate(17 688.1 206.2)"/>
<ellipse cx="679.8" cy="215.2" rx="2.1" ry="1.2" fill="#b9cf6a" transform="rotate(-1 679.8 215.2)"/>
<ellipse cx="687.5" cy="210.5" rx="1.7" ry="0.9" fill="#8fb35a" transform="rotate(-38 687.5 210.5)"/>
<ellipse cx="683.7" cy="209.6" rx="1.2" ry="1.6" fill="#d9c45a" transform="rotate(-10 683.7 209.6)"/>
<ellipse cx="686.6" cy="211.4" rx="2.8" ry="1.2" fill="#e9e2b0" transform="rotate(40 686.6 211.4)"/>
<ellipse cx="681.6" cy="205.0" rx="2.2" ry="0.8" fill="#e9e2b0" transform="rotate(38 681.6 205.0)"/>
<ellipse cx="681.2" cy="207.6" rx="2.4" ry="2.2" fill="#5a78a8" transform="rotate(-15 681.2 207.6)"/>
<ellipse cx="693.3" cy="216.1" rx="1.8" ry="1.4" fill="#a0b070" transform="rotate(-9 693.3 216.1)"/>
<ellipse cx="691.6" cy="213.2" rx="1.2" ry="2.2" fill="#a0b070" transform="rotate(-18 691.6 213.2)"/>
<ellipse cx="687.4" cy="213.7" rx="2.9" ry="1.4" fill="#6f9a4e" transform="rotate(2 687.4 213.7)"/>
<ellipse cx="685.9" cy="204.2" rx="1.8" ry="1.6" fill="#d9c45a" transform="rotate(-10 685.9 204.2)"/>
<ellipse cx="686.6" cy="205.8" rx="2.3" ry="1.3" fill="#5a78a8" transform="rotate(14 686.6 205.8)"/>
<ellipse cx="682.3" cy="213.5" rx="2.5" ry="0.8" fill="#d9c45a" transform="rotate(36 682.3 213.5)"/>
<ellipse cx="676.4" cy="209.0" rx="2.3" ry="1.2" fill="#5a78a8" transform="rotate(-26 676.4 209.0)"/>
<ellipse cx="679.3" cy="214.2" rx="2.7" ry="1.2" fill="#e6c870" transform="rotate(-32 679.3 214.2)"/>
<ellipse cx="690.6" cy="217.1" rx="2.4" ry="1.0" fill="#a0b070" transform="rotate(-22 690.6 217.1)"/>
<ellipse cx="690.5" cy="207.2" rx="1.4" ry="1.4" fill="#b9cf6a" transform="rotate(-32 690.5 207.2)"/>
<ellipse cx="681.8" cy="208.5" rx="2.7" ry="1.4" fill="#8fb35a" transform="rotate(-34 681.8 208.5)"/>
<ellipse cx="689.4" cy="206.9" rx="2.1" ry="1.2" fill="#b9cf6a" transform="rotate(-37 689.4 206.9)"/>
<ellipse cx="693.2" cy="208.3" rx="2.7" ry="1.6" fill="#6f9a4e" transform="rotate(-13 693.2 208.3)"/>
<ellipse cx="690.9" cy="205.2" rx="2.2" ry="1.6" fill="#e6c870" transform="rotate(-17 690.9 205.2)"/>
<ellipse cx="690.3" cy="207.7" rx="1.7" ry="1.4" fill="#e6c870" transform="rotate(5 690.3 207.7)"/>
<ellipse cx="676.6" cy="209.6" rx="1.4" ry="1.5" fill="#a0b070" transform="rotate(-5 676.6 209.6)"/>
<ellipse cx="693.1" cy="216.5" rx="1.4" ry="1.8" fill="#a0b070" transform="rotate(37 693.1 216.5)"/>
<ellipse cx="685.8" cy="216.0" rx="2.7" ry="2.0" fill="#6f9a4e" transform="rotate(-30 685.8 216.0)"/>
<rect x="696.00" y="205.00" width="10.00" height="11.00" rx="0" fill="#d6d8a0" stroke="none" stroke-width="1" opacity="0.6"/>
<ellipse cx="702.0" cy="213.2" rx="2.6" ry="2.1" fill="#a0b070" transform="rotate(-38 702.0 213.2)"/>
<ellipse cx="700.7" cy="215.4" rx="2.3" ry="2.1" fill="#b9cf6a" transform="rotate(-10 700.7 215.4)"/>
<ellipse cx="703.9" cy="209.2" rx="1.2" ry="1.1" fill="#e9e2b0" transform="rotate(-7 703.9 209.2)"/>
<ellipse cx="698.5" cy="214.5" rx="1.8" ry="1.9" fill="#b9cf6a" transform="rotate(-29 698.5 214.5)"/>
<ellipse cx="701.9" cy="206.4" rx="1.0" ry="2.0" fill="#e9e2b0" transform="rotate(22 701.9 206.4)"/>
<ellipse cx="704.7" cy="206.8" rx="1.3" ry="1.2" fill="#e9e2b0" transform="rotate(3 704.7 206.8)"/>
<ellipse cx="702.4" cy="207.3" rx="2.9" ry="1.8" fill="#e6c870" transform="rotate(-16 702.4 207.3)"/>
<ellipse cx="699.9" cy="206.8" rx="1.3" ry="0.9" fill="#6f9a4e" transform="rotate(25 699.9 206.8)"/>
<ellipse cx="701.7" cy="211.6" rx="2.4" ry="0.9" fill="#5a78a8" transform="rotate(25 701.7 211.6)"/>
<ellipse cx="700.8" cy="208.5" rx="2.0" ry="1.8" fill="#d9c45a" transform="rotate(-20 700.8 208.5)"/>
<ellipse cx="704.5" cy="215.4" rx="1.7" ry="1.4" fill="#a0b070" transform="rotate(23 704.5 215.4)"/>
<ellipse cx="699.9" cy="211.4" rx="1.0" ry="0.9" fill="#8fb35a" transform="rotate(10 699.9 211.4)"/>
<ellipse cx="704.6" cy="206.3" rx="1.5" ry="1.9" fill="#c8d8a0" transform="rotate(-12 704.6 206.3)"/>
<ellipse cx="699.8" cy="210.8" rx="2.6" ry="1.0" fill="#5a78a8" transform="rotate(29 699.8 210.8)"/>
<rect x="707.00" y="208.00" width="21.00" height="8.50" rx="0" fill="#d6d8a0" stroke="none" stroke-width="1" opacity="0.6"/>
<ellipse cx="714.2" cy="209.3" rx="2.3" ry="0.9" fill="#a0b070" transform="rotate(-32 714.2 209.3)"/>
<ellipse cx="719.1" cy="215.7" rx="1.4" ry="0.9" fill="#e6c870" transform="rotate(-34 719.1 215.7)"/>
<ellipse cx="709.7" cy="211.6" rx="2.7" ry="1.0" fill="#e9e2b0" transform="rotate(10 709.7 211.6)"/>
<ellipse cx="719.1" cy="208.5" rx="2.2" ry="0.9" fill="#e9e2b0" transform="rotate(-36 719.1 208.5)"/>
<ellipse cx="724.3" cy="210.5" rx="1.3" ry="1.0" fill="#6f9a4e" transform="rotate(5 724.3 210.5)"/>
<ellipse cx="721.0" cy="208.9" rx="2.1" ry="1.1" fill="#b9cf6a" transform="rotate(4 721.0 208.9)"/>
<ellipse cx="709.2" cy="208.5" rx="1.4" ry="1.8" fill="#e6c870" transform="rotate(22 709.2 208.5)"/>
<ellipse cx="716.8" cy="215.8" rx="1.7" ry="1.1" fill="#8fb35a" transform="rotate(16 716.8 215.8)"/>
<ellipse cx="712.6" cy="212.9" rx="2.1" ry="2.0" fill="#c8d8a0" transform="rotate(-17 712.6 212.9)"/>
<ellipse cx="726.6" cy="209.0" rx="1.8" ry="1.9" fill="#8fb35a" transform="rotate(35 726.6 209.0)"/>
<ellipse cx="716.0" cy="216.2" rx="1.2" ry="1.6" fill="#5a78a8" transform="rotate(-13 716.0 216.2)"/>
<ellipse cx="714.7" cy="212.2" rx="2.6" ry="0.9" fill="#b9cf6a" transform="rotate(36 714.7 212.2)"/>
<ellipse cx="717.0" cy="213.6" rx="1.1" ry="1.8" fill="#c8d8a0" transform="rotate(-17 717.0 213.6)"/>
<ellipse cx="715.3" cy="213.7" rx="1.0" ry="1.4" fill="#8fb35a" transform="rotate(9 715.3 213.7)"/>
<ellipse cx="717.4" cy="209.9" rx="1.6" ry="1.8" fill="#e6c870" transform="rotate(-9 717.4 209.9)"/>
<ellipse cx="724.6" cy="208.7" rx="1.9" ry="1.6" fill="#8fb35a" transform="rotate(26 724.6 208.7)"/>
<ellipse cx="724.4" cy="210.4" rx="1.8" ry="1.3" fill="#e6c870" transform="rotate(37 724.4 210.4)"/>
<ellipse cx="710.9" cy="209.5" rx="1.5" ry="1.1" fill="#c8d8a0" transform="rotate(26 710.9 209.5)"/>
<ellipse cx="711.5" cy="210.4" rx="1.3" ry="1.5" fill="#5a78a8" transform="rotate(36 711.5 210.4)"/>
<ellipse cx="721.1" cy="212.4" rx="2.2" ry="1.7" fill="#d9c45a" transform="rotate(-3 721.1 212.4)"/>
<ellipse cx="724.5" cy="216.1" rx="2.4" ry="1.6" fill="#e6c870" transform="rotate(-8 724.5 216.1)"/>
<ellipse cx="710.0" cy="213.4" rx="1.1" ry="0.9" fill="#e9e2b0" transform="rotate(-5 710.0 213.4)"/>
<ellipse cx="710.1" cy="213.1" rx="1.2" ry="1.6" fill="#a0b070" transform="rotate(-32 710.1 213.1)"/>
<ellipse cx="714.9" cy="208.2" rx="2.7" ry="1.7" fill="#8fb35a" transform="rotate(11 714.9 208.2)"/>
<rect x="729.00" y="207.00" width="9.00" height="10.50" rx="0" fill="#d6d8a0" stroke="none" stroke-width="1" opacity="0.6"/>
<ellipse cx="733.2" cy="210.9" rx="1.3" ry="2.0" fill="#d9c45a" transform="rotate(-13 733.2 210.9)"/>
<ellipse cx="733.2" cy="213.3" rx="1.7" ry="2.1" fill="#d9c45a" transform="rotate(18 733.2 213.3)"/>
<ellipse cx="731.2" cy="216.9" rx="2.9" ry="1.4" fill="#8fb35a" transform="rotate(-21 731.2 216.9)"/>
<ellipse cx="730.8" cy="212.3" rx="2.8" ry="1.6" fill="#e6c870" transform="rotate(23 730.8 212.3)"/>
<ellipse cx="736.2" cy="216.6" rx="1.4" ry="1.1" fill="#e6c870" transform="rotate(31 736.2 216.6)"/>
<ellipse cx="735.4" cy="216.6" rx="1.8" ry="1.3" fill="#d9c45a" transform="rotate(-24 735.4 216.6)"/>
<ellipse cx="736.2" cy="216.2" rx="1.1" ry="1.3" fill="#c8d8a0" transform="rotate(-29 736.2 216.2)"/>
<ellipse cx="731.7" cy="214.7" rx="2.7" ry="2.1" fill="#d9c45a" transform="rotate(-30 731.7 214.7)"/>
<ellipse cx="734.1" cy="216.4" rx="1.4" ry="0.8" fill="#b9cf6a" transform="rotate(-29 734.1 216.4)"/>
<ellipse cx="736.4" cy="212.3" rx="2.1" ry="1.6" fill="#e9e2b0" transform="rotate(-6 736.4 212.3)"/>
<ellipse cx="732.8" cy="213.7" rx="1.2" ry="1.6" fill="#8fb35a" transform="rotate(35 732.8 213.7)"/>
<ellipse cx="735.0" cy="207.4" rx="1.5" ry="1.8" fill="#8fb35a" transform="rotate(20 735.0 207.4)"/>
<rect x="688.50" y="211.00" width="6.50" height="5.00" rx="0" fill="none" stroke="#d02020" stroke-width="0.8"/>
<rect x="686.50" y="220.50" width="1.20" height="1.30" rx="0" fill="#e05050" stroke="none" stroke-width="1"/>
<rect x="718.00" y="220.50" width="1.20" height="1.30" rx="0" fill="#e05050" stroke="none" stroke-width="1"/>
<rect x="673.80" y="235.30" width="67.60" height="46.00" rx="0" fill="#dfe9dc" stroke="#4a5a4a" stroke-width="1"/>
<rect x="683.80" y="242.50" width="46.10" height="8.60" rx="0" fill="#6c4b68" stroke="none" stroke-width="1"/>
<rect x="686.00" y="246.50" width="9.00" height="0.70" rx="0" fill="#b8a8b8" stroke="none" stroke-width="1"/>
<rect x="718.00" y="246.50" width="10.00" height="0.70" rx="0" fill="#b8a8b8" stroke="none" stroke-width="1"/>
<ellipse cx="679.5" cy="246.5" rx="3" ry="3.5" fill="#7a7a8a"/>
<ellipse cx="735.5" cy="247.5" rx="3.5" ry="2" fill="#6a6a6a"/>
<rect x="675.50" y="258.00" width="8.50" height="12.00" rx="0" fill="#d6d8a0" stroke="none" stroke-width="1" opacity="0.6"/>
<ellipse cx="679.4" cy="264.7" rx="2.8" ry="1.5" fill="#a0b070" transform="rotate(28 679.4 264.7)"/>
<ellipse cx="677.7" cy="267.6" rx="2.0" ry="1.7" fill="#8fb35a" transform="rotate(-32 677.7 267.6)"/>
<ellipse cx="678.5" cy="259.1" rx="2.6" ry="1.8" fill="#d9c45a" transform="rotate(8 678.5 259.1)"/>
<ellipse cx="679.1" cy="263.4" rx="2.5" ry="1.7" fill="#d9c45a" transform="rotate(27 679.1 263.4)"/>
<ellipse cx="676.9" cy="258.4" rx="2.8" ry="1.6" fill="#c8d8a0" transform="rotate(-14 676.9 258.4)"/>
<ellipse cx="680.3" cy="260.3" rx="1.5" ry="1.2" fill="#d9c45a" transform="rotate(13 680.3 260.3)"/>
<ellipse cx="679.5" cy="261.3" rx="3.0" ry="2.2" fill="#b9cf6a" transform="rotate(17 679.5 261.3)"/>
<ellipse cx="678.5" cy="260.8" rx="1.6" ry="0.9" fill="#b9cf6a" transform="rotate(-8 678.5 260.8)"/>
<ellipse cx="682.0" cy="262.6" rx="2.9" ry="2.0" fill="#d9c45a" transform="rotate(-23 682.0 262.6)"/>
<ellipse cx="682.5" cy="258.6" rx="1.8" ry="1.8" fill="#e6c870" transform="rotate(-34 682.5 258.6)"/>
<ellipse cx="680.6" cy="267.3" rx="1.5" ry="0.9" fill="#5a78a8" transform="rotate(-39 680.6 267.3)"/>
<ellipse cx="679.2" cy="269.1" rx="1.3" ry="1.8" fill="#d9c45a" transform="rotate(-35 679.2 269.1)"/>
<ellipse cx="681.7" cy="260.1" rx="2.1" ry="1.4" fill="#e9e2b0" transform="rotate(39 681.7 260.1)"/>
<rect x="691.00" y="257.00" width="14.00" height="13.00" rx="0" fill="#d6d8a0" stroke="none" stroke-width="1" opacity="0.6"/>
<ellipse cx="695.1" cy="265.9" rx="2.4" ry="2.0" fill="#8fb35a" transform="rotate(12 695.1 265.9)"/>
<ellipse cx="700.0" cy="268.3" rx="2.3" ry="1.1" fill="#b9cf6a" transform="rotate(3 700.0 268.3)"/>
<ellipse cx="694.6" cy="260.8" rx="1.9" ry="2.0" fill="#d9c45a" transform="rotate(39 694.6 260.8)"/>
<ellipse cx="702.0" cy="258.1" rx="2.6" ry="2.0" fill="#6f9a4e" transform="rotate(26 702.0 258.1)"/>
<ellipse cx="700.9" cy="269.3" rx="2.6" ry="1.2" fill="#e9e2b0" transform="rotate(-1 700.9 269.3)"/>
<ellipse cx="701.1" cy="264.3" rx="1.9" ry="1.3" fill="#e6c870" transform="rotate(11 701.1 264.3)"/>
<ellipse cx="699.9" cy="261.5" rx="2.2" ry="1.7" fill="#6f9a4e" transform="rotate(15 699.9 261.5)"/>
<ellipse cx="698.7" cy="266.7" rx="1.3" ry="1.7" fill="#c8d8a0" transform="rotate(3 698.7 266.7)"/>
<ellipse cx="695.5" cy="259.3" rx="1.7" ry="1.3" fill="#6f9a4e" transform="rotate(8 695.5 259.3)"/>
<ellipse cx="696.7" cy="258.7" rx="2.0" ry="1.1" fill="#e9e2b0" transform="rotate(31 696.7 258.7)"/>
<ellipse cx="700.4" cy="258.7" rx="1.9" ry="1.7" fill="#c8d8a0" transform="rotate(-9 700.4 258.7)"/>
<ellipse cx="700.6" cy="269.1" rx="1.1" ry="1.0" fill="#c8d8a0" transform="rotate(11 700.6 269.1)"/>
<ellipse cx="693.9" cy="262.4" rx="2.7" ry="2.0" fill="#5a78a8" transform="rotate(-24 693.9 262.4)"/>
<ellipse cx="702.2" cy="261.9" rx="2.4" ry="1.0" fill="#e9e2b0" transform="rotate(18 702.2 261.9)"/>
<ellipse cx="694.5" cy="265.0" rx="2.2" ry="1.6" fill="#5a78a8" transform="rotate(7 694.5 265.0)"/>
<ellipse cx="698.8" cy="259.4" rx="1.4" ry="1.9" fill="#a0b070" transform="rotate(-31 698.8 259.4)"/>
<ellipse cx="694.7" cy="257.9" rx="2.3" ry="1.6" fill="#a0b070" transform="rotate(16 694.7 257.9)"/>
<ellipse cx="703.7" cy="267.7" rx="2.3" ry="1.5" fill="#8fb35a" transform="rotate(40 703.7 267.7)"/>
<ellipse cx="693.5" cy="260.9" rx="1.5" ry="1.6" fill="#b9cf6a" transform="rotate(35 693.5 260.9)"/>
<ellipse cx="698.3" cy="268.1" rx="1.1" ry="1.2" fill="#8fb35a" transform="rotate(-0 698.3 268.1)"/>
<ellipse cx="703.6" cy="263.7" rx="1.9" ry="1.7" fill="#6f9a4e" transform="rotate(24 703.6 263.7)"/>
<ellipse cx="696.5" cy="266.3" rx="1.3" ry="1.0" fill="#e6c870" transform="rotate(15 696.5 266.3)"/>
<ellipse cx="702.2" cy="260.4" rx="2.2" ry="1.3" fill="#e9e2b0" transform="rotate(7 702.2 260.4)"/>
<rect x="707.50" y="262.50" width="9.50" height="7.00" rx="0" fill="#d6d8a0" stroke="none" stroke-width="1" opacity="0.6"/>
<ellipse cx="715.7" cy="262.6" rx="2.5" ry="1.0" fill="#e9e2b0" transform="rotate(-39 715.7 262.6)"/>
<ellipse cx="715.1" cy="267.3" rx="2.7" ry="2.2" fill="#e9e2b0" transform="rotate(-31 715.1 267.3)"/>
<ellipse cx="712.0" cy="265.0" rx="1.8" ry="1.3" fill="#e9e2b0" transform="rotate(30 712.0 265.0)"/>
<ellipse cx="714.5" cy="264.1" rx="2.8" ry="1.5" fill="#e9e2b0" transform="rotate(6 714.5 264.1)"/>
<ellipse cx="714.8" cy="265.9" rx="1.9" ry="1.9" fill="#c8d8a0" transform="rotate(6 714.8 265.9)"/>
<ellipse cx="715.5" cy="267.0" rx="1.8" ry="2.0" fill="#b9cf6a" transform="rotate(-1 715.5 267.0)"/>
<ellipse cx="715.6" cy="262.6" rx="1.3" ry="1.0" fill="#d9c45a" transform="rotate(-17 715.6 262.6)"/>
<ellipse cx="712.2" cy="268.7" rx="1.2" ry="1.0" fill="#d9c45a" transform="rotate(-34 712.2 268.7)"/>
<ellipse cx="713.9" cy="269.0" rx="1.6" ry="2.1" fill="#e9e2b0" transform="rotate(-26 713.9 269.0)"/>
<rect x="722.00" y="260.50" width="16.00" height="9.50" rx="0" fill="#d6d8a0" stroke="none" stroke-width="1" opacity="0.6"/>
<ellipse cx="730.3" cy="268.2" rx="2.9" ry="1.2" fill="#a0b070" transform="rotate(13 730.3 268.2)"/>
<ellipse cx="724.5" cy="260.8" rx="1.8" ry="1.8" fill="#6f9a4e" transform="rotate(29 724.5 260.8)"/>
<ellipse cx="734.2" cy="266.6" rx="2.4" ry="1.8" fill="#8fb35a" transform="rotate(40 734.2 266.6)"/>
<ellipse cx="723.9" cy="268.2" rx="2.8" ry="1.0" fill="#a0b070" transform="rotate(5 723.9 268.2)"/>
<ellipse cx="736.4" cy="262.5" rx="2.1" ry="2.0" fill="#b9cf6a" transform="rotate(-15 736.4 262.5)"/>
<ellipse cx="724.1" cy="269.4" rx="1.9" ry="2.2" fill="#8fb35a" transform="rotate(15 724.1 269.4)"/>
<ellipse cx="728.7" cy="265.3" rx="1.7" ry="1.4" fill="#d9c45a" transform="rotate(32 728.7 265.3)"/>
<ellipse cx="733.3" cy="261.0" rx="2.0" ry="1.6" fill="#d9c45a" transform="rotate(29 733.3 261.0)"/>
<ellipse cx="726.3" cy="265.8" rx="2.9" ry="1.5" fill="#5a78a8" transform="rotate(-35 726.3 265.8)"/>
<ellipse cx="723.9" cy="263.1" rx="2.5" ry="2.0" fill="#a0b070" transform="rotate(4 723.9 263.1)"/>
<ellipse cx="724.8" cy="266.8" rx="2.8" ry="1.2" fill="#5a78a8" transform="rotate(-32 724.8 266.8)"/>
<ellipse cx="731.0" cy="267.9" rx="1.7" ry="0.9" fill="#5a78a8" transform="rotate(-38 731.0 267.9)"/>
<ellipse cx="733.4" cy="265.0" rx="1.1" ry="1.1" fill="#6f9a4e" transform="rotate(-34 733.4 265.0)"/>
<ellipse cx="736.8" cy="269.1" rx="1.0" ry="1.6" fill="#8fb35a" transform="rotate(-8 736.8 269.1)"/>
<ellipse cx="733.2" cy="269.6" rx="2.2" ry="1.3" fill="#e9e2b0" transform="rotate(40 733.2 269.6)"/>
<ellipse cx="736.5" cy="266.9" rx="2.8" ry="0.9" fill="#a0b070" transform="rotate(-16 736.5 266.9)"/>
<ellipse cx="735.5" cy="263.5" rx="1.6" ry="1.0" fill="#e6c870" transform="rotate(-33 735.5 263.5)"/>
<ellipse cx="733.8" cy="268.5" rx="2.3" ry="1.4" fill="#b9cf6a" transform="rotate(3 733.8 268.5)"/>
<ellipse cx="730.6" cy="269.8" rx="1.4" ry="2.1" fill="#8fb35a" transform="rotate(24 730.6 269.8)"/>
<ellipse cx="723.7" cy="268.9" rx="2.2" ry="2.0" fill="#e9e2b0" transform="rotate(4 723.7 268.9)"/>
<rect x="675.50" y="275.20" width="63.50" height="1.00" rx="0" fill="#b8b0c8" stroke="none" stroke-width="1"/>
<circle cx="698" cy="275.6" r="1.2" fill="#4ab080"/>
<circle cx="731" cy="275.6" r="1.2" fill="#4ab080"/>
<rect x="668.80" y="319.80" width="117.80" height="63.00" rx="3.5" fill="#272829" stroke="none" stroke-width="1"/>
<rect x="668.80" y="376.10" width="117.80" height="6.70" rx="2.5" fill="#3e4145" stroke="none" stroke-width="1"/>
<rect x="668.80" y="376.10" width="117.80" height="1.90" rx="0" fill="#3e4145" stroke="none" stroke-width="1"/>
<rect x="671.40" y="321.40" width="113.10" height="54.70" rx="0" fill="#ffffff" stroke="none" stroke-width="1"/>
<rect x="672.30" y="322.30" width="111.30" height="43.20" rx="0" fill="#050505" stroke="none" stroke-width="1"/>
<rect x="676.20" y="323.90" width="34.80" height="18.30" rx="0" fill="#ffffff" stroke="none" stroke-width="1"/>
<polyline points="679.2,332.2 680.4,333.8 681.6,332.2 682.8,333.8 684.0,332.2 685.2,333.8 686.4,332.2 687.6,333.8 688.8,332.2 690.0,333.8 691.2,332.2 692.4,333.8" fill="none" stroke="#c02a9a" stroke-width="0.8"/>
<rect x="692.90" y="329.39" width="15.10" height="7.32" rx="0" fill="#cfcfd8" stroke="none" stroke-width="1"/>
<line x1="691.86" y1="332.135" x2="707" y2="331.58599999999996" stroke="#3a3ad0" stroke-width="1"/>
<rect x="676.20" y="343.90" width="34.80" height="19.40" rx="0" fill="#ffffff" stroke="none" stroke-width="1"/>
<polyline points="679.2,353.8 680.4,355.4 681.6,353.8 682.8,355.4 684.0,353.8 685.2,355.4 686.4,353.8 687.6,355.4 688.8,353.8 690.0,355.4 691.2,353.8 692.4,355.4" fill="none" stroke="#c02a9a" stroke-width="0.8"/>
<path d="M691.86,354.57 Q700.5600000000001,349.71999999999997 708,349.71999999999997" fill="none" stroke="#8ad88a" stroke-width="0.8"/>
<rect x="714.20" y="324.70" width="20.80" height="17.50" rx="0" fill="#ffffff" stroke="none" stroke-width="1"/>
<rect x="716.20" y="326.70" width="16.80" height="1.00" rx="0" fill="#c8d8e8" stroke="none" stroke-width="1"/>
<path d="M716.2,331.7 Q724.6,336.95 733,337.825" fill="none" stroke="#a0a0d0" stroke-width="0.6"/>
<rect x="717.20" y="329.07" width="14.80" height="0.35" rx="0" fill="#d8d8d8" stroke="none" stroke-width="1"/>
<rect x="714.20" y="342.80" width="20.80" height="17.30" rx="0" fill="#ffffff" stroke="none" stroke-width="1"/>
<rect x="716.20" y="344.80" width="16.80" height="1.00" rx="0" fill="#c8d8e8" stroke="none" stroke-width="1"/>
<path d="M716.2,349.72 Q724.6,354.91 733,355.77500000000003" fill="none" stroke="#a0a0d0" stroke-width="0.6"/>
<rect x="717.20" y="347.12" width="14.80" height="0.35" rx="0" fill="#d8d8d8" stroke="none" stroke-width="1"/>
<rect x="736.00" y="330.30" width="16.90" height="26.60" rx="0" fill="#ffffff" stroke="none" stroke-width="1"/>
<rect x="738.00" y="332.30" width="12.90" height="1.00" rx="0" fill="#c8d8e8" stroke="none" stroke-width="1"/>
<path d="M738,340.94 Q744.45,348.91999999999996 750.9,350.25" fill="none" stroke="#a0a0d0" stroke-width="0.6"/>
<rect x="739.00" y="336.95" width="10.90" height="0.53" rx="0" fill="#d8d8d8" stroke="none" stroke-width="1"/>
<rect x="755.10" y="324.70" width="20.10" height="16.20" rx="0" fill="#ffffff" stroke="none" stroke-width="1"/>
<rect x="764.14" y="327.13" width="2.01" height="11.34" rx="0" fill="#3a3ad0" stroke="none" stroke-width="1"/>
<rect x="764.14" y="327.13" width="2.01" height="4.05" rx="0" fill="#d03a6a" stroke="none" stroke-width="1"/>
<rect x="755.10" y="342.20" width="21.70" height="20.10" rx="0" fill="#ffffff" stroke="none" stroke-width="1"/>
<rect x="757.10" y="344.20" width="17.70" height="1.00" rx="0" fill="#c8d8e8" stroke="none" stroke-width="1"/>
<path d="M757.1,350.24 Q765.95,356.27 774.8,357.275" fill="none" stroke="#a0a0d0" stroke-width="0.6"/>
<rect x="758.10" y="347.23" width="15.70" height="0.40" rx="0" fill="#d8d8d8" stroke="none" stroke-width="1"/>
<rect x="672.30" y="365.50" width="111.30" height="1.10" rx="0" fill="#ffffff" stroke="none" stroke-width="1"/>
<rect x="672.90" y="367.10" width="37.50" height="7.70" rx="1.2" fill="#0a0a0a" stroke="none" stroke-width="1"/>
<rect x="674.90" y="368.60" width="33.50" height="0.70" rx="0" fill="#9a9a9a" stroke="none" stroke-width="1"/>
<rect x="689.65" y="371.20" width="4.00" height="2.10" rx="0.5" fill="#e8e8e8" stroke="none" stroke-width="1"/>
<rect x="714.00" y="367.10" width="22.00" height="7.70" rx="1.2" fill="#0a0a0a" stroke="none" stroke-width="1"/>
<rect x="716.00" y="368.60" width="18.00" height="0.70" rx="0" fill="#9a9a9a" stroke="none" stroke-width="1"/>
<rect x="723.00" y="371.20" width="4.00" height="2.10" rx="0.5" fill="#e8e8e8" stroke="none" stroke-width="1"/>
<rect x="739.50" y="367.10" width="10.10" height="7.70" rx="1.2" fill="#0a0a0a" stroke="none" stroke-width="1"/>
<rect x="741.50" y="368.60" width="6.10" height="0.70" rx="0" fill="#9a9a9a" stroke="none" stroke-width="1"/>
<rect x="742.55" y="371.20" width="4.00" height="2.10" rx="0.5" fill="#e8e8e8" stroke="none" stroke-width="1"/>
<rect x="752.90" y="367.10" width="29.40" height="7.70" rx="1.2" fill="#0a0a0a" stroke="none" stroke-width="1"/>
<rect x="754.90" y="368.60" width="25.40" height="0.70" rx="0" fill="#9a9a9a" stroke="none" stroke-width="1"/>
<rect x="765.60" y="371.20" width="4.00" height="2.10" rx="0.5" fill="#e8e8e8" stroke="none" stroke-width="1"/>
<rect x="721.7" y="382.8" width="13.0" height="8.199999999999989" fill="url(#stand)"/>
<rect x="705.5" y="390.6" width="44.5" height="3.0" rx="1.5" fill="#c9c9c9"/>
<rect x="706.0" y="392.40000000000003" width="43.5" height="1.2" fill="#6f6f6f"/>
<path d="M669.6,394.3 L789,394.3 Q790.5,394.3 791.5,396.3 L793,401.5 Q793,403.5 791,403.5 L668.1,403.5 Q666.1,403.5 666.1,401.5 L668.1,396.3 Q668.6,394.3 669.6,394.3 Z" fill="#34363a"/>
<rect x="670.40" y="396.10" width="5.82" height="1.20" rx="0" fill="#5a5d62" stroke="none" stroke-width="1"/>
<rect x="676.82" y="396.10" width="5.82" height="1.20" rx="0" fill="#5a5d62" stroke="none" stroke-width="1"/>
<rect x="683.24" y="396.10" width="5.82" height="1.20" rx="0" fill="#5a5d62" stroke="none" stroke-width="1"/>
<rect x="689.67" y="396.10" width="5.82" height="1.20" rx="0" fill="#5a5d62" stroke="none" stroke-width="1"/>
<rect x="696.09" y="396.10" width="5.82" height="1.20" rx="0" fill="#5a5d62" stroke="none" stroke-width="1"/>
<rect x="702.51" y="396.10" width="5.82" height="1.20" rx="0" fill="#5a5d62" stroke="none" stroke-width="1"/>
<rect x="708.93" y="396.10" width="5.82" height="1.20" rx="0" fill="#5a5d62" stroke="none" stroke-width="1"/>
<rect x="715.35" y="396.10" width="5.82" height="1.20" rx="0" fill="#5a5d62" stroke="none" stroke-width="1"/>
<rect x="721.77" y="396.10" width="5.82" height="1.20" rx="0" fill="#5a5d62" stroke="none" stroke-width="1"/>
<rect x="728.20" y="396.10" width="5.82" height="1.20" rx="0" fill="#5a5d62" stroke="none" stroke-width="1"/>
<rect x="734.62" y="396.10" width="5.82" height="1.20" rx="0" fill="#5a5d62" stroke="none" stroke-width="1"/>
<rect x="741.04" y="396.10" width="5.82" height="1.20" rx="0" fill="#5a5d62" stroke="none" stroke-width="1"/>
<rect x="747.46" y="396.10" width="5.82" height="1.20" rx="0" fill="#5a5d62" stroke="none" stroke-width="1"/>
<rect x="753.88" y="396.10" width="5.82" height="1.20" rx="0" fill="#5a5d62" stroke="none" stroke-width="1"/>
<rect x="762.21" y="396.10" width="3.92" height="1.20" rx="0" fill="#5a5d62" stroke="none" stroke-width="1"/>
<rect x="766.72" y="396.10" width="3.92" height="1.20" rx="0" fill="#5a5d62" stroke="none" stroke-width="1"/>
<rect x="771.24" y="396.10" width="3.92" height="1.20" rx="0" fill="#5a5d62" stroke="none" stroke-width="1"/>
<rect x="775.75" y="396.10" width="3.92" height="1.20" rx="0" fill="#5a5d62" stroke="none" stroke-width="1"/>
<rect x="780.27" y="396.10" width="3.92" height="1.20" rx="0" fill="#5a5d62" stroke="none" stroke-width="1"/>
<rect x="784.78" y="396.10" width="3.92" height="1.20" rx="0" fill="#5a5d62" stroke="none" stroke-width="1"/>
<rect x="669.80" y="398.10" width="5.86" height="1.20" rx="0" fill="#5a5d62" stroke="none" stroke-width="1"/>
<rect x="676.26" y="398.10" width="5.86" height="1.20" rx="0" fill="#5a5d62" stroke="none" stroke-width="1"/>
<rect x="682.73" y="398.10" width="5.86" height="1.20" rx="0" fill="#5a5d62" stroke="none" stroke-width="1"/>
<rect x="689.19" y="398.10" width="5.86" height="1.20" rx="0" fill="#5a5d62" stroke="none" stroke-width="1"/>
<rect x="695.66" y="398.10" width="5.86" height="1.20" rx="0" fill="#5a5d62" stroke="none" stroke-width="1"/>
<rect x="702.12" y="398.10" width="5.86" height="1.20" rx="0" fill="#5a5d62" stroke="none" stroke-width="1"/>
<rect x="708.59" y="398.10" width="5.86" height="1.20" rx="0" fill="#5a5d62" stroke="none" stroke-width="1"/>
<rect x="715.05" y="398.10" width="5.86" height="1.20" rx="0" fill="#5a5d62" stroke="none" stroke-width="1"/>
<rect x="721.52" y="398.10" width="5.86" height="1.20" rx="0" fill="#5a5d62" stroke="none" stroke-width="1"/>
<rect x="727.98" y="398.10" width="5.86" height="1.20" rx="0" fill="#5a5d62" stroke="none" stroke-width="1"/>
<rect x="734.45" y="398.10" width="5.86" height="1.20" rx="0" fill="#5a5d62" stroke="none" stroke-width="1"/>
<rect x="740.91" y="398.10" width="5.86" height="1.20" rx="0" fill="#5a5d62" stroke="none" stroke-width="1"/>
<rect x="747.38" y="398.10" width="5.86" height="1.20" rx="0" fill="#5a5d62" stroke="none" stroke-width="1"/>
<rect x="753.84" y="398.10" width="5.86" height="1.20" rx="0" fill="#5a5d62" stroke="none" stroke-width="1"/>
<rect x="762.21" y="398.10" width="4.00" height="1.20" rx="0" fill="#5a5d62" stroke="none" stroke-width="1"/>
<rect x="766.81" y="398.10" width="4.00" height="1.20" rx="0" fill="#5a5d62" stroke="none" stroke-width="1"/>
<rect x="771.41" y="398.10" width="4.00" height="1.20" rx="0" fill="#5a5d62" stroke="none" stroke-width="1"/>
<rect x="776.00" y="398.10" width="4.00" height="1.20" rx="0" fill="#5a5d62" stroke="none" stroke-width="1"/>
<rect x="780.60" y="398.10" width="4.00" height="1.20" rx="0" fill="#5a5d62" stroke="none" stroke-width="1"/>
<rect x="785.20" y="398.10" width="4.00" height="1.20" rx="0" fill="#5a5d62" stroke="none" stroke-width="1"/>
<rect x="669.20" y="400.10" width="5.91" height="1.20" rx="0" fill="#5a5d62" stroke="none" stroke-width="1"/>
<rect x="675.71" y="400.10" width="5.91" height="1.20" rx="0" fill="#5a5d62" stroke="none" stroke-width="1"/>
<rect x="682.22" y="400.10" width="5.91" height="1.20" rx="0" fill="#5a5d62" stroke="none" stroke-width="1"/>
<rect x="688.72" y="400.10" width="5.91" height="1.20" rx="0" fill="#5a5d62" stroke="none" stroke-width="1"/>
<rect x="695.23" y="400.10" width="5.91" height="1.20" rx="0" fill="#5a5d62" stroke="none" stroke-width="1"/>
<rect x="701.74" y="400.10" width="5.91" height="1.20" rx="0" fill="#5a5d62" stroke="none" stroke-width="1"/>
<rect x="708.25" y="400.10" width="5.91" height="1.20" rx="0" fill="#5a5d62" stroke="none" stroke-width="1"/>
<rect x="714.75" y="400.10" width="5.91" height="1.20" rx="0" fill="#5a5d62" stroke="none" stroke-width="1"/>
<rect x="721.26" y="400.10" width="5.91" height="1.20" rx="0" fill="#5a5d62" stroke="none" stroke-width="1"/>
<rect x="727.77" y="400.10" width="5.91" height="1.20" rx="0" fill="#5a5d62" stroke="none" stroke-width="1"/>
<rect x="734.28" y="400.10" width="5.91" height="1.20" rx="0" fill="#5a5d62" stroke="none" stroke-width="1"/>
<rect x="740.78" y="400.10" width="5.91" height="1.20" rx="0" fill="#5a5d62" stroke="none" stroke-width="1"/>
<rect x="747.29" y="400.10" width="5.91" height="1.20" rx="0" fill="#5a5d62" stroke="none" stroke-width="1"/>
<rect x="753.80" y="400.10" width="5.91" height="1.20" rx="0" fill="#5a5d62" stroke="none" stroke-width="1"/>
<rect x="762.21" y="400.10" width="4.08" height="1.20" rx="0" fill="#5a5d62" stroke="none" stroke-width="1"/>
<rect x="766.89" y="400.10" width="4.08" height="1.20" rx="0" fill="#5a5d62" stroke="none" stroke-width="1"/>
<rect x="771.57" y="400.10" width="4.08" height="1.20" rx="0" fill="#5a5d62" stroke="none" stroke-width="1"/>
<rect x="776.25" y="400.10" width="4.08" height="1.20" rx="0" fill="#5a5d62" stroke="none" stroke-width="1"/>
<rect x="780.94" y="400.10" width="4.08" height="1.20" rx="0" fill="#5a5d62" stroke="none" stroke-width="1"/>
<rect x="785.62" y="400.10" width="4.08" height="1.20" rx="0" fill="#5a5d62" stroke="none" stroke-width="1"/>
<rect x="667.10" y="402.20" width="124.90" height="1.30" rx="0" fill="#151617" stroke="none" stroke-width="1"/>
<rect x="799.90" y="394.30" width="17.90" height="8.90" rx="4.00" fill="#141414"/>
<ellipse cx="807.85" cy="396.97" rx="5.37" ry="1.33" fill="#3a3a3a"/>
<rect x="668.70" y="435.40" width="117.90" height="79.20" rx="3.5" fill="#272829" stroke="none" stroke-width="1"/>
<rect x="668.70" y="511.20" width="117.90" height="3.40" rx="2" fill="#3e4145" stroke="none" stroke-width="1"/>
<rect x="672.60" y="438.40" width="111.20" height="72.80" rx="0" fill="#f0f0f0" stroke="none" stroke-width="1"/>
<rect x="673.40" y="441.20" width="109.60" height="65.50" rx="0" fill="#000000" stroke="none" stroke-width="1"/>
<rect x="712.00" y="439.20" width="33.00" height="1.10" rx="0" fill="#b0b0b0" stroke="none" stroke-width="1"/>
<rect x="673.40" y="506.70" width="109.60" height="2.20" rx="0" fill="url(#rainbow)" stroke="none" stroke-width="1"/>
<rect x="676.00" y="509.60" width="14.00" height="0.70" rx="0" fill="#999" stroke="none" stroke-width="1"/>
<rect x="718.00" y="509.60" width="20.00" height="0.70" rx="0" fill="#999" stroke="none" stroke-width="1"/>
<rect x="765.00" y="509.60" width="15.00" height="0.70" rx="0" fill="#999" stroke="none" stroke-width="1"/>
<path d="M701.1,446.3L727.9,452.5M701.1,446.3L727.9,463M701.1,446.3L727.9,474M701.1,446.3L727.9,484.3M701.1,446.3L727.9,495M701.1,450.1L727.9,452.5M701.1,450.1L727.9,463M701.1,450.1L727.9,474M701.1,450.1L727.9,484.3M701.1,450.1L727.9,495M701.1,453.9L727.9,452.5M701.1,453.9L727.9,463M701.1,453.9L727.9,474M701.1,453.9L727.9,484.3M701.1,453.9L727.9,495M701.1,457.7L727.9,452.5M701.1,457.7L727.9,463M701.1,457.7L727.9,474M701.1,457.7L727.9,484.3M701.1,457.7L727.9,495M701.1,461.5L727.9,452.5M701.1,461.5L727.9,463M701.1,461.5L727.9,474M701.1,461.5L727.9,484.3M701.1,461.5L727.9,495M701.1,465.3L727.9,452.5M701.1,465.3L727.9,463M701.1,465.3L727.9,474M701.1,465.3L727.9,484.3M701.1,465.3L727.9,495M701.1,469.1L727.9,452.5M701.1,469.1L727.9,463M701.1,469.1L727.9,474M701.1,469.1L727.9,484.3M701.1,469.1L727.9,495M701.1,472.9L727.9,452.5M701.1,472.9L727.9,463M701.1,472.9L727.9,474M701.1,472.9L727.9,484.3M701.1,472.9L727.9,495M701.1,476.7L727.9,452.5M701.1,476.7L727.9,463M701.1,476.7L727.9,474M701.1,476.7L727.9,484.3M701.1,476.7L727.9,495M701.1,480.5L727.9,452.5M701.1,480.5L727.9,463M701.1,480.5L727.9,474M701.1,480.5L727.9,484.3M701.1,480.5L727.9,495M701.1,484.3L727.9,452.5M701.1,484.3L727.9,463M701.1,484.3L727.9,474M701.1,484.3L727.9,484.3M701.1,484.3L727.9,495M701.1,488.1L727.9,452.5M701.1,488.1L727.9,463M701.1,488.1L727.9,474M701.1,488.1L727.9,484.3M701.1,488.1L727.9,495M701.1,491.9L727.9,452.5M701.1,491.9L727.9,463M701.1,491.9L727.9,474M701.1,491.9L727.9,484.3M701.1,491.9L727.9,495M701.1,495.7L727.9,452.5M701.1,495.7L727.9,463M701.1,495.7L727.9,474M701.1,495.7L727.9,484.3M701.1,495.7L727.9,495M701.1,499.5L727.9,452.5M701.1,499.5L727.9,463M701.1,499.5L727.9,474M701.1,499.5L727.9,484.3M701.1,499.5L727.9,495M701.1,503.3L727.9,452.5M701.1,503.3L727.9,463M701.1,503.3L727.9,474M701.1,503.3L727.9,484.3M701.1,503.3L727.9,495" stroke="#1fb83a" stroke-width="0.35" fill="none" opacity="0.85"/>
<path d="M727.9,452.5L755.6,474.3M727.9,463L755.6,474.3M727.9,474L755.6,474.3M727.9,484.3L755.6,474.3M727.9,495L755.6,474.3" stroke="#3a9a3a" stroke-width="0.4" fill="none"/>
<circle cx="701.1" cy="446.3" r="0.7" fill="#3a5ad0"/>
<rect x="684.00" y="445.90" width="15.50" height="0.70" rx="0" fill="#8a8a8a" stroke="none" stroke-width="1"/>
<circle cx="701.1" cy="450.1" r="0.7" fill="#3a5ad0"/>
<rect x="685.00" y="449.70" width="12.50" height="0.70" rx="0" fill="#8a8a8a" stroke="none" stroke-width="1"/>
<circle cx="701.1" cy="453.9" r="0.7" fill="#3a5ad0"/>
<rect x="684.00" y="453.50" width="11.50" height="0.70" rx="0" fill="#8a8a8a" stroke="none" stroke-width="1"/>
<circle cx="701.1" cy="457.7" r="0.7" fill="#3a5ad0"/>
<rect x="685.00" y="457.30" width="14.50" height="0.70" rx="0" fill="#8a8a8a" stroke="none" stroke-width="1"/>
<circle cx="701.1" cy="461.5" r="0.7" fill="#3a5ad0"/>
<rect x="684.00" y="461.10" width="13.50" height="0.70" rx="0" fill="#8a8a8a" stroke="none" stroke-width="1"/>
<circle cx="701.1" cy="465.3" r="0.7" fill="#3a5ad0"/>
<rect x="685.00" y="464.90" width="10.50" height="0.70" rx="0" fill="#8a8a8a" stroke="none" stroke-width="1"/>
<circle cx="701.1" cy="469.1" r="0.7" fill="#3a5ad0"/>
<rect x="684.00" y="468.70" width="15.50" height="0.70" rx="0" fill="#8a8a8a" stroke="none" stroke-width="1"/>
<circle cx="701.1" cy="472.9" r="0.7" fill="#3a5ad0"/>
<rect x="685.00" y="472.50" width="12.50" height="0.70" rx="0" fill="#8a8a8a" stroke="none" stroke-width="1"/>
<circle cx="701.1" cy="476.7" r="0.7" fill="#3a5ad0"/>
<rect x="684.00" y="476.30" width="11.50" height="0.70" rx="0" fill="#8a8a8a" stroke="none" stroke-width="1"/>
<circle cx="701.1" cy="480.5" r="0.7" fill="#3a5ad0"/>
<rect x="685.00" y="480.10" width="14.50" height="0.70" rx="0" fill="#8a8a8a" stroke="none" stroke-width="1"/>
<circle cx="701.1" cy="484.3" r="0.7" fill="#3a5ad0"/>
<rect x="684.00" y="483.90" width="13.50" height="0.70" rx="0" fill="#8a8a8a" stroke="none" stroke-width="1"/>
<circle cx="701.1" cy="488.1" r="0.7" fill="#3a5ad0"/>
<rect x="685.00" y="487.70" width="10.50" height="0.70" rx="0" fill="#8a8a8a" stroke="none" stroke-width="1"/>
<circle cx="701.1" cy="491.9" r="0.7" fill="#3a5ad0"/>
<rect x="684.00" y="491.50" width="15.50" height="0.70" rx="0" fill="#8a8a8a" stroke="none" stroke-width="1"/>
<circle cx="701.1" cy="495.7" r="0.7" fill="#3a5ad0"/>
<rect x="685.00" y="495.30" width="12.50" height="0.70" rx="0" fill="#8a8a8a" stroke="none" stroke-width="1"/>
<circle cx="701.1" cy="499.5" r="0.7" fill="#3a5ad0"/>
<rect x="684.00" y="499.10" width="11.50" height="0.70" rx="0" fill="#8a8a8a" stroke="none" stroke-width="1"/>
<circle cx="701.1" cy="503.3" r="0.7" fill="#3a5ad0"/>
<rect x="685.00" y="502.90" width="14.50" height="0.70" rx="0" fill="#8a8a8a" stroke="none" stroke-width="1"/>
<circle cx="727.9" cy="452.5" r="0.9" fill="#d03a2a"/>
<circle cx="727.9" cy="463" r="0.9" fill="#d03a2a"/>
<circle cx="727.9" cy="474" r="0.9" fill="#d03a2a"/>
<circle cx="727.9" cy="484.3" r="0.9" fill="#d03a2a"/>
<circle cx="727.9" cy="495" r="0.9" fill="#d03a2a"/>
<circle cx="755.6" cy="474.3" r="1" fill="#40d040"/>
<rect x="764.00" y="473.90" width="15.00" height="0.70" rx="0" fill="#8a8a8a" stroke="none" stroke-width="1"/>
<rect x="721.7" y="514.6" width="13.0" height="10.399999999999977" fill="url(#stand)"/>
<rect x="705.5" y="524.6" width="44.5" height="3.1000000000000227" rx="1.5" fill="#c9c9c9"/>
<rect x="706.0" y="526.5" width="43.5" height="1.2" fill="#6f6f6f"/>
<path d="M669.6,529.1 L789,529.1 Q790.5,529.1 791.5,531.1 L793,538.4 Q793,540.4 791,540.4 L668.1,540.4 Q666.1,540.4 666.1,538.4 L668.1,531.1 Q668.6,529.1 669.6,529.1 Z" fill="#34363a"/>
<rect x="670.40" y="530.90" width="5.82" height="1.90" rx="0" fill="#5a5d62" stroke="none" stroke-width="1"/>
<rect x="676.82" y="530.90" width="5.82" height="1.90" rx="0" fill="#5a5d62" stroke="none" stroke-width="1"/>
<rect x="683.24" y="530.90" width="5.82" height="1.90" rx="0" fill="#5a5d62" stroke="none" stroke-width="1"/>
<rect x="689.67" y="530.90" width="5.82" height="1.90" rx="0" fill="#5a5d62" stroke="none" stroke-width="1"/>
<rect x="696.09" y="530.90" width="5.82" height="1.90" rx="0" fill="#5a5d62" stroke="none" stroke-width="1"/>
<rect x="702.51" y="530.90" width="5.82" height="1.90" rx="0" fill="#5a5d62" stroke="none" stroke-width="1"/>
<rect x="708.93" y="530.90" width="5.82" height="1.90" rx="0" fill="#5a5d62" stroke="none" stroke-width="1"/>
<rect x="715.35" y="530.90" width="5.82" height="1.90" rx="0" fill="#5a5d62" stroke="none" stroke-width="1"/>
<rect x="721.77" y="530.90" width="5.82" height="1.90" rx="0" fill="#5a5d62" stroke="none" stroke-width="1"/>
<rect x="728.20" y="530.90" width="5.82" height="1.90" rx="0" fill="#5a5d62" stroke="none" stroke-width="1"/>
<rect x="734.62" y="530.90" width="5.82" height="1.90" rx="0" fill="#5a5d62" stroke="none" stroke-width="1"/>
<rect x="741.04" y="530.90" width="5.82" height="1.90" rx="0" fill="#5a5d62" stroke="none" stroke-width="1"/>
<rect x="747.46" y="530.90" width="5.82" height="1.90" rx="0" fill="#5a5d62" stroke="none" stroke-width="1"/>
<rect x="753.88" y="530.90" width="5.82" height="1.90" rx="0" fill="#5a5d62" stroke="none" stroke-width="1"/>
<rect x="762.21" y="530.90" width="3.92" height="1.90" rx="0" fill="#5a5d62" stroke="none" stroke-width="1"/>
<rect x="766.72" y="530.90" width="3.92" height="1.90" rx="0" fill="#5a5d62" stroke="none" stroke-width="1"/>
<rect x="771.24" y="530.90" width="3.92" height="1.90" rx="0" fill="#5a5d62" stroke="none" stroke-width="1"/>
<rect x="775.75" y="530.90" width="3.92" height="1.90" rx="0" fill="#5a5d62" stroke="none" stroke-width="1"/>
<rect x="780.27" y="530.90" width="3.92" height="1.90" rx="0" fill="#5a5d62" stroke="none" stroke-width="1"/>
<rect x="784.78" y="530.90" width="3.92" height="1.90" rx="0" fill="#5a5d62" stroke="none" stroke-width="1"/>
<rect x="669.80" y="533.60" width="5.86" height="1.90" rx="0" fill="#5a5d62" stroke="none" stroke-width="1"/>
<rect x="676.26" y="533.60" width="5.86" height="1.90" rx="0" fill="#5a5d62" stroke="none" stroke-width="1"/>
<rect x="682.73" y="533.60" width="5.86" height="1.90" rx="0" fill="#5a5d62" stroke="none" stroke-width="1"/>
<rect x="689.19" y="533.60" width="5.86" height="1.90" rx="0" fill="#5a5d62" stroke="none" stroke-width="1"/>
<rect x="695.66" y="533.60" width="5.86" height="1.90" rx="0" fill="#5a5d62" stroke="none" stroke-width="1"/>
<rect x="702.12" y="533.60" width="5.86" height="1.90" rx="0" fill="#5a5d62" stroke="none" stroke-width="1"/>
<rect x="708.59" y="533.60" width="5.86" height="1.90" rx="0" fill="#5a5d62" stroke="none" stroke-width="1"/>
<rect x="715.05" y="533.60" width="5.86" height="1.90" rx="0" fill="#5a5d62" stroke="none" stroke-width="1"/>
<rect x="721.52" y="533.60" width="5.86" height="1.90" rx="0" fill="#5a5d62" stroke="none" stroke-width="1"/>
<rect x="727.98" y="533.60" width="5.86" height="1.90" rx="0" fill="#5a5d62" stroke="none" stroke-width="1"/>
<rect x="734.45" y="533.60" width="5.86" height="1.90" rx="0" fill="#5a5d62" stroke="none" stroke-width="1"/>
<rect x="740.91" y="533.60" width="5.86" height="1.90" rx="0" fill="#5a5d62" stroke="none" stroke-width="1"/>
<rect x="747.38" y="533.60" width="5.86" height="1.90" rx="0" fill="#5a5d62" stroke="none" stroke-width="1"/>
<rect x="753.84" y="533.60" width="5.86" height="1.90" rx="0" fill="#5a5d62" stroke="none" stroke-width="1"/>
<rect x="762.21" y="533.60" width="4.00" height="1.90" rx="0" fill="#5a5d62" stroke="none" stroke-width="1"/>
<rect x="766.81" y="533.60" width="4.00" height="1.90" rx="0" fill="#5a5d62" stroke="none" stroke-width="1"/>
<rect x="771.41" y="533.60" width="4.00" height="1.90" rx="0" fill="#5a5d62" stroke="none" stroke-width="1"/>
<rect x="776.00" y="533.60" width="4.00" height="1.90" rx="0" fill="#5a5d62" stroke="none" stroke-width="1"/>
<rect x="780.60" y="533.60" width="4.00" height="1.90" rx="0" fill="#5a5d62" stroke="none" stroke-width="1"/>
<rect x="785.20" y="533.60" width="4.00" height="1.90" rx="0" fill="#5a5d62" stroke="none" stroke-width="1"/>
<rect x="669.20" y="536.30" width="5.91" height="1.90" rx="0" fill="#5a5d62" stroke="none" stroke-width="1"/>
<rect x="675.71" y="536.30" width="5.91" height="1.90" rx="0" fill="#5a5d62" stroke="none" stroke-width="1"/>
<rect x="682.22" y="536.30" width="5.91" height="1.90" rx="0" fill="#5a5d62" stroke="none" stroke-width="1"/>
<rect x="688.72" y="536.30" width="5.91" height="1.90" rx="0" fill="#5a5d62" stroke="none" stroke-width="1"/>
<rect x="695.23" y="536.30" width="5.91" height="1.90" rx="0" fill="#5a5d62" stroke="none" stroke-width="1"/>
<rect x="701.74" y="536.30" width="5.91" height="1.90" rx="0" fill="#5a5d62" stroke="none" stroke-width="1"/>
<rect x="708.25" y="536.30" width="5.91" height="1.90" rx="0" fill="#5a5d62" stroke="none" stroke-width="1"/>
<rect x="714.75" y="536.30" width="5.91" height="1.90" rx="0" fill="#5a5d62" stroke="none" stroke-width="1"/>
<rect x="721.26" y="536.30" width="5.91" height="1.90" rx="0" fill="#5a5d62" stroke="none" stroke-width="1"/>
<rect x="727.77" y="536.30" width="5.91" height="1.90" rx="0" fill="#5a5d62" stroke="none" stroke-width="1"/>
<rect x="734.28" y="536.30" width="5.91" height="1.90" rx="0" fill="#5a5d62" stroke="none" stroke-width="1"/>
<rect x="740.78" y="536.30" width="5.91" height="1.90" rx="0" fill="#5a5d62" stroke="none" stroke-width="1"/>
<rect x="747.29" y="536.30" width="5.91" height="1.90" rx="0" fill="#5a5d62" stroke="none" stroke-width="1"/>
<rect x="753.80" y="536.30" width="5.91" height="1.90" rx="0" fill="#5a5d62" stroke="none" stroke-width="1"/>
<rect x="762.21" y="536.30" width="4.08" height="1.90" rx="0" fill="#5a5d62" stroke="none" stroke-width="1"/>
<rect x="766.89" y="536.30" width="4.08" height="1.90" rx="0" fill="#5a5d62" stroke="none" stroke-width="1"/>
<rect x="771.57" y="536.30" width="4.08" height="1.90" rx="0" fill="#5a5d62" stroke="none" stroke-width="1"/>
<rect x="776.25" y="536.30" width="4.08" height="1.90" rx="0" fill="#5a5d62" stroke="none" stroke-width="1"/>
<rect x="780.94" y="536.30" width="4.08" height="1.90" rx="0" fill="#5a5d62" stroke="none" stroke-width="1"/>
<rect x="785.62" y="536.30" width="4.08" height="1.90" rx="0" fill="#5a5d62" stroke="none" stroke-width="1"/>
<rect x="667.10" y="539.10" width="124.90" height="1.30" rx="0" fill="#151617" stroke="none" stroke-width="1"/>
<rect x="800.40" y="528.80" width="17.80" height="11.60" rx="5.22" fill="#141414"/>
<ellipse cx="808.30" cy="532.28" rx="5.34" ry="1.74" fill="#3a3a3a"/>
<text x="689.3" y="187.2" font-size="6.2" font-weight="bold" fill="#d42a2a" textLength="32.7" lengthAdjust="spacingAndGlyphs" font-family="Liberation Serif">Есть объекта</text>
<text x="691.5" y="239.9" font-size="6.4" font-weight="bold" fill="#2aa860" textLength="35.5" lengthAdjust="spacingAndGlyphs" font-family="Liberation Serif">Нет объекта</text>
<text x="106.3" y="484.1" font-family="Liberation Serif" font-weight="bold" font-size="9.6" fill="#ffffff" textLength="20.8" lengthAdjust="spacingAndGlyphs">ФТС</text>
<text x="124.7" y="24.7" font-size="23.7" font-weight="bold" textLength="795" lengthAdjust="spacingAndGlyphs">Модель цифровизации таможенных услуг и таможенного контроля</text>
<text x="18.2" y="109.1" font-size="14.3" font-weight="bold" textLength="301.5" lengthAdjust="spacingAndGlyphs">Внедрение новых цифровых таможенных</text>
<text x="149.7" y="126.6" font-size="14.3" font-weight="bold" textLength="38" lengthAdjust="spacingAndGlyphs">услуг</text>
<text x="57.7" y="152.8" font-size="12" font-weight="bold" textLength="213" lengthAdjust="spacingAndGlyphs">Личный кабинет физического лица</text>
<text x="102.6" y="166.8" font-size="12" font-weight="bold" textLength="126.4" lengthAdjust="spacingAndGlyphs">на сайте ФТС России</text>
<text x="0" y="0" font-size="10" fill="#383838" transform="translate(155.8 189.2) scale(0.934 1)">- оплата пошлин (авто-платеж);</text>
<text x="0" y="0" font-size="10" fill="#383838" transform="translate(159.2 205.5) scale(0.934 1)">- скидка при оплате картой "Мир";</text>
<text x="0" y="0" font-size="10" fill="#383838" transform="translate(157.8 221.9) scale(0.934 1)">- премиум доступ со скидкой;</text>
<text x="0" y="0" font-size="10" fill="#383838" transform="translate(157.8 238.4) scale(0.934 1)">- бесплатные Push уведомления;</text>
<text x="0" y="0" font-size="10" fill="#383838" transform="translate(158.2 254.8) scale(0.934 1)">- интеграция с Госуслугами;</text>
<text x="0" y="0" font-size="10" fill="#383838" transform="translate(187.0 283.2) scale(0.934 1)">- графическая аналитика.</text>
<text x="46.6" y="325.8" font-size="12" font-weight="bold" textLength="250" lengthAdjust="spacingAndGlyphs">Мобильное приложение ФТС России  для</text>
<text x="117.0" y="338.6" font-size="12" font-weight="bold" textLength="109.4" lengthAdjust="spacingAndGlyphs">физического лица</text>
<text x="0" y="0" font-size="10" fill="#383838" transform="translate(144.1 356.9) scale(0.934 1)">- аналитика по выбранному товару;</text>
<text x="0" y="0" font-size="10" fill="#383838" transform="translate(144.8 373.2) scale(0.934 1)">- расчет пошлины на товар;</text>
<text x="0" y="0" font-size="10" fill="#383838" transform="translate(142.6 390.2) scale(0.934 1)">- динамика стоимости товара;</text>
<text x="0" y="0" font-size="10" fill="#383838" transform="translate(143.0 406.8) scale(0.934 1)">- скидки на комплексные услуги;</text>
<text x="0" y="0" font-size="10" fill="#383838" transform="translate(145.4 423.3) scale(0.934 1)">- связь с крупными on-line магазинами;</text>
<text x="0" y="0" font-size="10" fill="#383838" transform="translate(145.4 439.8) scale(0.934 1)">- on-line чат с представит. ФТС России;</text>
<text x="0" y="0" font-size="10" fill="#383838" transform="translate(146.0 456.4) scale(0.934 1)">- связь с личным кабинетом;</text>
<text x="0" y="0" font-size="10" fill="#383838" transform="translate(145.4 472.9) scale(0.934 1)">- оценка товара по запретам к ввозу;</text>
<text x="0" y="0" font-size="10" fill="#383838" transform="translate(144.1 489.6) scale(0.934 1)">- присвоение кода ТН ВЭД ЕАЭС;</text>
<text x="0" y="0" font-size="10" fill="#383838" transform="translate(144.5 506.0) scale(0.934 1)">- геолокация выбранного товара;</text>
<text x="365.9" y="64.2" font-size="14.3" font-weight="bold" textLength="253.9" lengthAdjust="spacingAndGlyphs">Национальная система управления</text>
<text x="432.9" y="80.8" font-size="14.3" font-weight="bold" textLength="119" lengthAdjust="spacingAndGlyphs">данными (НСУД)</text>
<text x="408.8" y="100.8" font-size="7.7" font-weight="bold" textLength="166.6" lengthAdjust="spacingAndGlyphs">Система управления данными ФТС России</text>
<text x="370.8" y="125" font-size="7.7" fill="#444" textLength="35.2" lengthAdjust="spacingAndGlyphs">АРМ ЦЭД</text>
<text x="428" y="124.2" font-size="7.7" fill="#444" textLength="34" lengthAdjust="spacingAndGlyphs">АРМ РЭТ</text>
<text x="471.3" y="124.5" font-size="7.7" fill="#444" textLength="55.5" lengthAdjust="spacingAndGlyphs">АРМ РТУ / ТНП</text>
<text x="535.3" y="124.8" font-size="7.7" fill="#444" textLength="33.7" lengthAdjust="spacingAndGlyphs">АРМ ТФК</text>
<text x="586.5" y="124.8" font-size="7.7" fill="#444" textLength="38.5" lengthAdjust="spacingAndGlyphs">АРМ поста</text>
<text x="680.8" y="89.1" font-size="12.7" font-weight="bold" textLength="260.8" lengthAdjust="spacingAndGlyphs">Внедрение новых цифровых технологий</text>
<text x="736.4" y="103.8" font-size="12.7" font-weight="bold" textLength="153.4" lengthAdjust="spacingAndGlyphs">в таможенный контроль</text>
<text x="716.9" y="124.9" font-size="9.4" font-weight="bold" textLength="195.9" lengthAdjust="spacingAndGlyphs">Сканирование и уведомление о принятии</text>
<text x="754.1" y="135.0" font-size="9.4" font-weight="bold" textLength="121.8" lengthAdjust="spacingAndGlyphs">автоматического решения</text>
<text x="0" y="0" font-size="10" fill="#383838" transform="translate(747.3 151.4) scale(0.934 1)">- 3D скан вложения;</text>
<text x="0" y="0" font-size="10" fill="#383838" transform="translate(747.3 164.9) scale(0.934 1)">-  on-line определение вложения;</text>
<text x="0" y="0" font-size="10" fill="#383838" transform="translate(747.3 177.6) scale(0.934 1)">- предиктивный и рекомендательный анализ;</text>
<text x="0" y="0" font-size="10" fill="#383838" transform="translate(747.3 194.1) scale(0.934 1)">- автоматическая проверка стоимости вложения;</text>
<text x="0" y="0" font-size="10" fill="#383838" transform="translate(748.5 208.1) scale(0.934 1)">- автоматический анализ стоимостных норм ввоза;</text>
<text x="0" y="0" font-size="10" fill="#383838" transform="translate(747.3 223.0) scale(0.934 1)">- синхронизация с личным кабинетом физ. лица;</text>
<text x="0" y="0" font-size="10" fill="#383838" transform="translate(747.3 240.0) scale(0.934 1)">- проверка вложения на запрет к ввозу;</text>
<text x="0" y="0" font-size="10" fill="#383838" transform="translate(748.5 256.1) scale(0.934 1)">- работа с мелкими и габаритными МПО;</text>
<text x="0" y="0" font-size="10" fill="#383838" transform="translate(748.5 271.6) scale(0.934 1)">- передача данный в единую НСУД;</text>
<text x="746.6" y="301.8" font-size="9.35" font-weight="bold" textLength="136.4" lengthAdjust="spacingAndGlyphs">Цифровой двойник процесса</text>
<text x="743.2" y="311.8" font-size="9.35" font-weight="bold" textLength="143.2" lengthAdjust="spacingAndGlyphs">и предписывающая аналитика</text>
<text x="0" y="0" font-size="10" fill="#383838" transform="translate(793.2 329.2) scale(0.934 1)">- аналитика пошлин в отношении МПО;</text>
<text x="0" y="0" font-size="10" fill="#383838" transform="translate(793.7 345.5) scale(0.934 1)">- кросс-функциональные стыки;</text>
<text x="0" y="0" font-size="10" fill="#383838" transform="translate(793.2 362.0) scale(0.934 1)">- оптимизация таможенной логистики;</text>
<text x="0" y="0" font-size="10" fill="#383838" transform="translate(795.1 381.0) scale(0.934 1)">- мониторинг в реальном времени;</text>
<text x="0" y="0" font-size="10" fill="#383838" transform="translate(834.5 400.1) scale(0.934 1)">- анализ KPI по всех цепочке;</text>
<text x="754.0" y="427.4" font-size="9.35" font-weight="bold" textLength="122.4" lengthAdjust="spacingAndGlyphs">Искусственный интеллект</text>
<text x="0" y="0" font-size="8.5" fill="#383838" transform="translate(796.0 440.9) scale(0.907 1)">- предсказание результата по входным данным;</text>
<text x="0" y="0" font-size="10" fill="#383838" transform="translate(796.0 456.0) scale(0.875 1)">- исключение "человеческого" фактора;</text>
<text x="0" y="0" font-size="10" fill="#383838" transform="translate(796.0 468.7) scale(0.875 1)">- минимизация рисковых ситуаций;</text>
<text x="0" y="0" font-size="10" fill="#383838" transform="translate(796.0 482.5) scale(0.875 1)">- постоянное обучение системы;</text>
<text x="0" y="0" font-size="10" fill="#383838" transform="translate(795.3 492.9) scale(0.875 1)">- машинное обучение:</text>
<text x="0" y="0" font-size="10" fill="#383838" transform="translate(825.6 506.1) scale(0.875 1)">1) обучение с подкреплением;</text>
<text x="0" y="0" font-size="10" fill="#383838" transform="translate(825.6 517.1) scale(0.875 1)">2) ансамблевые методы;</text>
<text x="0" y="0" font-size="10" fill="#383838" transform="translate(825.0 528.4) scale(0.875 1)">3) классическое обучение;</text>
<text x="0" y="0" font-size="10" fill="#383838" transform="translate(825.0 540.2) scale(0.875 1)">4) нейросети и глубокое обучение.</text>
</svg>
</body></html>
